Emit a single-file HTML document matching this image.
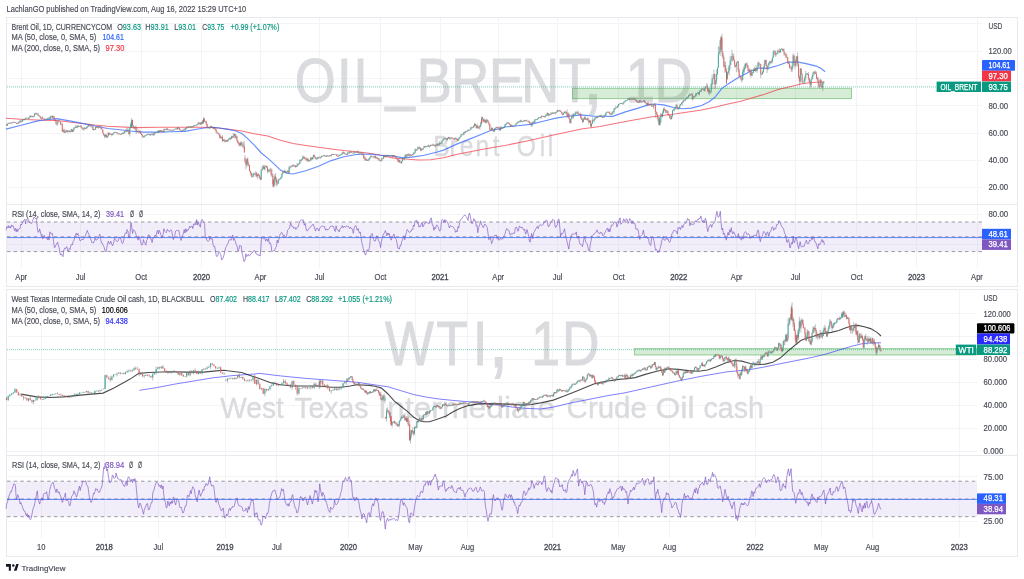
<!DOCTYPE html>
<html><head><meta charset="utf-8"><title>Brent Oil and WTI charts</title>
<style>html,body{margin:0;padding:0;background:#fff;width:1024px;height:579px;overflow:hidden}svg{display:block}</style>
</head><body>
<svg width="1024" height="579" viewBox="0 0 1024 579" font-family='"Liberation Sans", sans-serif'>
<rect width="1024" height="579" fill="#ffffff"/>
<text x="6.6" y="11.8" font-size="8.9" fill="#4a4d57" text-anchor="start" textLength="239.6" lengthAdjust="spacingAndGlyphs" stroke="#4a4d57" stroke-width="0.18">LachlanGO published on TradingView.com, Aug 16, 2022 15:29 UTC+10</text>
<rect x="6.5" y="17.5" width="1011" height="269" fill="#fff" stroke="#e8e9ee" stroke-width="1"/>
<line x1="21.5" y1="18" x2="21.5" y2="268" stroke="#f4f4f6" stroke-width="1"/>
<line x1="80.5" y1="18" x2="80.5" y2="268" stroke="#f4f4f6" stroke-width="1"/>
<line x1="141.5" y1="18" x2="141.5" y2="268" stroke="#f4f4f6" stroke-width="1"/>
<line x1="201.5" y1="18" x2="201.5" y2="268" stroke="#f4f4f6" stroke-width="1"/>
<line x1="260.5" y1="18" x2="260.5" y2="268" stroke="#f4f4f6" stroke-width="1"/>
<line x1="319.5" y1="18" x2="319.5" y2="268" stroke="#f4f4f6" stroke-width="1"/>
<line x1="380.5" y1="18" x2="380.5" y2="268" stroke="#f4f4f6" stroke-width="1"/>
<line x1="440.5" y1="18" x2="440.5" y2="268" stroke="#f4f4f6" stroke-width="1"/>
<line x1="498.5" y1="18" x2="498.5" y2="268" stroke="#f4f4f6" stroke-width="1"/>
<line x1="557.5" y1="18" x2="557.5" y2="268" stroke="#f4f4f6" stroke-width="1"/>
<line x1="618.5" y1="18" x2="618.5" y2="268" stroke="#f4f4f6" stroke-width="1"/>
<line x1="678.5" y1="18" x2="678.5" y2="268" stroke="#f4f4f6" stroke-width="1"/>
<line x1="736.5" y1="18" x2="736.5" y2="268" stroke="#f4f4f6" stroke-width="1"/>
<line x1="795.5" y1="18" x2="795.5" y2="268" stroke="#f4f4f6" stroke-width="1"/>
<line x1="856.5" y1="18" x2="856.5" y2="268" stroke="#f4f4f6" stroke-width="1"/>
<line x1="916.5" y1="18" x2="916.5" y2="268" stroke="#f4f4f6" stroke-width="1"/>
<line x1="977.5" y1="18" x2="977.5" y2="268" stroke="#f4f4f6" stroke-width="1"/>
<line x1="7" y1="23.5" x2="982" y2="23.5" stroke="#f4f4f6" stroke-width="1"/>
<line x1="7" y1="51.5" x2="982" y2="51.5" stroke="#f4f4f6" stroke-width="1"/>
<line x1="7" y1="78.5" x2="982" y2="78.5" stroke="#f4f4f6" stroke-width="1"/>
<line x1="7" y1="105.5" x2="982" y2="105.5" stroke="#f4f4f6" stroke-width="1"/>
<line x1="7" y1="133.5" x2="982" y2="133.5" stroke="#f4f4f6" stroke-width="1"/>
<line x1="7" y1="160.5" x2="982" y2="160.5" stroke="#f4f4f6" stroke-width="1"/>
<line x1="7" y1="187.5" x2="982" y2="187.5" stroke="#f4f4f6" stroke-width="1"/>
<line x1="7" y1="214.5" x2="982" y2="214.5" stroke="#f4f4f6" stroke-width="1"/>
<line x1="7" y1="244.5" x2="982" y2="244.5" stroke="#f4f4f6" stroke-width="1"/>
<line x1="6" y1="204.5" x2="1018" y2="204.5" stroke="#e8e9ee" stroke-width="1"/>
<text transform="scale(0.8321,1)" font-size="63.23" fill="#dadbde" stroke="#dadbde" stroke-width="1.0"><tspan x="354.3" y="102.4">O</tspan><tspan x="404.9" y="102.4">I</tspan><tspan x="425.0" y="102.4">L</tspan><tspan x="463.2" y="97.6">_</tspan><tspan x="500.8" y="102.4">B</tspan><tspan x="542.3" y="102.4">R</tspan><tspan x="587.8" y="102.4">E</tspan><tspan x="626.5" y="102.4">N</tspan><tspan x="671.6" y="102.4">T</tspan><tspan x="700.2" y="103.9" font-size="88">,</tspan><tspan x="721.1" y="102.4"> </tspan><tspan x="752.1" y="102.4">1</tspan><tspan x="786.6" y="102.4">D</tspan></text>
<text transform="scale(0.8329,1)" font-size="29.51" fill="#dadbde" stroke="#dadbde" stroke-width="0.4"><tspan x="520.2" y="155.7">B</tspan><tspan x="539.6" y="155.7">r</tspan><tspan x="551.9" y="155.7">e</tspan><tspan x="571.0" y="155.7">n</tspan><tspan x="591.5" y="155.7">t</tspan><tspan x="609.9" y="155.7"> </tspan><tspan x="620.3" y="155.7">O</tspan><tspan x="647.9" y="155.7">i</tspan><tspan x="657.8" y="155.7">l</tspan></text>
<rect x="572.5" y="88.3" width="279" height="10.3" fill="rgba(76,175,80,0.23)" stroke="#4caf50" stroke-opacity="0.55" stroke-width="1"/>
<line x1="7" y1="86.9" x2="937" y2="86.9" stroke="#089981" stroke-width="1" stroke-dasharray="1 1" opacity="0.5"/>
<polyline points="6.0,118.3 25.0,119.6 44.1,120.2 56.8,120.5 69.5,122.1 82.2,123.4 94.9,125.1 107.6,126.3 136.0,127.6 157.6,127.3 185.3,127.3 199.1,127.3 212.9,127.5 226.7,128.9 240.5,130.7 254.3,133.8 267.7,135.9 280.4,140.3 293.1,143.5 305.8,145.4 318.5,147.3 331.2,148.9 343.9,150.5 356.6,151.7 369.3,153.3 380.0,155.0 392.7,158.1 405.4,159.0 418.1,159.9 430.8,159.7 443.5,157.8 456.2,154.6 468.9,152.0 481.6,149.5 494.3,147.2 505.0,145.5 530.4,140.3 555.8,134.6 581.2,128.9 600.0,126.5 625.4,121.4 650.8,117.0 676.2,113.8 701.6,110.0 716.8,106.8 730.0,103.6 740.0,101.6 752.7,97.8 765.4,94.0 778.1,89.6 790.8,86.4 800.9,83.9 811.1,82.6 820.0,82.0 824.4,82.0" fill="none" stroke="#f23645" stroke-width="1.05" opacity="0.7"/>
<polyline points="6.0,129.1 21.2,125.3 37.7,120.9 44.1,120.0 56.8,118.7 69.5,120.9 82.2,123.4 94.9,126.0 107.6,128.5 120.3,129.8 130.0,131.0 143.8,132.1 157.6,132.1 171.4,131.8 185.3,131.4 196.3,129.3 206.0,127.7 212.9,127.3 219.8,128.0 226.7,129.1 235.0,130.7 241.9,133.5 247.4,138.3 254.3,145.2 261.3,153.0 267.7,158.1 274.0,163.8 280.4,170.1 286.7,173.3 293.1,174.0 305.8,170.8 318.5,166.3 331.2,160.6 343.9,156.8 356.6,154.5 369.3,154.0 380.0,155.2 392.7,155.9 402.9,157.8 411.7,157.1 424.4,155.2 437.1,152.0 443.5,150.1 456.2,144.4 468.9,139.4 481.6,134.3 490.4,130.5 500.6,128.6 505.0,127.0 517.7,125.7 530.4,124.4 543.1,121.3 555.8,118.1 568.5,116.2 581.2,114.9 593.9,116.2 600.0,116.3 612.7,116.3 625.4,111.9 638.1,108.1 648.2,104.9 654.6,104.0 663.5,104.9 673.6,107.5 682.5,108.7 691.4,108.1 701.6,105.5 709.2,101.7 715.5,96.7 721.9,88.4 730.0,82.7 739.2,77.0 746.8,73.2 750.2,71.2 759.0,68.0 767.9,68.3 778.1,65.5 787.0,62.3 797.1,61.9 806.0,63.6 816.2,66.1 821.2,68.6 825.1,71.8" fill="none" stroke="#2962ff" stroke-width="1.15" opacity="0.72"/>
<path d="M6.50 124.16V125.73M7.40 123.34V125.71M8.30 122.41V124.06M9.20 122.91V123.78M10.10 122.71V124.09M11.00 122.57V124.18M11.90 122.45V123.55M12.80 121.86V122.72M13.70 121.67V122.76M14.60 121.67V122.76M15.50 122.12V122.91M16.40 122.76V123.76M17.30 123.04V123.96M18.20 121.39V123.80M19.10 122.20V122.84M20.00 120.18V122.92M20.90 119.98V121.79M21.80 120.50V122.31M22.70 119.33V121.79M23.60 119.17V120.39M24.50 118.93V120.06M25.40 117.74V119.99M26.30 117.63V118.64M27.20 117.55V118.21M28.10 117.95V119.67M29.00 117.31V119.09M29.90 115.82V117.70M30.80 115.58V117.02M31.70 115.76V117.26M32.60 115.78V117.59M33.50 116.13V117.05M34.40 112.86V116.88M35.30 112.94V114.86M36.20 112.35V114.67M37.10 113.27V114.45M38.00 113.06V115.91M38.90 115.15V116.56M39.80 115.45V117.06M40.70 116.28V118.92M41.60 117.22V119.27M42.50 116.35V118.65M43.40 118.42V118.59M44.30 118.17V119.57M45.20 118.86V119.46M46.10 118.43V119.50M47.00 118.72V119.61M47.90 117.42V119.43M48.80 117.46V118.19M49.70 116.74V118.93M50.60 115.36V119.29M51.50 116.06V117.23M52.40 115.34V118.62M53.30 115.53V117.90M54.20 116.22V121.05M55.10 118.79V121.23M56.00 119.63V124.91M56.90 122.80V125.75M57.80 120.43V125.20M58.70 118.76V121.25M59.60 121.20V121.96M60.50 121.59V125.35M61.40 123.56V124.58M62.30 122.35V131.86M63.20 129.23V132.19M64.10 128.42V133.05M65.00 130.83V133.29M65.90 129.35V132.87M66.80 130.31V131.80M67.70 130.10V133.11M68.60 130.49V131.80M69.50 129.94V132.27M70.40 130.67V132.39M71.30 128.91V131.66M72.20 128.74V132.20M73.10 129.85V132.02M74.00 127.26V130.70M74.90 126.88V128.32M75.80 125.01V127.85M76.70 125.80V127.60M77.60 125.06V128.14M78.50 124.89V127.01M79.40 126.04V126.82M80.30 125.53V126.63M81.20 125.08V128.07M82.10 127.15V129.33M83.00 129.06V129.62M83.90 127.47V130.68M84.80 127.21V128.82M85.70 128.05V129.03M86.60 126.68V129.44M87.50 125.61V128.23M88.40 125.00V126.98M89.30 123.77V126.42M90.20 124.50V126.10M91.10 126.00V127.56M92.00 126.56V127.09M92.90 125.69V130.22M93.80 128.72V130.77M94.70 128.82V129.62M95.60 126.85V130.17M96.50 126.39V127.88M97.40 126.42V127.91M98.30 125.67V128.60M99.20 126.42V127.66M100.10 125.33V127.53M101.00 126.22V129.44M101.90 128.00V129.67M102.80 129.65V133.44M103.70 133.02V136.00M104.60 134.48V138.32M105.50 134.55V137.12M106.40 134.53V137.75M107.30 136.01V137.80M108.20 132.37V136.75M109.10 132.21V135.15M110.00 133.51V134.92M110.90 133.69V134.54M111.80 133.55V136.25M112.70 133.24V135.11M113.60 132.54V134.23M114.50 131.76V132.81M115.40 131.60V132.84M116.30 132.35V132.96M117.20 132.15V133.64M118.10 133.22V134.54M119.00 133.57V134.28M119.90 133.48V134.33M120.80 133.69V135.10M121.70 132.90V134.55M122.60 132.61V133.88M123.50 132.18V134.16M124.40 131.18V133.76M125.30 130.60V132.36M126.20 128.33V132.71M127.10 128.20V131.64M128.00 127.37V131.89M128.90 129.49V135.05M129.80 127.34V136.57M130.70 122.37V128.45M131.60 118.13V126.40M132.50 119.67V125.87M133.40 125.09V128.68M134.30 126.59V129.12M135.20 126.13V129.56M136.10 125.45V134.09M137.00 130.39V132.81M137.90 128.72V132.01M138.80 130.64V133.44M139.70 130.42V133.19M140.60 130.69V134.11M141.50 133.20V135.26M142.40 133.72V137.71M143.30 136.41V137.70M144.20 135.42V137.52M145.10 134.57V136.32M146.00 135.12V135.83M146.90 133.48V135.49M147.80 134.00V134.85M148.70 133.33V134.16M149.60 133.81V135.73M150.50 134.22V135.98M151.40 133.75V135.18M152.30 133.41V134.75M153.20 133.05V135.81M154.10 133.00V135.27M155.00 131.99V133.96M155.90 132.22V133.25M156.80 132.19V132.68M157.70 130.53V132.42M158.60 130.54V133.18M159.50 130.29V132.45M160.40 129.75V131.76M161.30 130.02V132.14M162.20 130.14V131.99M163.10 131.37V132.41M164.00 128.85V132.72M164.90 128.49V129.20M165.80 128.66V130.01M166.70 128.15V130.47M167.60 128.03V130.37M168.50 129.60V130.29M169.40 129.23V130.36M170.30 129.42V130.74M171.20 129.49V130.63M172.10 129.35V130.60M173.00 130.00V131.27M173.90 129.34V130.55M174.80 128.80V129.46M175.70 128.33V129.41M176.60 128.33V129.41M177.50 127.29V129.56M178.40 127.04V128.90M179.30 127.68V130.09M180.20 128.56V130.73M181.10 130.05V131.84M182.00 130.17V131.61M182.90 128.58V130.74M183.80 129.64V131.17M184.70 128.20V130.65M185.60 127.60V130.75M186.50 126.57V129.07M187.40 127.27V128.12M188.30 125.98V127.86M189.20 126.16V126.99M190.10 126.68V128.20M191.00 126.06V127.74M191.90 126.32V126.90M192.80 125.83V127.61M193.70 125.22V127.05M194.60 124.79V126.34M195.50 124.99V125.25M196.40 124.09V125.67M197.30 124.37V125.39M198.20 122.02V124.76M199.10 121.68V123.87M200.00 122.24V124.97M200.90 122.33V124.83M201.80 121.89V124.74M202.70 120.12V123.90M203.60 116.90V121.46M204.50 118.46V122.12M205.40 121.17V122.41M206.30 120.65V125.35M207.20 123.90V128.38M208.10 126.94V128.69M209.00 126.22V128.41M209.90 127.22V129.14M210.80 125.77V128.00M211.70 125.84V127.89M212.60 127.69V128.36M213.50 127.24V128.80M214.40 127.70V129.44M215.30 127.17V130.43M216.20 128.28V132.85M217.10 131.71V133.75M218.00 132.53V133.76M218.90 132.94V135.40M219.80 133.58V138.71M220.70 135.36V138.35M221.60 136.76V139.24M222.50 135.21V141.96M223.40 139.30V141.04M224.30 138.75V142.53M225.20 139.77V141.82M226.10 139.92V142.62M227.00 139.94V141.75M227.90 139.48V141.73M228.80 137.92V139.70M229.70 137.29V139.78M230.60 137.42V140.44M231.50 135.56V138.74M232.40 136.02V138.32M233.30 133.14V137.90M234.20 133.34V136.75M235.10 133.90V138.67M236.00 134.29V138.32M236.90 135.74V141.27M237.80 140.10V143.24M238.70 141.64V145.74M239.60 142.46V146.41M240.50 141.58V146.50M241.40 141.05V145.13M242.30 142.29V146.85M243.20 142.19V148.54M244.10 140.78V146.94M245.00 155.11V162.92M245.90 159.88V169.46M246.80 158.32V167.28M247.70 157.25V166.01M248.60 161.91V166.33M249.50 164.83V171.53M250.40 170.36V174.53M251.30 172.37V177.79M252.20 175.41V176.81M253.10 173.18V177.37M254.00 172.51V175.27M254.90 174.03V175.31M255.80 171.31V176.88M256.70 172.47V177.48M257.60 174.04V178.69M258.50 173.23V176.16M259.40 174.59V178.68M260.30 176.74V180.06M261.20 169.42V179.76M262.10 166.78V170.61M263.00 165.03V168.92M263.90 164.79V169.63M264.80 165.59V170.54M265.70 165.17V166.55M266.60 165.39V168.20M267.50 165.90V173.14M268.40 168.81V172.29M269.30 169.58V172.48M270.20 167.69V171.20M271.10 168.22V176.35M272.00 169.40V177.17M272.90 173.62V186.91M273.80 182.68V185.52M274.70 174.19V186.85M275.60 173.14V181.62M276.50 177.69V186.11M277.40 180.67V185.58M278.30 179.35V183.99M279.20 178.74V180.60M280.10 178.17V179.71M281.00 176.47V178.63M281.90 173.71V178.57M282.80 171.54V174.60M283.70 170.71V172.46M284.60 169.35V172.48M285.50 170.62V173.04M286.40 171.44V172.51M287.30 170.48V173.06M288.20 170.55V173.07M289.10 166.10V173.63M290.00 165.50V169.24M290.90 166.56V167.59M291.80 165.40V167.15M292.70 164.61V167.04M293.60 164.26V166.81M294.50 165.20V166.65M295.40 165.35V167.79M296.30 165.74V167.16M297.20 163.10V167.14M298.10 163.20V166.05M299.00 162.97V164.25M299.90 159.68V164.27M300.80 159.72V161.12M301.70 158.95V161.62M302.60 155.44V160.05M303.50 155.79V159.11M304.40 156.58V159.19M305.30 157.09V159.10M306.20 158.27V161.17M307.10 157.43V161.30M308.00 158.25V162.08M308.90 159.45V161.42M309.80 159.65V161.50M310.70 156.74V161.07M311.60 157.39V160.23M312.50 157.28V159.62M313.40 154.57V159.02M314.30 154.36V156.94M315.20 156.37V158.80M316.10 157.93V159.57M317.00 157.37V159.75M317.90 156.75V158.84M318.80 157.22V158.33M319.70 156.44V157.71M320.60 156.48V158.83M321.50 155.55V157.37M322.40 155.96V156.44M323.30 154.71V156.17M324.20 154.74V156.08M325.10 155.25V156.44M326.00 156.10V156.57M326.90 154.75V156.78M327.80 155.37V156.68M328.70 155.66V156.76M329.60 155.31V156.39M330.50 154.97V155.99M331.40 154.18V156.29M332.30 154.00V155.00M333.20 153.52V155.02M334.10 154.37V154.90M335.00 154.29V155.10M335.90 154.34V154.58M336.80 153.88V156.13M337.70 155.68V156.58M338.60 154.53V156.46M339.50 154.53V156.05M340.40 154.72V155.74M341.30 154.07V155.17M342.20 152.24V155.22M343.10 151.26V153.46M344.00 151.82V154.31M344.90 153.15V154.01M345.80 153.43V154.77M346.70 153.98V155.19M347.60 152.30V154.92M348.50 152.39V153.27M349.40 150.98V153.68M350.30 151.52V152.46M351.20 151.12V152.92M352.10 152.74V153.05M353.00 152.41V153.03M353.90 151.49V153.57M354.80 151.90V153.62M355.70 151.00V152.22M356.60 151.84V152.51M357.50 150.45V152.70M358.40 151.06V153.93M359.30 152.81V153.78M360.20 151.97V153.31M361.10 151.74V153.95M362.00 153.29V153.67M362.90 152.18V155.76M363.80 154.55V158.66M364.70 156.18V160.55M365.60 157.31V160.98M366.50 158.64V160.93M367.40 159.17V160.54M368.30 158.88V161.21M369.20 158.16V160.84M370.10 156.43V159.06M371.00 155.11V157.52M371.90 155.66V156.96M372.80 156.46V157.04M373.70 155.83V157.18M374.60 155.54V158.50M375.50 155.33V158.44M376.40 156.76V158.69M377.30 157.05V158.59M378.20 157.86V160.55M379.10 158.02V160.48M380.00 159.95V161.91M380.90 160.33V161.35M381.80 157.35V161.24M382.70 158.04V158.95M383.60 155.38V159.25M384.50 154.74V157.20M385.40 155.99V157.38M386.30 155.25V157.32M387.20 154.34V156.03M388.10 155.44V156.43M389.00 155.08V156.26M389.90 155.18V156.69M390.80 155.41V156.24M391.70 155.25V156.39M392.60 155.38V157.46M393.50 154.85V157.40M394.40 155.30V156.53M395.30 155.52V157.84M396.20 156.99V158.84M397.10 158.19V160.06M398.00 158.88V161.82M398.90 159.22V162.67M399.80 159.47V163.03M400.70 162.30V163.01M401.60 160.87V163.96M402.50 157.41V161.80M403.40 158.07V159.31M404.30 156.58V160.46M405.20 153.98V158.41M406.10 153.74V156.75M407.00 154.01V156.97M407.90 153.59V155.62M408.80 153.46V156.12M409.70 153.91V156.84M410.60 153.90V156.35M411.50 154.77V156.32M412.40 154.09V155.51M413.30 152.36V155.47M414.20 152.44V154.30M415.10 148.27V153.53M416.00 149.38V150.55M416.90 148.79V150.55M417.80 146.61V149.23M418.70 146.57V149.37M419.60 146.34V148.61M420.50 147.49V150.95M421.40 148.29V151.19M422.30 148.46V149.45M423.20 147.76V150.11M424.10 145.85V148.23M425.00 146.10V147.13M425.90 145.87V147.75M426.80 145.88V146.87M427.70 145.48V146.97M428.60 144.48V146.60M429.50 145.73V147.57M430.40 144.74V146.55M431.30 144.62V145.87M432.20 144.10V145.71M433.10 143.61V145.96M434.00 144.36V145.44M434.90 144.62V146.91M435.80 144.36V146.66M436.70 143.84V145.18M437.60 143.11V145.92M438.50 143.07V145.49M439.40 141.14V145.70M440.30 142.43V144.40M441.20 141.26V143.85M442.10 139.88V143.59M443.00 139.01V140.80M443.90 137.55V140.38M444.80 138.44V138.89M445.70 137.97V139.16M446.60 138.28V139.99M447.50 137.68V140.48M448.40 136.69V138.81M449.30 137.08V139.37M450.20 137.60V139.88M451.10 137.36V137.84M452.00 137.04V139.05M452.90 137.94V138.51M453.80 138.33V139.89M454.70 137.87V139.52M455.60 137.19V139.73M456.50 138.12V139.74M457.40 138.93V140.94M458.30 138.28V140.66M459.20 137.09V139.70M460.10 136.52V138.53M461.00 134.09V137.20M461.90 134.54V134.99M462.80 133.29V134.92M463.70 131.93V135.53M464.60 131.42V134.42M465.50 130.91V132.78M466.40 130.88V131.48M467.30 129.71V132.30M468.20 129.01V131.31M469.10 129.97V130.46M470.00 128.74V130.35M470.90 126.68V129.58M471.80 127.10V128.63M472.70 127.07V128.17M473.60 125.36V127.48M474.50 122.91V126.77M475.40 123.65V126.34M476.30 124.82V128.56M477.20 123.85V128.53M478.10 125.33V128.82M479.00 126.92V128.91M479.90 124.99V129.51M480.80 121.92V127.01M481.70 116.62V123.12M482.60 116.83V120.57M483.50 118.94V122.12M484.40 118.41V122.23M485.30 119.43V123.52M486.20 118.49V123.30M487.10 118.75V121.96M488.00 120.32V123.20M488.90 122.30V125.62M489.80 123.67V130.08M490.70 129.37V131.06M491.60 126.76V130.91M492.50 127.57V129.95M493.40 129.46V132.00M494.30 128.06V132.29M495.20 127.84V130.29M496.10 126.94V128.29M497.00 126.60V128.67M497.90 126.65V127.73M498.80 126.98V128.73M499.70 126.61V130.46M500.60 126.22V130.41M501.50 126.61V128.48M502.40 127.25V129.04M503.30 126.94V128.22M504.20 126.20V127.75M505.10 124.18V127.19M506.00 123.45V124.72M506.90 122.49V124.10M507.80 121.96V122.75M508.70 122.36V124.40M509.60 123.36V124.81M510.50 123.98V126.28M511.40 124.47V126.62M512.30 125.22V126.99M513.20 125.84V126.32M514.10 125.64V126.08M515.00 124.60V125.84M515.90 123.44V125.52M516.80 122.12V124.18M517.70 121.54V123.29M518.60 121.13V123.04M519.50 120.80V122.11M520.40 120.15V122.53M521.30 119.58V121.98M522.20 121.62V122.44M523.10 120.84V121.99M524.00 119.93V121.51M524.90 119.92V122.03M525.80 120.20V121.43M526.70 119.50V120.97M527.60 120.96V121.97M528.50 120.70V122.53M529.40 120.54V123.80M530.30 122.24V124.37M531.20 123.06V126.60M532.10 121.94V126.71M533.00 121.13V122.94M533.90 120.97V122.78M534.80 119.07V122.95M535.70 119.03V120.14M536.60 118.94V120.33M537.50 118.18V119.83M538.40 117.35V119.14M539.30 117.11V117.63M540.20 116.95V118.58M541.10 115.93V118.85M542.00 115.30V117.17M542.90 116.12V116.82M543.80 115.53V117.20M544.70 115.91V117.86M545.60 114.52V117.41M546.50 113.82V115.74M547.40 111.98V115.97M548.30 113.06V116.61M549.20 113.83V115.78M550.10 113.44V115.12M551.00 112.06V115.09M551.90 112.78V114.01M552.80 111.91V113.95M553.70 112.48V113.22M554.60 112.13V113.67M555.50 112.13V114.47M556.40 111.34V113.04M557.30 110.25V112.33M558.20 109.93V111.97M559.10 110.01V111.10M560.00 109.66V111.79M560.90 110.64V112.19M561.80 111.55V114.37M562.70 112.79V115.43M563.60 112.56V114.67M564.50 110.92V113.21M565.40 110.77V113.59M566.30 111.55V114.22M567.20 109.42V117.75M568.10 112.18V117.34M569.00 113.42V118.92M569.90 118.01V123.14M570.80 118.74V123.94M571.70 114.49V119.19M572.60 113.57V117.53M573.50 113.08V118.51M574.40 113.81V115.06M575.30 111.50V115.82M576.20 111.34V113.69M577.10 111.37V113.50M578.00 110.44V114.78M578.90 113.24V115.24M579.80 113.80V115.40M580.70 112.36V118.71M581.60 116.38V120.03M582.50 118.60V123.02M583.40 117.99V122.09M584.30 116.54V119.91M585.20 115.64V119.97M586.10 118.36V120.18M587.00 118.10V120.00M587.90 117.27V121.19M588.80 119.30V124.51M589.70 119.72V122.82M590.60 120.05V126.65M591.50 123.56V127.25M592.40 117.13V124.03M593.30 119.62V121.41M594.20 118.03V122.46M595.10 116.90V119.94M596.00 116.42V117.73M596.90 116.43V118.73M597.80 116.40V118.22M598.70 116.28V116.83M599.60 115.18V116.97M600.50 114.81V117.04M601.40 114.53V117.13M602.30 116.28V118.12M603.20 116.78V117.71M604.10 114.75V117.70M605.00 114.41V115.62M605.90 111.81V115.58M606.80 112.02V113.19M607.70 111.09V112.55M608.60 111.52V112.65M609.50 111.54V114.29M610.40 112.84V114.31M611.30 113.38V115.10M612.20 111.23V114.80M613.10 110.98V112.71M614.00 107.96V113.95M614.90 107.88V109.69M615.80 105.80V108.76M616.70 107.24V107.97M617.60 105.41V108.04M618.50 104.23V106.78M619.40 103.72V105.01M620.30 102.97V103.76M621.20 102.49V103.67M622.10 103.14V104.26M623.00 102.52V105.03M623.90 101.40V103.45M624.80 100.62V102.10M625.70 100.26V101.59M626.60 100.27V100.72M627.50 99.24V100.54M628.40 98.04V100.01M629.30 97.88V100.08M630.20 99.18V100.08M631.10 97.85V99.60M632.00 98.25V99.57M632.90 98.11V99.96M633.80 97.69V99.56M634.70 98.25V99.41M635.60 98.88V100.77M636.50 99.90V102.26M637.40 100.66V102.73M638.30 101.73V102.86M639.20 100.18V103.11M640.10 99.80V102.71M641.00 99.87V102.23M641.90 101.32V102.53M642.80 100.87V102.17M643.70 100.09V101.61M644.60 99.99V103.18M645.50 101.79V103.21M646.40 102.83V105.58M647.30 102.63V105.49M648.20 102.35V105.36M649.10 104.19V105.78M650.00 103.24V105.27M650.90 103.30V104.87M651.80 103.66V106.50M652.70 106.05V106.88M653.60 103.99V108.91M654.50 103.64V105.45M655.40 103.36V117.75M656.30 111.47V114.46M657.20 112.72V118.67M658.10 115.35V122.13M659.00 120.29V125.49M659.90 121.28V125.88M660.80 112.72V123.27M661.70 113.69V116.70M662.60 110.57V117.62M663.50 107.73V113.33M664.40 107.07V110.95M665.30 109.41V113.28M666.20 109.88V112.76M667.10 109.62V112.59M668.00 110.78V115.36M668.90 115.01V115.57M669.80 114.79V118.43M670.70 115.49V120.18M671.60 115.33V119.41M672.50 110.11V117.37M673.40 108.26V110.92M674.30 108.67V111.60M675.20 106.77V109.65M676.10 104.00V107.57M677.00 103.40V109.50M677.90 107.12V110.07M678.80 107.09V109.46M679.70 104.33V108.62M680.60 103.79V105.53M681.50 102.36V104.65M682.40 101.48V105.54M683.30 98.25V102.95M684.20 100.42V101.43M685.10 98.40V101.36M686.00 96.99V99.47M686.90 96.28V99.48M687.80 96.36V98.20M688.70 94.46V97.67M689.60 92.89V95.36M690.50 94.19V95.80M691.40 93.55V95.13M692.30 92.52V100.67M693.20 95.45V99.51M694.10 96.00V98.30M695.00 94.88V96.91M695.90 93.13V96.52M696.80 92.78V95.65M697.70 91.81V93.96M698.60 91.88V94.94M699.50 89.95V95.38M700.40 90.30V92.08M701.30 88.76V91.89M702.20 88.05V89.82M703.10 87.54V89.78M704.00 88.86V91.16M704.90 86.28V91.68M705.80 85.88V88.97M706.70 83.27V87.26M707.60 84.16V91.75M708.50 87.93V94.15M709.40 88.44V95.32M710.30 90.97V93.39M711.20 82.90V93.24M712.10 74.54V88.57M713.00 77.69V85.03M713.90 69.49V79.37M714.80 73.64V89.05M715.70 80.10V87.96M716.60 69.26V84.06M717.50 67.62V74.80M718.40 46.32V67.83M719.30 46.94V54.21M720.20 40.05V55.81M721.10 36.48V43.79M722.00 33.69V56.44M722.90 51.05V59.29M723.80 55.10V67.56M724.70 61.43V72.77M725.60 61.77V72.42M726.50 68.33V83.98M727.40 71.86V79.88M728.30 67.26V74.17M729.20 64.93V75.55M730.10 55.71V69.50M731.00 57.59V65.13M731.90 49.81V60.82M732.80 52.98V61.59M733.70 53.83V60.54M734.60 59.69V67.68M735.50 65.14V67.44M736.40 62.39V72.15M737.30 61.36V63.03M738.20 60.83V72.03M739.10 68.20V76.85M740.00 74.40V77.72M740.90 76.09V80.79M741.80 77.89V82.57M742.70 68.97V80.63M743.60 66.59V74.77M744.50 64.50V72.60M745.40 63.00V69.27M746.30 63.38V65.62M747.20 62.22V67.63M748.10 64.87V71.75M749.00 68.81V72.12M749.90 68.57V75.40M750.80 69.91V77.60M751.70 69.10V75.68M752.60 71.88V76.06M753.50 68.25V73.06M754.40 66.55V71.14M755.30 67.84V72.23M756.20 65.08V71.16M757.10 67.37V72.77M758.00 61.59V67.80M758.90 61.47V67.29M759.80 63.58V66.34M760.70 63.76V78.10M761.60 73.35V74.34M762.50 70.86V74.65M763.40 66.61V73.16M764.30 59.82V69.81M765.20 59.68V64.26M766.10 59.84V66.33M767.00 63.69V73.08M767.90 65.75V70.28M768.80 62.30V66.19M769.70 61.07V64.44M770.60 61.24V64.32M771.50 59.96V63.52M772.40 56.83V63.19M773.30 50.13V57.71M774.20 50.37V52.50M775.10 50.13V56.74M776.00 51.36V56.54M776.90 53.05V53.98M777.80 49.31V54.26M778.70 50.16V51.90M779.60 48.20V53.04M780.50 49.14V52.95M781.40 48.15V49.62M782.30 48.14V51.42M783.20 48.77V51.39M784.10 48.44V56.03M785.00 52.97V54.74M785.90 52.49V58.51M786.80 54.23V58.13M787.70 57.07V64.24M788.60 60.90V64.16M789.50 61.38V68.61M790.40 65.39V68.32M791.30 67.47V71.93M792.20 62.70V71.80M793.10 53.27V67.58M794.00 54.78V62.97M794.90 56.53V69.10M795.80 58.94V66.75M796.70 55.95V62.52M797.60 52.42V66.61M798.50 62.95V78.61M799.40 75.63V85.64M800.30 68.35V83.38M801.20 68.41V75.16M802.10 72.87V82.85M803.00 81.81V83.41M803.90 79.29V82.33M804.80 76.28V84.08M805.70 70.97V79.65M806.60 72.99V74.52M807.50 73.43V75.05M808.40 72.01V80.23M809.30 77.87V82.52M810.20 80.15V88.28M811.10 79.06V87.05M812.00 75.28V79.47M812.90 72.52V79.14M813.80 71.09V74.06M814.70 70.74V75.20M815.60 70.67V74.02M816.50 71.62V79.00M817.40 77.15V80.57M818.30 76.90V87.57M819.20 84.52V87.57M820.10 78.57V88.69M821.00 78.93V83.79M821.90 83.58V87.93M822.80 81.65V91.16M823.70 81.69V83.71" stroke="#737375" stroke-width="0.45" fill="none"/>
<path d="M6.90 123.95h1.0v1.74h-1.0zM7.80 123.21h1.0v0.74h-1.0zM9.60 122.75h1.0v0.60h-1.0zM11.40 122.52h1.0v0.60h-1.0zM12.30 122.36h1.0v0.60h-1.0zM13.20 122.26h1.0v0.60h-1.0zM17.70 122.57h1.0v1.17h-1.0zM19.50 120.76h1.0v1.91h-1.0zM21.30 121.35h1.0v0.60h-1.0zM22.20 119.35h1.0v2.00h-1.0zM24.00 119.60h1.0v0.60h-1.0zM24.90 118.13h1.0v1.47h-1.0zM25.80 117.67h1.0v0.60h-1.0zM28.50 117.60h1.0v1.27h-1.0zM29.40 115.84h1.0v1.76h-1.0zM31.20 115.88h1.0v0.83h-1.0zM33.00 116.15h1.0v0.63h-1.0zM33.90 113.70h1.0v2.45h-1.0zM35.70 113.63h1.0v0.60h-1.0zM36.60 113.47h1.0v0.60h-1.0zM41.10 117.53h1.0v0.72h-1.0zM45.60 118.99h1.0v0.60h-1.0zM46.50 118.87h1.0v0.60h-1.0zM47.40 118.01h1.0v0.85h-1.0zM48.30 117.79h1.0v0.60h-1.0zM50.10 116.49h1.0v1.91h-1.0zM51.00 116.08h1.0v0.60h-1.0zM52.80 116.53h1.0v0.92h-1.0zM56.40 123.15h1.0v0.60h-1.0zM57.30 121.19h1.0v1.97h-1.0zM62.70 129.91h1.0v1.61h-1.0zM64.50 131.96h1.0v0.60h-1.0zM65.40 130.47h1.0v1.49h-1.0zM67.20 130.79h1.0v0.90h-1.0zM69.90 131.54h1.0v0.60h-1.0zM70.80 129.13h1.0v2.41h-1.0zM72.60 130.11h1.0v1.85h-1.0zM73.50 127.64h1.0v2.48h-1.0zM74.40 127.41h1.0v0.60h-1.0zM75.30 126.52h1.0v0.89h-1.0zM77.10 126.48h1.0v0.96h-1.0zM78.00 126.19h1.0v0.60h-1.0zM78.90 126.17h1.0v0.60h-1.0zM79.80 125.74h1.0v0.60h-1.0zM83.40 127.76h1.0v1.76h-1.0zM85.20 128.11h1.0v0.60h-1.0zM86.10 126.76h1.0v1.35h-1.0zM87.00 126.63h1.0v0.60h-1.0zM87.90 125.54h1.0v1.09h-1.0zM88.80 124.62h1.0v0.92h-1.0zM91.50 126.67h1.0v0.60h-1.0zM93.30 128.92h1.0v0.96h-1.0zM95.10 126.90h1.0v2.35h-1.0zM97.80 126.67h1.0v1.14h-1.0zM99.60 126.75h1.0v0.60h-1.0zM105.00 134.62h1.0v1.93h-1.0zM106.80 136.16h1.0v1.27h-1.0zM107.70 132.66h1.0v3.50h-1.0zM109.50 133.77h1.0v0.94h-1.0zM112.20 134.11h1.0v0.85h-1.0zM113.10 132.81h1.0v1.30h-1.0zM114.00 132.49h1.0v0.60h-1.0zM115.80 132.54h1.0v0.60h-1.0zM118.50 133.75h1.0v0.60h-1.0zM121.20 133.40h1.0v1.14h-1.0zM123.00 132.77h1.0v0.97h-1.0zM123.90 131.25h1.0v1.52h-1.0zM124.80 130.69h1.0v0.60h-1.0zM126.60 130.11h1.0v1.03h-1.0zM129.30 128.29h1.0v5.77h-1.0zM130.20 123.92h1.0v4.37h-1.0zM131.10 120.09h1.0v3.83h-1.0zM134.70 127.08h1.0v1.13h-1.0zM137.40 130.95h1.0v0.60h-1.0zM139.20 131.44h1.0v0.60h-1.0zM143.70 135.85h1.0v1.28h-1.0zM144.60 135.77h1.0v0.60h-1.0zM145.50 135.25h1.0v0.60h-1.0zM146.40 134.15h1.0v1.10h-1.0zM148.20 134.07h1.0v0.60h-1.0zM150.00 134.36h1.0v0.60h-1.0zM150.90 133.85h1.0v0.60h-1.0zM151.80 133.75h1.0v0.60h-1.0zM153.60 133.42h1.0v1.74h-1.0zM154.50 132.46h1.0v0.97h-1.0zM156.30 132.21h1.0v0.60h-1.0zM157.20 130.77h1.0v1.44h-1.0zM159.00 130.34h1.0v1.75h-1.0zM160.80 130.84h1.0v0.90h-1.0zM163.50 128.98h1.0v3.37h-1.0zM166.20 128.86h1.0v0.72h-1.0zM168.00 129.64h1.0v0.60h-1.0zM170.70 129.95h1.0v0.60h-1.0zM172.50 130.24h1.0v0.60h-1.0zM173.40 129.43h1.0v0.81h-1.0zM174.30 128.96h1.0v0.60h-1.0zM175.20 128.39h1.0v0.60h-1.0zM177.00 127.36h1.0v1.96h-1.0zM181.50 130.63h1.0v0.60h-1.0zM182.40 129.74h1.0v0.89h-1.0zM184.20 129.17h1.0v1.10h-1.0zM185.10 127.88h1.0v1.30h-1.0zM186.00 127.62h1.0v0.60h-1.0zM187.80 126.38h1.0v1.40h-1.0zM190.50 126.37h1.0v1.13h-1.0zM191.40 126.37h1.0v0.60h-1.0zM193.20 126.03h1.0v0.94h-1.0zM194.10 125.18h1.0v0.84h-1.0zM195.00 125.00h1.0v0.60h-1.0zM196.80 124.55h1.0v0.60h-1.0zM197.70 122.95h1.0v1.60h-1.0zM200.40 122.36h1.0v2.11h-1.0zM202.20 120.41h1.0v3.33h-1.0zM203.10 118.47h1.0v1.93h-1.0zM204.90 121.57h1.0v0.60h-1.0zM207.60 127.03h1.0v0.81h-1.0zM209.40 127.94h1.0v0.60h-1.0zM210.30 126.04h1.0v1.90h-1.0zM213.00 128.12h1.0v0.60h-1.0zM220.20 136.79h1.0v1.29h-1.0zM222.90 139.67h1.0v1.25h-1.0zM225.60 140.08h1.0v1.48h-1.0zM227.40 139.53h1.0v2.09h-1.0zM228.30 138.68h1.0v0.85h-1.0zM229.20 138.07h1.0v0.62h-1.0zM231.00 136.49h1.0v2.21h-1.0zM232.80 135.76h1.0v1.71h-1.0zM233.70 134.04h1.0v1.73h-1.0zM235.50 136.60h1.0v1.20h-1.0zM240.00 142.97h1.0v2.35h-1.0zM243.60 144.61h1.0v0.60h-1.0zM246.30 158.89h1.0v5.76h-1.0zM252.60 173.45h1.0v3.18h-1.0zM255.30 172.63h1.0v1.72h-1.0zM257.10 174.55h1.0v1.79h-1.0zM260.70 170.41h1.0v9.34h-1.0zM261.60 168.81h1.0v1.60h-1.0zM262.50 166.34h1.0v2.47h-1.0zM264.30 166.50h1.0v2.81h-1.0zM265.20 166.21h1.0v0.60h-1.0zM267.90 170.63h1.0v0.78h-1.0zM268.80 169.94h1.0v0.69h-1.0zM269.70 169.62h1.0v0.60h-1.0zM274.20 176.47h1.0v8.40h-1.0zM277.80 179.52h1.0v3.72h-1.0zM279.60 178.24h1.0v1.34h-1.0zM280.50 177.10h1.0v1.14h-1.0zM281.40 173.72h1.0v3.38h-1.0zM282.30 171.87h1.0v1.84h-1.0zM284.10 170.88h1.0v1.32h-1.0zM285.90 172.12h1.0v0.60h-1.0zM286.80 170.71h1.0v1.41h-1.0zM288.60 167.62h1.0v5.18h-1.0zM289.50 166.63h1.0v0.99h-1.0zM291.30 165.59h1.0v1.19h-1.0zM292.20 165.27h1.0v0.60h-1.0zM295.80 165.97h1.0v0.96h-1.0zM296.70 164.45h1.0v1.51h-1.0zM297.60 164.22h1.0v0.60h-1.0zM298.50 163.69h1.0v0.60h-1.0zM299.40 159.77h1.0v3.92h-1.0zM301.20 158.96h1.0v1.31h-1.0zM302.10 157.62h1.0v1.34h-1.0zM303.00 156.97h1.0v0.65h-1.0zM306.60 158.79h1.0v1.27h-1.0zM308.40 160.77h1.0v0.60h-1.0zM309.30 160.31h1.0v0.60h-1.0zM310.20 157.76h1.0v2.55h-1.0zM312.00 157.53h1.0v1.68h-1.0zM312.90 155.18h1.0v2.35h-1.0zM316.50 157.55h1.0v1.77h-1.0zM318.30 157.35h1.0v0.99h-1.0zM319.20 157.22h1.0v0.60h-1.0zM321.00 156.18h1.0v1.08h-1.0zM321.90 156.10h1.0v0.60h-1.0zM322.80 155.65h1.0v0.60h-1.0zM323.70 155.55h1.0v0.60h-1.0zM326.40 155.55h1.0v0.96h-1.0zM328.20 155.70h1.0v0.61h-1.0zM329.10 155.55h1.0v0.60h-1.0zM330.90 154.49h1.0v1.14h-1.0zM331.80 154.12h1.0v0.60h-1.0zM333.60 154.43h1.0v0.60h-1.0zM335.40 154.47h1.0v0.60h-1.0zM338.10 155.54h1.0v0.62h-1.0zM339.00 155.42h1.0v0.60h-1.0zM339.90 154.87h1.0v0.60h-1.0zM340.80 154.25h1.0v0.62h-1.0zM341.70 152.87h1.0v1.37h-1.0zM342.60 152.27h1.0v0.61h-1.0zM344.40 153.66h1.0v0.60h-1.0zM347.10 152.71h1.0v1.82h-1.0zM348.90 151.96h1.0v1.20h-1.0zM349.80 151.87h1.0v0.60h-1.0zM353.40 152.81h1.0v0.60h-1.0zM354.30 152.17h1.0v0.64h-1.0zM355.20 152.05h1.0v0.60h-1.0zM357.00 151.72h1.0v0.60h-1.0zM358.80 152.85h1.0v0.60h-1.0zM359.70 152.44h1.0v0.60h-1.0zM361.50 153.53h1.0v0.60h-1.0zM366.90 160.31h1.0v0.60h-1.0zM367.80 159.73h1.0v0.60h-1.0zM368.70 158.32h1.0v1.41h-1.0zM369.60 157.03h1.0v1.30h-1.0zM370.50 156.12h1.0v0.91h-1.0zM372.30 156.82h1.0v0.60h-1.0zM374.10 156.55h1.0v0.60h-1.0zM375.90 157.49h1.0v0.60h-1.0zM381.30 158.49h1.0v2.19h-1.0zM383.10 155.82h1.0v2.80h-1.0zM385.80 155.76h1.0v1.15h-1.0zM387.60 155.77h1.0v0.60h-1.0zM389.40 155.67h1.0v0.60h-1.0zM391.20 155.57h1.0v0.60h-1.0zM393.00 155.38h1.0v1.84h-1.0zM398.40 160.00h1.0v1.67h-1.0zM401.10 160.90h1.0v2.03h-1.0zM402.00 158.69h1.0v2.20h-1.0zM403.80 157.10h1.0v1.89h-1.0zM404.70 155.02h1.0v2.09h-1.0zM406.50 155.32h1.0v0.84h-1.0zM407.40 154.30h1.0v1.02h-1.0zM409.20 154.47h1.0v1.10h-1.0zM411.90 154.43h1.0v0.69h-1.0zM412.80 153.12h1.0v1.31h-1.0zM413.70 152.76h1.0v0.60h-1.0zM414.60 149.38h1.0v3.38h-1.0zM416.40 149.12h1.0v1.37h-1.0zM417.30 147.61h1.0v1.50h-1.0zM419.10 147.70h1.0v0.88h-1.0zM420.90 149.26h1.0v1.25h-1.0zM421.80 149.04h1.0v0.60h-1.0zM422.70 148.01h1.0v1.04h-1.0zM423.60 146.18h1.0v1.83h-1.0zM425.40 146.17h1.0v0.80h-1.0zM426.30 146.16h1.0v0.60h-1.0zM427.20 145.54h1.0v0.62h-1.0zM429.00 146.24h1.0v0.60h-1.0zM429.90 144.89h1.0v1.35h-1.0zM432.60 144.71h1.0v0.94h-1.0zM435.30 145.02h1.0v1.22h-1.0zM436.20 144.24h1.0v0.78h-1.0zM438.00 144.42h1.0v0.79h-1.0zM438.90 143.31h1.0v1.12h-1.0zM440.70 142.69h1.0v1.03h-1.0zM441.60 140.42h1.0v2.27h-1.0zM442.50 139.68h1.0v0.74h-1.0zM443.40 138.46h1.0v1.22h-1.0zM445.20 138.48h1.0v0.60h-1.0zM447.00 138.24h1.0v1.49h-1.0zM447.90 137.12h1.0v1.12h-1.0zM449.70 137.71h1.0v1.00h-1.0zM450.60 137.54h1.0v0.60h-1.0zM454.20 138.55h1.0v0.93h-1.0zM455.10 138.34h1.0v0.60h-1.0zM457.80 138.51h1.0v2.15h-1.0zM458.70 137.61h1.0v0.89h-1.0zM459.60 136.66h1.0v0.96h-1.0zM460.50 134.62h1.0v2.03h-1.0zM462.30 133.65h1.0v1.06h-1.0zM463.20 132.44h1.0v1.20h-1.0zM465.00 131.46h1.0v1.22h-1.0zM465.90 131.06h1.0v0.60h-1.0zM466.80 130.63h1.0v0.60h-1.0zM467.70 130.16h1.0v0.60h-1.0zM469.50 129.42h1.0v0.89h-1.0zM470.40 127.38h1.0v2.04h-1.0zM472.20 127.43h1.0v0.60h-1.0zM473.10 125.80h1.0v1.62h-1.0zM474.00 123.91h1.0v1.89h-1.0zM476.70 125.88h1.0v2.03h-1.0zM479.40 125.88h1.0v1.70h-1.0zM480.30 122.49h1.0v3.39h-1.0zM481.20 117.35h1.0v5.15h-1.0zM483.90 120.31h1.0v1.23h-1.0zM485.70 120.07h1.0v2.57h-1.0zM491.10 127.93h1.0v1.76h-1.0zM493.80 129.33h1.0v2.05h-1.0zM494.70 128.11h1.0v1.22h-1.0zM495.60 127.07h1.0v1.04h-1.0zM500.10 127.38h1.0v3.02h-1.0zM501.90 127.85h1.0v0.60h-1.0zM502.80 127.49h1.0v0.60h-1.0zM503.70 126.65h1.0v0.83h-1.0zM504.60 124.33h1.0v2.33h-1.0zM505.50 124.09h1.0v0.60h-1.0zM506.40 122.50h1.0v1.59h-1.0zM510.90 125.41h1.0v0.83h-1.0zM512.70 125.91h1.0v0.60h-1.0zM513.60 125.67h1.0v0.60h-1.0zM514.50 125.12h1.0v0.60h-1.0zM515.40 123.92h1.0v1.21h-1.0zM516.30 122.85h1.0v1.07h-1.0zM517.20 122.15h1.0v0.69h-1.0zM518.10 121.86h1.0v0.60h-1.0zM519.00 121.22h1.0v0.64h-1.0zM519.90 120.53h1.0v0.68h-1.0zM521.70 121.75h1.0v0.60h-1.0zM522.60 121.19h1.0v0.60h-1.0zM523.50 120.27h1.0v0.92h-1.0zM525.30 120.32h1.0v0.60h-1.0zM531.60 122.19h1.0v3.19h-1.0zM532.50 121.98h1.0v0.60h-1.0zM534.30 119.77h1.0v2.98h-1.0zM535.20 119.52h1.0v0.60h-1.0zM536.10 119.40h1.0v0.60h-1.0zM537.00 118.92h1.0v0.60h-1.0zM537.90 117.56h1.0v1.37h-1.0zM538.80 117.48h1.0v0.60h-1.0zM540.60 116.56h1.0v1.05h-1.0zM541.50 116.36h1.0v0.60h-1.0zM544.20 116.47h1.0v0.63h-1.0zM545.10 115.40h1.0v1.08h-1.0zM546.00 114.85h1.0v0.60h-1.0zM546.90 113.17h1.0v1.68h-1.0zM548.70 113.96h1.0v1.34h-1.0zM550.50 113.69h1.0v0.88h-1.0zM551.40 112.86h1.0v0.83h-1.0zM553.20 112.85h1.0v0.60h-1.0zM555.00 112.64h1.0v0.60h-1.0zM555.90 112.07h1.0v0.60h-1.0zM556.80 110.31h1.0v1.76h-1.0zM558.60 110.48h1.0v0.60h-1.0zM563.10 112.78h1.0v1.86h-1.0zM564.00 112.30h1.0v0.60h-1.0zM564.90 111.93h1.0v0.60h-1.0zM567.60 113.85h1.0v2.16h-1.0zM570.30 119.18h1.0v3.82h-1.0zM571.20 116.53h1.0v2.65h-1.0zM573.00 114.70h1.0v2.61h-1.0zM573.90 114.56h1.0v0.60h-1.0zM574.80 112.70h1.0v1.86h-1.0zM575.70 112.56h1.0v0.60h-1.0zM576.60 112.18h1.0v0.60h-1.0zM578.40 113.87h1.0v0.60h-1.0zM582.90 119.20h1.0v2.78h-1.0zM583.80 117.19h1.0v2.01h-1.0zM586.50 118.26h1.0v1.29h-1.0zM589.20 120.86h1.0v1.40h-1.0zM591.00 123.79h1.0v2.81h-1.0zM591.90 120.19h1.0v3.61h-1.0zM593.70 118.95h1.0v1.53h-1.0zM594.60 117.47h1.0v1.48h-1.0zM595.50 117.37h1.0v0.60h-1.0zM597.30 116.52h1.0v1.21h-1.0zM598.20 116.34h1.0v0.60h-1.0zM599.10 115.84h1.0v0.60h-1.0zM600.00 115.78h1.0v0.60h-1.0zM602.70 117.22h1.0v0.60h-1.0zM603.60 115.21h1.0v2.01h-1.0zM605.40 112.89h1.0v2.61h-1.0zM606.30 112.46h1.0v0.60h-1.0zM607.20 112.15h1.0v0.60h-1.0zM609.90 113.81h1.0v0.60h-1.0zM611.70 112.19h1.0v2.37h-1.0zM612.60 111.98h1.0v0.60h-1.0zM613.50 109.47h1.0v2.50h-1.0zM614.40 108.26h1.0v1.21h-1.0zM615.30 107.48h1.0v0.78h-1.0zM617.10 105.94h1.0v1.56h-1.0zM618.00 104.36h1.0v1.59h-1.0zM618.90 103.76h1.0v0.60h-1.0zM619.80 103.30h1.0v0.60h-1.0zM621.60 103.38h1.0v0.60h-1.0zM622.50 103.35h1.0v0.60h-1.0zM623.40 101.74h1.0v1.62h-1.0zM624.30 101.18h1.0v0.60h-1.0zM625.20 100.32h1.0v0.86h-1.0zM626.10 100.29h1.0v0.60h-1.0zM627.00 99.49h1.0v0.80h-1.0zM627.90 98.07h1.0v1.42h-1.0zM629.70 99.50h1.0v0.60h-1.0zM630.60 98.98h1.0v0.60h-1.0zM632.40 98.43h1.0v0.60h-1.0zM634.20 99.30h1.0v0.60h-1.0zM638.70 100.19h1.0v2.48h-1.0zM640.50 101.75h1.0v0.60h-1.0zM642.30 101.21h1.0v0.89h-1.0zM643.20 100.27h1.0v0.93h-1.0zM646.80 102.76h1.0v1.93h-1.0zM648.60 104.54h1.0v0.65h-1.0zM650.40 103.77h1.0v0.93h-1.0zM653.10 104.73h1.0v1.78h-1.0zM654.00 104.55h1.0v0.60h-1.0zM659.40 121.66h1.0v3.23h-1.0zM660.30 114.51h1.0v7.16h-1.0zM662.10 112.67h1.0v3.96h-1.0zM663.00 109.05h1.0v3.63h-1.0zM666.60 111.41h1.0v1.13h-1.0zM671.10 115.76h1.0v3.33h-1.0zM672.00 110.54h1.0v5.22h-1.0zM672.90 109.57h1.0v0.97h-1.0zM673.80 109.48h1.0v0.60h-1.0zM674.70 107.21h1.0v2.27h-1.0zM675.60 105.29h1.0v1.92h-1.0zM678.30 107.68h1.0v1.40h-1.0zM679.20 105.38h1.0v2.30h-1.0zM680.10 103.99h1.0v1.40h-1.0zM681.00 102.74h1.0v1.24h-1.0zM681.90 101.81h1.0v0.93h-1.0zM682.80 100.48h1.0v1.33h-1.0zM684.60 99.39h1.0v1.47h-1.0zM685.50 98.31h1.0v1.08h-1.0zM686.40 97.61h1.0v0.69h-1.0zM687.30 97.20h1.0v0.60h-1.0zM688.20 95.02h1.0v2.17h-1.0zM689.10 94.82h1.0v0.60h-1.0zM690.90 94.31h1.0v0.62h-1.0zM692.70 96.71h1.0v2.35h-1.0zM693.60 96.55h1.0v0.60h-1.0zM694.50 96.38h1.0v0.60h-1.0zM695.40 93.36h1.0v3.03h-1.0zM696.30 93.01h1.0v0.60h-1.0zM697.20 92.81h1.0v0.60h-1.0zM699.00 91.86h1.0v2.36h-1.0zM699.90 91.48h1.0v0.60h-1.0zM700.80 89.27h1.0v2.20h-1.0zM702.60 89.19h1.0v0.60h-1.0zM704.40 87.77h1.0v3.03h-1.0zM705.30 86.94h1.0v0.83h-1.0zM706.20 86.15h1.0v0.79h-1.0zM708.00 89.70h1.0v1.78h-1.0zM709.80 91.62h1.0v0.77h-1.0zM710.70 84.07h1.0v7.55h-1.0zM711.60 78.98h1.0v5.09h-1.0zM712.50 78.48h1.0v0.60h-1.0zM713.40 73.88h1.0v4.60h-1.0zM715.20 80.60h1.0v3.61h-1.0zM716.10 73.94h1.0v6.66h-1.0zM717.00 67.65h1.0v6.29h-1.0zM717.90 53.55h1.0v14.10h-1.0zM718.80 51.88h1.0v1.67h-1.0zM719.70 40.50h1.0v11.38h-1.0zM720.60 37.95h1.0v2.55h-1.0zM724.20 65.39h1.0v1.16h-1.0zM726.90 72.83h1.0v5.85h-1.0zM727.80 71.37h1.0v1.46h-1.0zM728.70 65.49h1.0v5.88h-1.0zM729.60 61.20h1.0v4.29h-1.0zM730.50 60.34h1.0v0.87h-1.0zM731.40 56.10h1.0v4.24h-1.0zM735.90 62.97h1.0v3.49h-1.0zM736.80 61.57h1.0v1.40h-1.0zM742.20 71.77h1.0v8.06h-1.0zM743.10 69.49h1.0v2.28h-1.0zM744.00 67.49h1.0v2.00h-1.0zM744.90 63.56h1.0v3.93h-1.0zM748.50 69.64h1.0v1.15h-1.0zM751.20 72.84h1.0v2.72h-1.0zM752.10 72.58h1.0v0.60h-1.0zM753.00 69.73h1.0v2.85h-1.0zM754.80 68.13h1.0v2.78h-1.0zM756.60 67.47h1.0v3.24h-1.0zM757.50 62.89h1.0v4.57h-1.0zM761.10 74.07h1.0v0.60h-1.0zM762.00 72.05h1.0v2.02h-1.0zM762.90 67.65h1.0v4.39h-1.0zM763.80 63.86h1.0v3.79h-1.0zM764.70 59.90h1.0v3.97h-1.0zM767.40 65.81h1.0v3.45h-1.0zM768.30 62.93h1.0v2.87h-1.0zM769.20 61.37h1.0v1.57h-1.0zM771.00 61.49h1.0v0.65h-1.0zM771.90 57.62h1.0v3.87h-1.0zM772.80 52.09h1.0v5.53h-1.0zM773.70 51.59h1.0v0.60h-1.0zM775.50 53.69h1.0v1.30h-1.0zM776.40 53.42h1.0v0.60h-1.0zM777.30 50.63h1.0v2.79h-1.0zM780.00 49.43h1.0v2.82h-1.0zM780.90 48.99h1.0v0.60h-1.0zM781.80 48.94h1.0v0.60h-1.0zM791.70 65.52h1.0v4.05h-1.0zM792.60 55.62h1.0v9.90h-1.0zM795.30 61.60h1.0v4.18h-1.0zM796.20 56.35h1.0v5.25h-1.0zM799.80 68.53h1.0v12.83h-1.0zM802.50 81.90h1.0v0.60h-1.0zM803.40 81.65h1.0v0.60h-1.0zM804.30 77.21h1.0v4.44h-1.0zM805.20 74.30h1.0v2.92h-1.0zM806.10 73.49h1.0v0.81h-1.0zM810.60 79.42h1.0v5.95h-1.0zM811.50 76.66h1.0v2.76h-1.0zM812.40 73.28h1.0v3.38h-1.0zM813.30 71.91h1.0v1.37h-1.0zM819.60 80.06h1.0v6.41h-1.0zM822.30 82.64h1.0v4.92h-1.0zM823.20 82.05h1.0v0.60h-1.0z" fill="#26a69a" fill-opacity="0.8"/>
<path d="M6.00 124.97h1.0v0.72h-1.0zM8.70 123.21h1.0v0.60h-1.0zM10.50 122.75h1.0v0.60h-1.0zM14.10 122.26h1.0v0.60h-1.0zM15.00 122.51h1.0v0.60h-1.0zM15.90 122.79h1.0v0.86h-1.0zM16.80 123.65h1.0v0.60h-1.0zM18.60 122.57h1.0v0.60h-1.0zM20.40 120.76h1.0v0.77h-1.0zM23.10 119.35h1.0v0.60h-1.0zM26.70 117.67h1.0v0.60h-1.0zM27.60 118.20h1.0v0.67h-1.0zM30.30 115.84h1.0v0.87h-1.0zM32.10 115.88h1.0v0.90h-1.0zM34.80 113.70h1.0v0.60h-1.0zM37.50 113.47h1.0v1.92h-1.0zM38.40 115.39h1.0v0.60h-1.0zM39.30 115.96h1.0v1.01h-1.0zM40.20 116.97h1.0v1.28h-1.0zM42.00 117.53h1.0v1.00h-1.0zM42.90 118.53h1.0v0.60h-1.0zM43.80 118.58h1.0v0.60h-1.0zM44.70 118.98h1.0v0.60h-1.0zM49.20 117.79h1.0v0.61h-1.0zM51.90 116.08h1.0v1.38h-1.0zM53.70 116.53h1.0v3.51h-1.0zM54.60 120.04h1.0v0.60h-1.0zM55.50 120.33h1.0v3.12h-1.0zM58.20 121.19h1.0v0.60h-1.0zM59.10 121.21h1.0v0.60h-1.0zM60.00 121.80h1.0v2.33h-1.0zM60.90 124.13h1.0v0.60h-1.0zM61.80 124.31h1.0v7.21h-1.0zM63.60 129.91h1.0v2.51h-1.0zM66.30 130.47h1.0v1.22h-1.0zM68.10 130.79h1.0v0.60h-1.0zM69.00 131.32h1.0v0.60h-1.0zM71.70 129.13h1.0v2.83h-1.0zM76.20 126.52h1.0v0.92h-1.0zM80.70 125.74h1.0v1.79h-1.0zM81.60 127.53h1.0v1.59h-1.0zM82.50 129.11h1.0v0.60h-1.0zM84.30 127.76h1.0v0.92h-1.0zM89.70 124.62h1.0v1.45h-1.0zM90.60 126.07h1.0v0.74h-1.0zM92.40 126.67h1.0v3.21h-1.0zM94.20 128.92h1.0v0.60h-1.0zM96.00 126.90h1.0v0.60h-1.0zM96.90 127.37h1.0v0.60h-1.0zM98.70 126.67h1.0v0.60h-1.0zM100.50 126.75h1.0v1.79h-1.0zM101.40 128.54h1.0v1.13h-1.0zM102.30 129.66h1.0v3.46h-1.0zM103.20 133.12h1.0v1.82h-1.0zM104.10 134.94h1.0v1.61h-1.0zM105.90 134.62h1.0v2.80h-1.0zM108.60 132.66h1.0v2.05h-1.0zM110.40 133.77h1.0v0.60h-1.0zM111.30 134.00h1.0v0.96h-1.0zM114.90 132.49h1.0v0.60h-1.0zM116.70 132.54h1.0v0.80h-1.0zM117.60 133.34h1.0v0.86h-1.0zM119.40 133.75h1.0v0.60h-1.0zM120.30 133.99h1.0v0.60h-1.0zM122.10 133.40h1.0v0.60h-1.0zM125.70 130.69h1.0v0.60h-1.0zM127.50 130.11h1.0v1.58h-1.0zM128.40 131.69h1.0v2.37h-1.0zM132.00 120.09h1.0v5.34h-1.0zM132.90 125.43h1.0v1.61h-1.0zM133.80 127.04h1.0v1.17h-1.0zM135.60 127.08h1.0v3.81h-1.0zM136.50 130.89h1.0v0.60h-1.0zM138.30 130.95h1.0v0.60h-1.0zM140.10 131.44h1.0v2.53h-1.0zM141.00 133.97h1.0v0.93h-1.0zM141.90 134.91h1.0v1.59h-1.0zM142.80 136.50h1.0v0.62h-1.0zM147.30 134.15h1.0v0.60h-1.0zM149.10 134.07h1.0v0.66h-1.0zM152.70 133.75h1.0v1.41h-1.0zM155.40 132.46h1.0v0.60h-1.0zM158.10 130.77h1.0v1.33h-1.0zM159.90 130.34h1.0v1.40h-1.0zM161.70 130.84h1.0v1.09h-1.0zM162.60 131.93h1.0v0.60h-1.0zM164.40 128.98h1.0v0.60h-1.0zM165.30 129.17h1.0v0.60h-1.0zM167.10 128.86h1.0v0.89h-1.0zM168.90 129.64h1.0v0.60h-1.0zM169.80 129.92h1.0v0.60h-1.0zM171.60 129.95h1.0v0.60h-1.0zM176.10 128.39h1.0v0.93h-1.0zM177.90 127.36h1.0v0.74h-1.0zM178.80 128.10h1.0v1.61h-1.0zM179.70 129.71h1.0v0.60h-1.0zM180.60 130.14h1.0v0.64h-1.0zM183.30 129.74h1.0v0.60h-1.0zM186.90 127.62h1.0v0.60h-1.0zM188.70 126.38h1.0v0.60h-1.0zM189.60 126.78h1.0v0.72h-1.0zM192.30 126.37h1.0v0.60h-1.0zM195.90 125.00h1.0v0.60h-1.0zM198.60 122.95h1.0v0.60h-1.0zM199.50 122.97h1.0v1.51h-1.0zM201.30 122.36h1.0v1.37h-1.0zM204.00 118.47h1.0v3.10h-1.0zM205.80 121.57h1.0v2.37h-1.0zM206.70 123.93h1.0v3.91h-1.0zM208.50 127.03h1.0v1.08h-1.0zM211.20 126.04h1.0v1.79h-1.0zM212.10 127.83h1.0v0.60h-1.0zM213.90 128.12h1.0v0.62h-1.0zM214.80 128.75h1.0v1.31h-1.0zM215.70 130.05h1.0v2.09h-1.0zM216.60 132.15h1.0v0.72h-1.0zM217.50 132.87h1.0v0.84h-1.0zM218.40 133.71h1.0v1.09h-1.0zM219.30 134.80h1.0v3.28h-1.0zM221.10 136.79h1.0v0.60h-1.0zM222.00 136.81h1.0v4.10h-1.0zM223.80 139.67h1.0v1.12h-1.0zM224.70 140.78h1.0v0.78h-1.0zM226.50 140.08h1.0v1.54h-1.0zM230.10 138.07h1.0v0.64h-1.0zM231.90 136.49h1.0v0.98h-1.0zM234.60 134.04h1.0v3.76h-1.0zM236.40 136.60h1.0v4.04h-1.0zM237.30 140.63h1.0v2.54h-1.0zM238.20 143.17h1.0v0.60h-1.0zM239.10 143.23h1.0v2.09h-1.0zM240.90 142.97h1.0v2.15h-1.0zM241.80 145.12h1.0v1.09h-1.0zM242.70 146.20h1.0v0.60h-1.0zM244.50 157.85h1.0v3.61h-1.0zM245.40 161.46h1.0v3.19h-1.0zM247.20 158.89h1.0v4.80h-1.0zM248.10 163.68h1.0v1.41h-1.0zM249.00 165.09h1.0v5.97h-1.0zM249.90 171.06h1.0v1.78h-1.0zM250.80 172.84h1.0v3.13h-1.0zM251.70 175.97h1.0v0.66h-1.0zM253.50 173.45h1.0v0.79h-1.0zM254.40 174.24h1.0v0.60h-1.0zM256.20 172.63h1.0v3.70h-1.0zM258.00 174.55h1.0v0.68h-1.0zM258.90 175.22h1.0v2.20h-1.0zM259.80 177.43h1.0v2.32h-1.0zM263.40 166.34h1.0v2.97h-1.0zM266.10 166.21h1.0v1.21h-1.0zM267.00 167.42h1.0v3.99h-1.0zM270.60 169.62h1.0v4.38h-1.0zM271.50 174.00h1.0v1.67h-1.0zM272.40 175.67h1.0v8.49h-1.0zM273.30 184.16h1.0v0.71h-1.0zM275.10 176.47h1.0v2.69h-1.0zM276.00 179.16h1.0v3.79h-1.0zM276.90 182.95h1.0v0.60h-1.0zM278.70 179.52h1.0v0.60h-1.0zM283.20 171.87h1.0v0.60h-1.0zM285.00 170.88h1.0v1.52h-1.0zM287.70 170.71h1.0v2.09h-1.0zM290.40 166.63h1.0v0.60h-1.0zM293.10 165.27h1.0v0.60h-1.0zM294.00 165.55h1.0v0.60h-1.0zM294.90 165.60h1.0v1.33h-1.0zM300.30 159.77h1.0v0.60h-1.0zM303.90 156.97h1.0v1.63h-1.0zM304.80 158.60h1.0v0.60h-1.0zM305.70 158.67h1.0v1.39h-1.0zM307.50 158.79h1.0v2.57h-1.0zM311.10 157.76h1.0v1.45h-1.0zM313.80 155.18h1.0v1.57h-1.0zM314.70 156.74h1.0v1.60h-1.0zM315.60 158.35h1.0v0.97h-1.0zM317.40 157.55h1.0v0.78h-1.0zM320.10 157.22h1.0v0.60h-1.0zM324.60 155.55h1.0v0.86h-1.0zM325.50 156.41h1.0v0.60h-1.0zM327.30 155.55h1.0v0.76h-1.0zM330.00 155.55h1.0v0.60h-1.0zM332.70 154.12h1.0v0.60h-1.0zM334.50 154.43h1.0v0.60h-1.0zM336.30 154.47h1.0v1.55h-1.0zM337.20 156.03h1.0v0.60h-1.0zM343.50 152.27h1.0v1.64h-1.0zM345.30 153.66h1.0v0.60h-1.0zM346.20 154.05h1.0v0.60h-1.0zM348.00 152.71h1.0v0.60h-1.0zM350.70 151.87h1.0v0.87h-1.0zM351.60 152.74h1.0v0.60h-1.0zM352.50 152.85h1.0v0.60h-1.0zM356.10 152.05h1.0v0.60h-1.0zM357.90 151.72h1.0v1.27h-1.0zM360.60 152.44h1.0v1.20h-1.0zM362.40 153.53h1.0v1.74h-1.0zM363.30 155.27h1.0v3.33h-1.0zM364.20 158.60h1.0v0.60h-1.0zM365.10 158.60h1.0v1.21h-1.0zM366.00 159.82h1.0v0.60h-1.0zM371.40 156.12h1.0v0.74h-1.0zM373.20 156.82h1.0v0.60h-1.0zM375.00 156.55h1.0v1.33h-1.0zM376.80 157.49h1.0v1.05h-1.0zM377.70 158.54h1.0v0.60h-1.0zM378.60 158.61h1.0v1.58h-1.0zM379.50 160.19h1.0v0.60h-1.0zM380.40 160.43h1.0v0.60h-1.0zM382.20 158.49h1.0v0.60h-1.0zM384.00 155.82h1.0v0.73h-1.0zM384.90 156.55h1.0v0.60h-1.0zM386.70 155.76h1.0v0.60h-1.0zM388.50 155.77h1.0v0.60h-1.0zM390.30 155.67h1.0v0.60h-1.0zM392.10 155.57h1.0v1.65h-1.0zM393.90 155.38h1.0v0.60h-1.0zM394.80 155.93h1.0v1.60h-1.0zM395.70 157.52h1.0v1.20h-1.0zM396.60 158.73h1.0v0.77h-1.0zM397.50 159.50h1.0v2.17h-1.0zM399.30 160.00h1.0v2.60h-1.0zM400.20 162.60h1.0v0.60h-1.0zM402.90 158.69h1.0v0.60h-1.0zM405.60 155.02h1.0v1.14h-1.0zM408.30 154.30h1.0v1.26h-1.0zM410.10 154.47h1.0v0.60h-1.0zM411.00 155.06h1.0v0.60h-1.0zM415.50 149.38h1.0v1.11h-1.0zM418.20 147.61h1.0v0.97h-1.0zM420.00 147.70h1.0v2.81h-1.0zM424.50 146.18h1.0v0.79h-1.0zM428.10 145.54h1.0v0.94h-1.0zM430.80 144.89h1.0v0.60h-1.0zM431.70 145.19h1.0v0.60h-1.0zM433.50 144.71h1.0v0.60h-1.0zM434.40 144.98h1.0v1.26h-1.0zM437.10 144.24h1.0v0.97h-1.0zM439.80 143.31h1.0v0.60h-1.0zM444.30 138.46h1.0v0.60h-1.0zM446.10 138.48h1.0v1.26h-1.0zM448.80 137.12h1.0v1.60h-1.0zM451.50 137.54h1.0v0.60h-1.0zM452.40 138.12h1.0v0.60h-1.0zM453.30 138.36h1.0v1.11h-1.0zM456.00 138.34h1.0v0.82h-1.0zM456.90 139.16h1.0v1.50h-1.0zM461.40 134.62h1.0v0.60h-1.0zM464.10 132.44h1.0v0.60h-1.0zM468.60 130.16h1.0v0.60h-1.0zM471.30 127.38h1.0v0.62h-1.0zM474.90 123.91h1.0v1.48h-1.0zM475.80 125.39h1.0v2.52h-1.0zM477.60 125.88h1.0v1.67h-1.0zM478.50 127.55h1.0v0.60h-1.0zM482.10 117.35h1.0v1.92h-1.0zM483.00 119.26h1.0v2.28h-1.0zM484.80 120.31h1.0v2.34h-1.0zM486.60 120.07h1.0v0.60h-1.0zM487.50 120.36h1.0v2.02h-1.0zM488.40 122.38h1.0v1.73h-1.0zM489.30 124.12h1.0v5.49h-1.0zM490.20 129.61h1.0v0.60h-1.0zM492.00 127.93h1.0v1.74h-1.0zM492.90 129.66h1.0v1.71h-1.0zM496.50 127.07h1.0v0.60h-1.0zM497.40 127.27h1.0v0.60h-1.0zM498.30 127.36h1.0v1.07h-1.0zM499.20 128.43h1.0v1.97h-1.0zM501.00 127.38h1.0v1.02h-1.0zM507.30 122.50h1.0v0.60h-1.0zM508.20 122.72h1.0v1.01h-1.0zM509.10 123.73h1.0v1.06h-1.0zM510.00 124.79h1.0v1.45h-1.0zM511.80 125.41h1.0v0.80h-1.0zM520.80 120.53h1.0v1.34h-1.0zM524.40 120.27h1.0v0.60h-1.0zM526.20 120.32h1.0v0.65h-1.0zM527.10 120.97h1.0v0.60h-1.0zM528.00 121.43h1.0v0.60h-1.0zM528.90 121.68h1.0v1.11h-1.0zM529.80 122.79h1.0v1.53h-1.0zM530.70 124.31h1.0v1.06h-1.0zM533.40 121.98h1.0v0.78h-1.0zM539.70 117.48h1.0v0.60h-1.0zM542.40 116.36h1.0v0.60h-1.0zM543.30 116.49h1.0v0.62h-1.0zM547.80 113.17h1.0v2.12h-1.0zM549.60 113.96h1.0v0.61h-1.0zM552.30 112.86h1.0v0.60h-1.0zM554.10 112.85h1.0v0.60h-1.0zM557.70 110.31h1.0v0.60h-1.0zM559.50 110.48h1.0v1.05h-1.0zM560.40 111.52h1.0v0.60h-1.0zM561.30 111.93h1.0v1.97h-1.0zM562.20 113.89h1.0v0.76h-1.0zM565.80 111.93h1.0v1.38h-1.0zM566.70 113.31h1.0v2.70h-1.0zM568.50 113.85h1.0v4.81h-1.0zM569.40 118.66h1.0v4.33h-1.0zM572.10 116.53h1.0v0.78h-1.0zM577.50 112.18h1.0v1.82h-1.0zM579.30 113.87h1.0v0.60h-1.0zM580.20 113.89h1.0v3.74h-1.0zM581.10 117.63h1.0v1.82h-1.0zM582.00 119.45h1.0v2.54h-1.0zM584.70 117.19h1.0v2.25h-1.0zM585.60 119.44h1.0v0.60h-1.0zM587.40 118.26h1.0v2.34h-1.0zM588.30 120.59h1.0v1.67h-1.0zM590.10 120.86h1.0v5.75h-1.0zM592.80 120.19h1.0v0.60h-1.0zM596.40 117.37h1.0v0.60h-1.0zM600.90 115.78h1.0v0.88h-1.0zM601.80 116.66h1.0v0.89h-1.0zM604.50 115.21h1.0v0.60h-1.0zM608.10 112.15h1.0v0.60h-1.0zM609.00 112.34h1.0v1.62h-1.0zM610.80 113.81h1.0v0.74h-1.0zM616.20 107.48h1.0v0.60h-1.0zM620.70 103.30h1.0v0.60h-1.0zM628.80 98.07h1.0v1.50h-1.0zM631.50 98.98h1.0v0.60h-1.0zM633.30 98.43h1.0v0.95h-1.0zM635.10 99.30h1.0v1.12h-1.0zM636.00 100.41h1.0v0.78h-1.0zM636.90 101.20h1.0v1.17h-1.0zM637.80 102.37h1.0v0.60h-1.0zM639.60 100.19h1.0v1.73h-1.0zM641.40 101.75h1.0v0.60h-1.0zM644.10 100.27h1.0v1.90h-1.0zM645.00 102.17h1.0v0.75h-1.0zM645.90 102.91h1.0v1.77h-1.0zM647.70 102.76h1.0v2.43h-1.0zM649.50 104.54h1.0v0.60h-1.0zM651.30 103.77h1.0v2.66h-1.0zM652.20 106.43h1.0v0.60h-1.0zM654.90 104.55h1.0v7.29h-1.0zM655.80 111.84h1.0v2.14h-1.0zM656.70 113.97h1.0v3.39h-1.0zM657.60 117.36h1.0v3.10h-1.0zM658.50 120.46h1.0v4.43h-1.0zM661.20 114.51h1.0v2.13h-1.0zM663.90 109.05h1.0v0.60h-1.0zM664.80 109.62h1.0v1.77h-1.0zM665.70 111.39h1.0v1.16h-1.0zM667.50 111.41h1.0v3.68h-1.0zM668.40 115.09h1.0v0.60h-1.0zM669.30 115.24h1.0v3.11h-1.0zM670.20 118.35h1.0v0.73h-1.0zM676.50 105.29h1.0v2.72h-1.0zM677.40 108.02h1.0v1.07h-1.0zM683.70 100.48h1.0v0.60h-1.0zM690.00 94.82h1.0v0.60h-1.0zM691.80 94.31h1.0v4.75h-1.0zM698.10 92.81h1.0v1.41h-1.0zM701.70 89.27h1.0v0.60h-1.0zM703.50 89.19h1.0v1.61h-1.0zM707.10 86.15h1.0v5.33h-1.0zM708.90 89.70h1.0v2.68h-1.0zM714.30 73.88h1.0v10.32h-1.0zM721.50 37.95h1.0v14.80h-1.0zM722.40 52.75h1.0v4.35h-1.0zM723.30 57.09h1.0v9.45h-1.0zM725.10 65.39h1.0v5.41h-1.0zM726.00 70.80h1.0v7.88h-1.0zM732.30 56.10h1.0v0.60h-1.0zM733.20 56.60h1.0v3.94h-1.0zM734.10 60.54h1.0v4.69h-1.0zM735.00 65.23h1.0v1.22h-1.0zM737.70 61.57h1.0v8.35h-1.0zM738.60 69.92h1.0v6.15h-1.0zM739.50 76.07h1.0v0.60h-1.0zM740.40 76.33h1.0v2.61h-1.0zM741.30 78.93h1.0v0.90h-1.0zM745.80 63.56h1.0v1.28h-1.0zM746.70 64.84h1.0v2.71h-1.0zM747.60 67.55h1.0v3.24h-1.0zM749.40 69.64h1.0v1.84h-1.0zM750.30 71.48h1.0v4.07h-1.0zM753.90 69.73h1.0v1.18h-1.0zM755.70 68.13h1.0v2.58h-1.0zM758.40 62.89h1.0v0.87h-1.0zM759.30 63.76h1.0v0.60h-1.0zM760.20 64.29h1.0v9.95h-1.0zM765.60 59.90h1.0v6.14h-1.0zM766.50 66.04h1.0v3.22h-1.0zM770.10 61.37h1.0v0.77h-1.0zM774.60 51.59h1.0v3.40h-1.0zM778.20 50.63h1.0v0.60h-1.0zM779.10 51.06h1.0v1.20h-1.0zM782.70 48.94h1.0v2.31h-1.0zM783.60 51.25h1.0v2.78h-1.0zM784.50 54.03h1.0v0.60h-1.0zM785.40 54.57h1.0v2.35h-1.0zM786.30 56.92h1.0v0.69h-1.0zM787.20 57.61h1.0v5.37h-1.0zM788.10 62.99h1.0v1.01h-1.0zM789.00 64.00h1.0v3.27h-1.0zM789.90 67.27h1.0v0.60h-1.0zM790.80 67.60h1.0v1.98h-1.0zM793.50 55.62h1.0v6.84h-1.0zM794.40 62.47h1.0v3.32h-1.0zM797.10 56.35h1.0v7.79h-1.0zM798.00 64.14h1.0v12.42h-1.0zM798.90 76.55h1.0v4.81h-1.0zM800.70 68.53h1.0v6.09h-1.0zM801.60 74.62h1.0v7.32h-1.0zM807.00 73.49h1.0v0.67h-1.0zM807.90 74.16h1.0v4.11h-1.0zM808.80 78.27h1.0v3.88h-1.0zM809.70 82.15h1.0v3.21h-1.0zM814.20 71.91h1.0v0.61h-1.0zM815.10 72.52h1.0v1.17h-1.0zM816.00 73.69h1.0v4.92h-1.0zM816.90 78.60h1.0v1.86h-1.0zM817.80 80.47h1.0v4.05h-1.0zM818.70 84.52h1.0v1.96h-1.0zM820.50 80.06h1.0v3.70h-1.0zM821.40 83.76h1.0v3.79h-1.0z" fill="#ef5350" fill-opacity="0.8"/>
<path d="M721.2 36.3V50.0M273.4 179.0V187.3M244.4 146.0V152.8M659.4 117.0V124.6M203.5 119.0V123.5M131.7 121.7V128.0M481.6 119.0V124.0M726.5 72.0V83.3" stroke="#737375" stroke-width="0.6" fill="none"/>
<rect x="720.7" y="37.3" width="1" height="11.7" fill="#ef5350" opacity="0.8"/>
<rect x="272.9" y="180.0" width="1" height="6.3" fill="#ef5350" opacity="0.8"/>
<rect x="243.9" y="147.0" width="1" height="4.8" fill="#ef5350" opacity="0.8"/>
<rect x="658.9" y="118.0" width="1" height="5.6" fill="#26a69a" opacity="0.8"/>
<rect x="203.0" y="120.0" width="1" height="2.5" fill="#ef5350" opacity="0.8"/>
<rect x="131.2" y="122.7" width="1" height="4.3" fill="#26a69a" opacity="0.8"/>
<rect x="481.1" y="120.0" width="1" height="3.0" fill="#ef5350" opacity="0.8"/>
<rect x="726.0" y="73.0" width="1" height="9.3" fill="#ef5350" opacity="0.8"/>
<rect x="7" y="222" width="975" height="29.6" fill="#7e57c2" fill-opacity="0.1"/>
<line x1="7" y1="222" x2="982" y2="222" stroke="#9598a1" stroke-width="1" stroke-dasharray="3.4 3.3"/>
<line x1="7" y1="236.8" x2="982" y2="236.8" stroke="#9598a1" stroke-width="1" stroke-dasharray="3.4 3.3"/>
<line x1="7" y1="251.6" x2="982" y2="251.6" stroke="#9598a1" stroke-width="1" stroke-dasharray="3.4 3.3"/>
<line x1="7" y1="237.6" x2="982" y2="237.6" stroke="#2962ff" stroke-width="1" opacity="0.75"/>
<polyline points="6.0,230.3 6.8,226.7 7.5,227.8 8.3,225.6 9.1,228.1 9.9,226.3 10.7,228.0 11.5,224.9 12.2,226.3 13.0,225.6 13.8,228.0 14.6,230.6 15.4,228.3 16.2,231.9 17.0,228.9 17.7,231.5 18.5,229.5 19.3,228.5 20.0,228.5 20.8,224.1 21.6,225.0 22.4,222.5 23.2,221.3 24.0,220.0 24.8,219.4 25.6,224.0 26.3,219.4 27.1,220.2 27.9,219.6 28.6,219.8 29.4,222.5 30.2,222.9 31.0,223.3 31.8,223.3 32.6,220.6 33.3,219.0 34.1,217.0 34.9,217.7 35.7,218.7 36.5,217.8 37.2,226.7 38.0,231.9 38.8,232.3 39.6,228.9 40.4,231.9 41.2,235.4 41.9,234.2 42.7,238.9 43.5,238.1 44.3,235.3 45.1,237.3 45.9,238.1 46.6,237.6 47.4,239.7 48.2,237.5 49.0,240.1 49.8,231.9 50.6,232.3 51.3,234.3 52.1,233.4 52.9,235.9 53.6,242.3 54.4,247.5 55.2,247.3 56.0,244.6 56.8,244.0 57.6,242.0 58.4,245.8 59.1,247.6 59.9,253.0 60.7,255.0 61.5,253.7 62.3,256.1 63.1,256.7 63.8,250.0 64.6,248.3 65.4,248.9 66.1,247.2 66.9,246.7 67.7,250.7 68.5,251.4 69.3,248.5 70.0,249.4 70.8,245.9 71.6,244.2 72.4,245.0 73.2,241.3 74.0,240.3 74.7,237.3 75.5,235.0 76.3,233.1 77.1,235.2 77.9,233.4 78.9,236.6 80.0,240.9 81.0,240.5 82.0,239.1 83.1,239.8 84.1,238.1 84.9,237.0 85.7,234.7 86.5,232.6 87.3,230.3 88.1,232.9 88.8,233.9 89.6,237.3 90.4,237.4 91.1,240.3 91.9,242.8 92.7,242.6 93.5,243.0 94.3,240.9 95.1,238.1 95.9,240.2 96.6,240.0 97.4,238.9 98.2,238.5 99.0,236.1 99.8,234.2 100.6,238.4 101.3,242.9 102.1,242.8 103.1,245.1 104.2,247.4 105.2,251.4 106.2,251.4 107.3,245.1 108.3,241.3 109.1,243.5 109.9,243.9 110.7,241.1 111.5,243.6 112.5,245.9 113.6,243.0 114.6,238.1 115.6,239.5 116.7,241.5 117.7,241.3 118.5,240.2 119.3,237.1 120.1,237.3 120.9,239.2 121.6,242.1 122.4,243.6 123.2,242.4 124.0,238.5 124.8,234.2 125.6,232.7 126.3,233.4 127.1,229.5 127.9,231.1 128.6,236.6 129.4,238.1 130.2,232.2 131.0,222.5 131.8,227.5 132.6,233.4 133.4,229.6 134.1,230.3 134.9,231.1 135.7,233.6 136.5,236.1 137.3,237.3 138.1,240.2 138.8,236.1 139.6,238.1 140.4,240.5 141.1,243.9 141.9,245.2 142.7,244.1 143.5,239.6 144.3,242.8 145.1,243.4 145.8,245.2 146.6,240.5 147.4,239.5 148.2,235.0 149.0,234.7 149.7,236.9 150.5,238.9 151.3,239.0 152.1,242.6 152.9,238.1 153.7,238.1 154.4,236.2 155.2,235.0 156.0,236.1 156.8,231.7 157.6,230.3 158.4,234.0 159.1,230.2 159.9,231.9 160.8,234.2 161.6,238.1 162.4,236.2 163.1,234.3 163.9,228.8 164.7,231.2 165.5,231.9 166.3,232.7 167.3,229.3 168.4,231.0 169.4,231.9 170.2,230.3 170.9,229.9 171.7,230.3 172.5,236.0 173.3,239.7 174.1,236.3 174.8,235.3 175.6,231.1 176.4,231.0 177.2,230.1 178.0,230.7 178.8,230.3 179.6,234.4 180.3,238.6 181.1,240.5 181.9,237.3 182.6,235.4 183.4,233.4 184.2,229.5 185.0,233.1 185.8,228.8 186.6,231.8 187.3,229.5 188.1,230.3 188.9,228.5 189.7,226.2 190.5,227.7 191.3,226.4 192.1,226.0 192.8,228.6 193.6,224.1 194.4,224.8 195.1,223.2 195.9,224.8 196.7,219.6 197.5,225.1 198.3,221.7 199.3,224.8 200.3,227.2 201.2,220.6 202.2,219.4 203.0,220.9 203.8,221.7 204.6,224.2 205.3,238.0 206.1,237.3 206.9,240.5 207.6,240.9 208.4,241.3 209.2,240.4 210.0,236.5 210.8,239.3 211.6,238.9 212.4,238.9 213.1,245.1 213.9,246.7 214.7,246.2 215.5,251.4 216.3,256.1 217.1,256.6 217.8,255.8 218.6,251.4 219.6,252.3 220.7,254.5 221.7,260.0 222.7,258.6 223.8,255.7 224.8,251.4 225.6,247.8 226.4,246.3 227.2,244.4 228.0,243.6 228.8,240.3 229.5,239.8 230.3,239.7 231.1,240.3 231.9,237.7 232.7,235.0 233.5,240.3 234.2,238.5 235.0,240.5 236.0,243.9 237.1,246.1 238.1,251.4 238.9,249.4 239.7,245.5 240.5,245.9 241.3,246.0 242.0,253.4 242.8,255.3 243.6,260.9 244.4,261.6 245.2,259.1 245.9,253.8 246.7,256.6 247.5,255.4 248.3,254.3 249.1,256.1 250.1,255.2 251.2,253.4 252.2,253.0 253.2,251.3 254.2,250.5 255.1,251.1 256.1,253.8 257.1,254.4 258.1,255.2 259.0,254.7 260.0,256.1 260.8,249.1 261.6,237.3 262.6,237.9 263.7,238.8 264.7,238.1 265.7,241.2 266.8,238.8 267.8,241.3 268.6,238.5 269.4,243.6 270.2,242.8 271.0,244.5 271.7,250.8 272.5,251.4 273.5,250.7 274.6,250.5 275.6,247.5 276.4,246.8 277.2,240.1 278.0,242.9 278.8,239.7 279.6,236.2 280.3,233.7 281.1,232.7 282.1,232.7 283.2,235.5 284.2,235.0 285.0,236.8 285.8,237.3 286.6,235.8 287.6,230.1 288.7,229.1 289.7,227.2 290.7,222.9 291.8,226.5 292.8,226.4 293.8,228.5 294.9,227.2 295.9,229.5 296.7,228.4 297.5,226.8 298.3,226.6 299.1,223.3 300.1,220.9 301.2,219.8 302.2,220.2 303.2,219.9 304.3,225.2 305.3,223.3 306.1,229.1 306.9,231.1 307.9,229.6 309.0,228.9 310.0,227.2 311.0,226.4 312.1,225.5 313.1,224.1 313.9,226.1 314.7,228.2 315.5,231.1 316.4,228.2 317.2,228.5 318.1,228.8 318.9,231.0 319.7,228.5 320.5,227.1 321.3,226.4 322.3,226.0 323.4,226.5 324.4,226.4 325.1,229.0 325.9,230.3 326.7,228.8 327.5,229.9 328.3,229.6 329.1,228.8 330.1,226.7 331.2,225.9 332.2,226.4 333.0,226.0 333.7,227.2 334.5,230.3 335.3,231.5 336.1,225.8 336.9,229.5 337.7,229.8 338.4,230.1 339.2,231.9 340.2,228.7 341.3,227.9 342.3,225.6 343.1,227.9 343.9,226.5 344.7,226.6 345.5,227.2 346.5,225.9 347.6,226.4 348.6,226.4 349.6,228.8 350.7,227.3 351.7,228.8 352.5,229.2 353.3,233.4 354.3,227.4 355.3,225.6 356.2,226.1 357.2,230.3 358.2,228.5 359.3,233.2 360.3,231.9 361.1,238.0 361.9,242.8 362.6,245.5 363.4,249.1 364.7,253.8 365.6,255.1 366.6,251.4 367.4,249.7 368.1,251.6 368.9,249.8 369.7,246.0 370.5,236.8 371.3,234.2 372.1,233.4 372.8,236.3 373.6,239.7 374.4,241.0 375.1,241.4 375.9,238.9 376.7,235.7 377.5,236.6 378.3,240.7 379.1,241.3 379.9,243.7 380.6,247.5 381.4,242.1 382.2,238.1 383.0,235.4 383.7,233.9 384.5,232.7 385.3,230.6 386.1,233.1 386.9,235.8 387.7,232.9 388.4,235.0 389.2,233.4 390.2,238.0 391.3,240.2 392.3,236.6 393.1,236.3 393.9,234.1 394.7,237.3 395.5,238.4 396.2,239.4 397.0,242.8 397.8,248.3 398.6,248.0 399.4,249.1 400.2,245.3 400.9,245.5 401.7,241.3 402.5,240.2 403.3,237.3 404.1,235.7 404.8,239.7 405.6,235.4 406.4,232.5 407.2,229.5 408.0,230.6 408.7,231.9 409.5,232.7 410.3,231.3 411.1,231.4 411.9,229.3 412.7,229.5 413.5,225.1 414.2,226.3 415.0,220.9 415.8,221.2 416.6,220.2 417.4,223.3 418.1,222.2 418.9,227.2 419.7,225.9 420.5,226.5 421.3,224.1 422.1,222.4 422.8,227.0 423.6,225.6 424.4,223.6 425.1,223.7 425.9,221.7 426.7,222.0 427.5,223.1 428.3,223.3 429.3,223.5 430.4,218.9 431.4,217.8 432.2,224.6 433.0,224.8 433.8,230.3 434.6,227.4 435.3,228.9 436.1,226.4 436.9,224.9 437.6,226.3 438.4,227.2 439.2,230.7 440.0,231.1 440.8,229.3 441.5,220.3 442.3,219.4 443.1,220.3 443.9,222.6 444.7,219.4 445.5,222.2 446.2,220.5 447.0,221.7 447.8,222.8 448.6,225.4 449.4,228.0 450.4,225.5 451.5,226.5 452.5,226.4 453.3,227.1 454.0,228.2 454.8,229.5 455.6,232.3 456.4,230.7 457.2,231.9 458.0,226.6 458.7,228.0 459.5,223.3 460.3,219.9 461.1,219.4 461.9,218.3 462.7,217.0 463.7,216.2 464.8,214.8 465.8,216.3 466.6,217.0 467.3,218.6 468.1,220.5 468.9,213.9 469.7,213.1 470.6,218.0 471.6,223.3 472.4,223.6 473.1,221.4 473.9,218.6 474.7,221.0 475.5,220.9 476.3,226.3 477.0,225.4 477.8,232.7 478.7,227.3 479.7,225.1 480.6,220.9 481.6,224.5 482.5,226.4 483.3,227.8 484.0,225.7 484.8,224.1 485.6,224.7 486.4,226.2 487.2,227.2 488.0,233.1 488.8,239.7 489.6,238.9 490.3,237.3 491.6,243.6 492.5,241.6 493.4,237.3 494.2,236.2 495.0,234.9 495.8,235.8 496.6,235.1 497.3,239.2 498.1,238.1 498.9,240.3 499.7,239.8 500.5,238.1 501.5,239.3 502.6,239.0 503.6,237.3 504.4,235.0 505.1,233.8 505.9,230.3 506.7,228.5 507.5,230.0 508.3,230.3 509.1,230.6 509.8,234.7 510.6,235.0 511.4,233.4 512.2,233.7 513.0,234.0 513.8,232.7 514.6,233.2 515.3,227.7 516.1,227.2 516.9,227.6 517.7,231.1 518.5,230.9 519.2,226.1 520.0,226.4 521.0,228.0 522.1,227.0 523.1,228.8 523.9,230.4 524.7,229.3 525.5,234.2 526.2,233.1 527.0,229.5 527.8,232.6 528.6,235.8 529.4,241.3 530.2,242.2 530.9,237.2 531.7,233.4 532.7,238.6 533.8,232.6 534.8,231.1 535.6,228.9 536.4,228.1 537.2,226.4 538.2,228.6 539.3,225.3 540.3,224.8 541.3,225.3 542.4,225.2 543.4,224.1 544.2,221.6 545.0,222.4 545.8,220.3 546.6,220.2 547.4,221.2 548.1,226.4 548.9,226.6 549.7,224.9 550.5,222.5 551.5,221.9 552.6,219.4 553.6,220.2 554.4,220.3 555.2,227.2 556.0,227.2 556.7,225.4 557.5,224.8 558.3,219.2 559.1,219.4 559.9,228.2 560.6,237.3 561.4,233.2 562.2,234.2 563.0,232.7 563.8,231.0 564.5,228.8 565.3,233.7 566.1,237.3 567.0,241.6 567.9,245.5 568.8,249.1 569.6,242.5 570.5,239.0 571.3,235.0 572.2,233.9 573.0,234.1 573.9,234.2 574.7,233.9 575.5,233.7 576.3,231.9 577.0,237.8 577.8,238.1 578.6,236.1 579.4,242.8 580.2,244.3 580.9,244.1 581.7,245.2 582.5,246.7 583.3,242.1 584.1,238.1 584.9,236.9 585.6,241.9 586.4,242.8 587.4,244.8 588.5,250.2 589.5,251.4 590.3,244.4 591.1,240.8 591.9,235.8 592.9,234.8 594.0,234.0 595.0,233.4 596.0,232.2 597.1,229.8 598.1,232.7 598.9,233.2 599.7,233.9 600.5,231.9 601.3,233.1 602.0,232.8 602.8,235.8 603.6,234.8 604.4,234.2 605.2,231.9 606.0,230.3 606.7,229.3 607.5,228.0 608.3,231.7 609.0,228.7 609.8,231.9 610.6,229.2 611.4,225.1 612.2,225.4 613.0,224.8 613.8,222.8 614.5,221.6 615.3,222.5 616.1,222.1 616.9,227.1 617.7,224.8 618.5,222.1 619.2,219.9 620.0,217.8 620.8,224.3 621.6,223.3 622.6,222.4 623.7,218.8 624.7,220.9 625.6,221.2 626.4,218.6 627.3,219.8 628.1,223.4 628.9,221.4 629.7,218.5 630.5,219.8 631.2,220.8 632.0,223.8 632.8,220.8 633.6,223.4 634.4,223.0 635.1,224.4 635.9,229.2 636.8,229.1 637.8,229.2 638.8,233.7 639.8,239.4 640.6,236.4 641.4,235.5 642.4,234.4 643.4,230.0 644.3,235.1 645.3,237.0 646.1,237.6 646.9,236.5 647.7,238.6 648.5,238.8 649.2,243.2 650.0,244.8 650.8,245.4 651.6,237.8 652.4,237.0 653.1,237.8 653.9,240.6 654.7,244.9 655.5,250.3 656.3,249.2 657.0,250.2 657.8,252.7 658.6,250.8 659.4,252.0 660.2,248.0 661.0,244.9 661.7,240.9 662.5,238.6 663.3,236.4 664.0,240.0 664.8,240.2 665.6,239.9 666.4,237.6 667.2,239.4 668.0,238.6 668.7,241.4 669.5,242.5 670.3,241.4 671.1,237.8 671.9,233.9 672.7,232.9 673.4,230.8 674.2,230.0 675.0,231.1 675.8,231.0 676.6,231.6 677.4,234.2 678.1,227.5 678.9,228.4 679.7,227.3 680.5,229.6 681.3,226.9 682.1,225.6 682.8,227.7 683.6,224.5 684.4,223.9 685.1,223.7 685.9,223.0 686.7,221.3 687.5,218.5 688.3,219.8 689.1,219.2 689.8,225.7 690.6,223.0 691.4,224.4 692.2,224.6 693.0,223.8 693.8,224.4 694.5,222.6 695.3,220.6 696.3,222.1 697.4,219.6 698.4,219.8 699.2,218.1 700.0,218.9 700.8,215.9 701.5,218.5 702.3,222.2 703.1,220.3 703.9,223.0 704.7,220.3 705.5,218.3 706.3,221.8 707.0,228.2 707.8,231.6 708.6,228.3 709.4,225.6 710.2,225.3 711.0,224.5 711.7,227.4 712.5,224.5 713.3,223.7 714.0,223.2 714.8,222.2 715.8,216.8 716.9,211.3 717.6,214.9 718.4,217.5 719.3,216.0 720.3,211.3 721.1,223.0 721.9,230.0 722.7,228.2 723.4,234.4 724.2,233.1 725.2,236.6 726.3,240.2 727.2,235.7 728.1,232.3 728.9,235.2 729.7,229.7 730.5,232.2 731.3,227.7 732.0,232.4 732.8,233.9 733.6,231.7 734.4,233.1 735.2,235.2 735.9,237.0 736.7,237.0 737.5,237.1 738.3,233.6 739.1,237.8 739.9,238.0 740.6,239.1 741.4,240.2 742.2,236.2 743.1,239.1 743.9,233.9 744.7,232.3 745.5,231.6 746.2,232.5 747.0,234.7 747.8,233.8 748.6,233.9 749.4,234.9 750.2,238.6 751.0,236.5 751.7,237.2 752.5,236.3 753.3,236.6 754.0,234.9 754.8,235.5 755.6,235.7 756.4,236.3 757.4,230.8 758.4,230.0 759.3,236.7 760.3,241.7 761.1,238.1 761.9,237.4 762.7,234.7 763.5,231.6 764.2,231.6 765.0,232.7 765.8,235.5 766.6,235.1 767.3,231.8 768.1,233.1 768.9,236.8 769.7,232.0 770.5,231.6 771.3,229.9 772.0,227.2 772.8,226.9 773.8,230.4 774.7,228.4 775.7,228.8 776.7,224.5 777.5,224.7 778.3,223.8 779.0,220.7 779.8,222.2 780.6,222.9 781.4,226.4 782.2,226.9 783.0,228.1 783.7,229.0 784.5,233.1 785.3,234.2 786.1,238.1 786.9,242.5 787.6,241.0 788.4,239.4 789.2,242.6 790.0,248.0 790.8,245.3 791.6,242.5 792.4,244.1 793.1,236.3 793.9,242.4 794.7,242.5 795.5,238.0 796.3,237.0 797.1,241.5 797.8,245.0 798.6,248.8 799.4,245.0 800.2,241.7 801.0,246.2 801.7,247.2 802.5,246.4 803.3,246.1 804.1,246.4 804.9,243.7 805.6,242.1 806.4,240.2 807.2,243.4 808.0,243.6 808.8,243.3 809.6,240.0 810.3,240.5 811.1,240.2 811.9,237.8 812.6,239.5 813.4,237.0 814.2,239.2 815.0,242.2 815.8,242.5 816.8,245.5 817.8,248.8 818.8,243.6 819.7,244.8 820.5,243.8 821.2,241.6 822.0,239.4 822.8,242.1 823.6,240.8 824.4,244.8" fill="none" stroke="#7e57c2" stroke-width="0.85" opacity="0.78"/>
<text x="988.5" y="54.3" font-size="8.4" fill="#4a4d57" text-anchor="start" textLength="23.2" lengthAdjust="spacingAndGlyphs" stroke="#4a4d57" stroke-width="0.18">120.00</text>
<text x="988.5" y="108.66" font-size="8.4" fill="#4a4d57" text-anchor="start" textLength="19.6" lengthAdjust="spacingAndGlyphs" stroke="#4a4d57" stroke-width="0.18">80.00</text>
<text x="988.5" y="135.84" font-size="8.4" fill="#4a4d57" text-anchor="start" textLength="19.6" lengthAdjust="spacingAndGlyphs" stroke="#4a4d57" stroke-width="0.18">60.00</text>
<text x="988.5" y="163.02" font-size="8.4" fill="#4a4d57" text-anchor="start" textLength="19.6" lengthAdjust="spacingAndGlyphs" stroke="#4a4d57" stroke-width="0.18">40.00</text>
<text x="988.5" y="190.20000000000002" font-size="8.4" fill="#4a4d57" text-anchor="start" textLength="19.6" lengthAdjust="spacingAndGlyphs" stroke="#4a4d57" stroke-width="0.18">20.00</text>
<text x="988.5" y="28.8" font-size="8.4" fill="#4a4d57" text-anchor="start" textLength="13.8" lengthAdjust="spacingAndGlyphs" stroke="#4a4d57" stroke-width="0.18">USD</text>
<text x="988.5" y="217.4" font-size="8.4" fill="#4a4d57" text-anchor="start" textLength="19.6" lengthAdjust="spacingAndGlyphs" stroke="#4a4d57" stroke-width="0.18">80.00</text>
<rect x="982" y="60" width="33" height="10.700000000000003" fill="#2962ff" rx="1"/>
<text x="988.5" y="68.14999999999999" font-size="8.4" fill="#ffffff" text-anchor="start" textLength="21.8" lengthAdjust="spacingAndGlyphs" stroke="#ffffff" stroke-width="0.25">104.61</text>
<rect x="982" y="70.7" width="29" height="10.599999999999994" fill="#f23645" rx="0"/>
<text x="988.5" y="78.8" font-size="8.4" fill="#ffffff" text-anchor="start" textLength="19.4" lengthAdjust="spacingAndGlyphs" stroke="#ffffff" stroke-width="0.25">97.30</text>
<rect x="982" y="81.6" width="29" height="10.400000000000006" fill="#089981" rx="0"/>
<text x="988.5" y="89.6" font-size="8.4" fill="#ffffff" text-anchor="start" textLength="19.4" lengthAdjust="spacingAndGlyphs" stroke="#ffffff" stroke-width="0.25">93.75</text>
<rect x="936.6" y="81.6" width="44.39999999999998" height="10.400000000000006" fill="#089981" rx="0"/>
<text x="940.4" y="89.6" font-size="8.4" fill="#ffffff" text-anchor="start" textLength="37" lengthAdjust="spacingAndGlyphs" stroke="#ffffff" stroke-width="0.25">OIL_BRENT</text>
<rect x="982" y="228.8" width="29" height="10.599999999999994" fill="#2962ff" rx="0"/>
<text x="988.5" y="236.90000000000003" font-size="8.4" fill="#ffffff" text-anchor="start" textLength="19.4" lengthAdjust="spacingAndGlyphs" stroke="#ffffff" stroke-width="0.25">48.61</text>
<rect x="982" y="239.4" width="29" height="10.5" fill="#7e57c2" rx="0"/>
<text x="988.5" y="247.45000000000002" font-size="8.4" fill="#ffffff" text-anchor="start" textLength="19.4" lengthAdjust="spacingAndGlyphs" stroke="#ffffff" stroke-width="0.25">39.41</text>
<text x="21.25" y="280" font-size="8.4" fill="#4a4d57" text-anchor="middle" textLength="11.76" lengthAdjust="spacingAndGlyphs" stroke="#4a4d57" stroke-width="0.18">Apr</text>
<text x="80.5" y="280" font-size="8.4" fill="#4a4d57" text-anchor="middle" textLength="9.66" lengthAdjust="spacingAndGlyphs" stroke="#4a4d57" stroke-width="0.18">Jul</text>
<text x="141.25" y="280" font-size="8.4" fill="#4a4d57" text-anchor="middle" textLength="11.76" lengthAdjust="spacingAndGlyphs" stroke="#4a4d57" stroke-width="0.18">Oct</text>
<text x="201.5" y="280" font-size="8.4" fill="#4a4d57" text-anchor="middle" textLength="17.22" lengthAdjust="spacingAndGlyphs" stroke="#4a4d57" stroke-width="0.35">2020</text>
<text x="260.5" y="280" font-size="8.4" fill="#4a4d57" text-anchor="middle" textLength="11.76" lengthAdjust="spacingAndGlyphs" stroke="#4a4d57" stroke-width="0.18">Apr</text>
<text x="319.5" y="280" font-size="8.4" fill="#4a4d57" text-anchor="middle" textLength="9.66" lengthAdjust="spacingAndGlyphs" stroke="#4a4d57" stroke-width="0.18">Jul</text>
<text x="380.5" y="280" font-size="8.4" fill="#4a4d57" text-anchor="middle" textLength="11.76" lengthAdjust="spacingAndGlyphs" stroke="#4a4d57" stroke-width="0.18">Oct</text>
<text x="440" y="280" font-size="8.4" fill="#4a4d57" text-anchor="middle" textLength="17.22" lengthAdjust="spacingAndGlyphs" stroke="#4a4d57" stroke-width="0.35">2021</text>
<text x="498.25" y="280" font-size="8.4" fill="#4a4d57" text-anchor="middle" textLength="11.76" lengthAdjust="spacingAndGlyphs" stroke="#4a4d57" stroke-width="0.18">Apr</text>
<text x="557.5" y="280" font-size="8.4" fill="#4a4d57" text-anchor="middle" textLength="9.66" lengthAdjust="spacingAndGlyphs" stroke="#4a4d57" stroke-width="0.18">Jul</text>
<text x="618.75" y="280" font-size="8.4" fill="#4a4d57" text-anchor="middle" textLength="11.76" lengthAdjust="spacingAndGlyphs" stroke="#4a4d57" stroke-width="0.18">Oct</text>
<text x="678.75" y="280" font-size="8.4" fill="#4a4d57" text-anchor="middle" textLength="17.22" lengthAdjust="spacingAndGlyphs" stroke="#4a4d57" stroke-width="0.35">2022</text>
<text x="736.75" y="280" font-size="8.4" fill="#4a4d57" text-anchor="middle" textLength="11.76" lengthAdjust="spacingAndGlyphs" stroke="#4a4d57" stroke-width="0.18">Apr</text>
<text x="795.5" y="280" font-size="8.4" fill="#4a4d57" text-anchor="middle" textLength="9.66" lengthAdjust="spacingAndGlyphs" stroke="#4a4d57" stroke-width="0.18">Jul</text>
<text x="856.75" y="280" font-size="8.4" fill="#4a4d57" text-anchor="middle" textLength="11.76" lengthAdjust="spacingAndGlyphs" stroke="#4a4d57" stroke-width="0.18">Oct</text>
<text x="916.5" y="280" font-size="8.4" fill="#4a4d57" text-anchor="middle" textLength="17.22" lengthAdjust="spacingAndGlyphs" stroke="#4a4d57" stroke-width="0.35">2023</text>
<text x="977" y="280" font-size="8.4" fill="#4a4d57" text-anchor="middle" textLength="11.76" lengthAdjust="spacingAndGlyphs" stroke="#4a4d57" stroke-width="0.18">Apr</text>
<text x="11.5" y="29.6" font-size="8.9" fill="#4a4d57" text-anchor="start" textLength="100.5" lengthAdjust="spacingAndGlyphs" stroke="#4a4d57" stroke-width="0.18">Brent Oil, 1D, CURRENCYCOM</text>
<text x="117.2" y="29.6" font-size="8.9" textLength="23.8" lengthAdjust="spacingAndGlyphs" stroke-width="0.18"><tspan fill="#4a4d57" stroke="#4a4d57">O</tspan><tspan fill="#089981" stroke="#089981">93.63</tspan></text>
<text x="145.3" y="29.6" font-size="8.9" textLength="23.45" lengthAdjust="spacingAndGlyphs" stroke-width="0.18"><tspan fill="#4a4d57" stroke="#4a4d57">H</tspan><tspan fill="#089981" stroke="#089981">93.91</tspan></text>
<text x="174.2" y="29.6" font-size="8.9" textLength="21.9" lengthAdjust="spacingAndGlyphs" stroke-width="0.18"><tspan fill="#4a4d57" stroke="#4a4d57">L</tspan><tspan fill="#089981" stroke="#089981">93.01</tspan></text>
<text x="202.3" y="29.6" font-size="8.9" textLength="21.9" lengthAdjust="spacingAndGlyphs" stroke-width="0.18"><tspan fill="#4a4d57" stroke="#4a4d57">C</tspan><tspan fill="#089981" stroke="#089981">93.75</tspan></text>
<text x="230.5" y="29.6" font-size="8.9" fill="#089981" stroke="#089981" stroke-width="0.18" textLength="48.75" lengthAdjust="spacingAndGlyphs">+0.99 (+1.07%)</text>
<text x="11.5" y="40.0" font-size="8.9" fill="#4a4d57" text-anchor="start" textLength="84.8" lengthAdjust="spacingAndGlyphs" stroke="#4a4d57" stroke-width="0.18">MA (50, close, 0, SMA, 5)</text>
<text x="102.5" y="40.0" font-size="8.9" fill="#2962ff" text-anchor="start" textLength="21.3" lengthAdjust="spacingAndGlyphs" stroke="#2962ff" stroke-width="0.18">104.61</text>
<text x="11.5" y="51" font-size="8.9" fill="#4a4d57" text-anchor="start" textLength="88.5" lengthAdjust="spacingAndGlyphs" stroke="#4a4d57" stroke-width="0.18">MA (200, close, 0, SMA, 5)</text>
<text x="105.6" y="51" font-size="8.9" fill="#f23645" text-anchor="start" textLength="18.8" lengthAdjust="spacingAndGlyphs" stroke="#f23645" stroke-width="0.18">97.30</text>
<text x="11.9" y="216.6" font-size="8.9" fill="#4a4d57" text-anchor="start" textLength="88.6" lengthAdjust="spacingAndGlyphs" stroke="#4a4d57" stroke-width="0.18">RSI (14, close, SMA, 14, 2)</text>
<text x="106" y="216.6" font-size="8.9" fill="#7e57c2" text-anchor="start" textLength="18" lengthAdjust="spacingAndGlyphs" stroke="#7e57c2" stroke-width="0.18">39.41</text>
<text x="129.8" y="216.6" font-size="8.9" fill="#4a4d57" text-anchor="start" textLength="4.3" lengthAdjust="spacingAndGlyphs" stroke="#2a2d36" stroke-width="0.3">∅</text>
<text x="138.9" y="216.6" font-size="8.9" fill="#4a4d57" text-anchor="start" textLength="4.3" lengthAdjust="spacingAndGlyphs" stroke="#2a2d36" stroke-width="0.3">∅</text>
<rect x="6.5" y="289.5" width="1011" height="267" fill="none" stroke="#e8e9ee" stroke-width="1"/>
<line x1="41.5" y1="290" x2="41.5" y2="538" stroke="#f4f4f6" stroke-width="1"/>
<line x1="104.5" y1="290" x2="104.5" y2="538" stroke="#f4f4f6" stroke-width="1"/>
<line x1="158.5" y1="290" x2="158.5" y2="538" stroke="#f4f4f6" stroke-width="1"/>
<line x1="225.5" y1="290" x2="225.5" y2="538" stroke="#f4f4f6" stroke-width="1"/>
<line x1="276.5" y1="290" x2="276.5" y2="538" stroke="#f4f4f6" stroke-width="1"/>
<line x1="348.5" y1="290" x2="348.5" y2="538" stroke="#f4f4f6" stroke-width="1"/>
<line x1="415.5" y1="290" x2="415.5" y2="538" stroke="#f4f4f6" stroke-width="1"/>
<line x1="467.5" y1="290" x2="467.5" y2="538" stroke="#f4f4f6" stroke-width="1"/>
<line x1="552.5" y1="290" x2="552.5" y2="538" stroke="#f4f4f6" stroke-width="1"/>
<line x1="618.5" y1="290" x2="618.5" y2="538" stroke="#f4f4f6" stroke-width="1"/>
<line x1="669.5" y1="290" x2="669.5" y2="538" stroke="#f4f4f6" stroke-width="1"/>
<line x1="755.5" y1="290" x2="755.5" y2="538" stroke="#f4f4f6" stroke-width="1"/>
<line x1="821.5" y1="290" x2="821.5" y2="538" stroke="#f4f4f6" stroke-width="1"/>
<line x1="872.5" y1="290" x2="872.5" y2="538" stroke="#f4f4f6" stroke-width="1"/>
<line x1="959.5" y1="290" x2="959.5" y2="538" stroke="#f4f4f6" stroke-width="1"/>
<line x1="7" y1="313.5" x2="977" y2="313.5" stroke="#f4f4f6" stroke-width="1"/>
<line x1="7" y1="336.5" x2="977" y2="336.5" stroke="#f4f4f6" stroke-width="1"/>
<line x1="7" y1="359.5" x2="977" y2="359.5" stroke="#f4f4f6" stroke-width="1"/>
<line x1="7" y1="382.5" x2="977" y2="382.5" stroke="#f4f4f6" stroke-width="1"/>
<line x1="7" y1="405.5" x2="977" y2="405.5" stroke="#f4f4f6" stroke-width="1"/>
<line x1="7" y1="428.5" x2="977" y2="428.5" stroke="#f4f4f6" stroke-width="1"/>
<line x1="7" y1="451.5" x2="977" y2="451.5" stroke="#f4f4f6" stroke-width="1"/>
<line x1="7" y1="476.5" x2="977" y2="476.5" stroke="#f4f4f6" stroke-width="1"/>
<line x1="7" y1="521.5" x2="977" y2="521.5" stroke="#f4f4f6" stroke-width="1"/>
<line x1="6" y1="455.5" x2="1018" y2="455.5" stroke="#e8e9ee" stroke-width="1"/>
<text transform="scale(0.8223,1)" font-size="62.94" fill="#dadbde" stroke="#dadbde" stroke-width="1.0"><tspan x="468.1" y="365.2">W</tspan><tspan x="530.4" y="365.2">T</tspan><tspan x="575.2" y="365.2">I</tspan><tspan x="594.2" y="366.7" font-size="88">,</tspan><tspan x="614.1" y="365.2"> </tspan><tspan x="646.2" y="365.2">1</tspan><tspan x="683.6" y="365.2">D</tspan></text>
<text x="220.2" y="418" font-size="30.09" fill="#dadbde" stroke="#dadbde" stroke-width="0.4" textLength="63.6" lengthAdjust="spacingAndGlyphs">West</text>
<text x="294.4" y="418" font-size="30.09" fill="#dadbde" stroke="#dadbde" stroke-width="0.4" textLength="74.1" lengthAdjust="spacingAndGlyphs">Texas</text>
<text x="378.1" y="418" font-size="30.09" fill="#dadbde" stroke="#dadbde" stroke-width="0.4" textLength="177.2" lengthAdjust="spacingAndGlyphs">Intermediate</text>
<text x="566.6" y="418" font-size="30.09" fill="#dadbde" stroke="#dadbde" stroke-width="0.4" textLength="80.3" lengthAdjust="spacingAndGlyphs">Crude</text>
<text x="655.4" y="418" font-size="30.09" fill="#dadbde" stroke="#dadbde" stroke-width="0.4" textLength="39.2" lengthAdjust="spacingAndGlyphs">Oil</text>
<text x="703.4" y="418" font-size="30.09" fill="#dadbde" stroke="#dadbde" stroke-width="0.4" textLength="60.5" lengthAdjust="spacingAndGlyphs">cash</text>
<rect x="634.5" y="348.6" width="342" height="6.4" fill="rgba(76,175,80,0.23)" stroke="#4caf50" stroke-opacity="0.55" stroke-width="1"/>
<line x1="7" y1="349.7" x2="956" y2="349.7" stroke="#089981" stroke-width="1" stroke-dasharray="1 1" opacity="0.5"/>
<polyline points="139.5,390.3 155.4,387.8 174.4,384.2 193.5,381.0 212.5,377.9 231.6,375.7 244.3,374.7 255.0,374.0 258.8,373.3 280.4,375.9 305.8,378.4 331.2,380.3 356.6,382.2 375.0,384.9 388.0,386.8 400.9,390.7 413.8,394.6 426.8,397.2 439.7,399.1 452.7,400.4 465.6,401.5 478.6,402.4 491.5,404.3 500.0,405.1 512.7,407.1 525.4,408.3 540.6,409.0 553.3,407.1 569.8,403.2 588.9,399.4 607.9,395.6 625.0,392.8 650.4,387.1 675.8,381.4 701.2,376.3 726.6,371.9 750.0,369.6 762.7,367.3 775.4,364.7 788.1,362.2 800.8,359.7 813.5,357.1 826.2,354.0 838.9,350.1 851.6,346.3 861.7,343.8 870.6,342.9 881.0,342.8" fill="none" stroke="#2a2aff" stroke-width="1.0" opacity="0.6"/>
<polyline points="21.2,394.1 36.5,396.9 50.4,397.5 63.1,396.9 75.8,395.6 88.5,394.4 103.1,393.1 113.9,388.0 126.6,381.0 130.0,379.1 138.9,373.4 149.0,372.5 168.1,371.8 187.1,372.1 203.6,372.1 216.3,370.9 223.9,370.2 231.6,371.2 241.7,372.5 249.3,375.3 255.0,377.1 262.6,379.7 271.5,382.9 280.4,384.8 293.1,386.0 305.8,386.0 318.5,386.0 331.2,387.3 341.3,387.3 350.2,386.0 356.6,384.8 369.3,385.4 375.0,386.2 381.5,388.1 388.0,394.0 394.4,401.1 400.9,406.3 407.4,411.4 413.8,417.3 419.0,420.5 424.2,421.8 429.4,421.8 437.2,419.2 446.2,416.0 452.7,412.1 459.2,408.8 468.2,405.6 478.6,403.9 491.5,403.7 500.0,403.9 512.7,404.5 522.9,405.1 531.7,404.5 541.9,402.6 553.3,400.1 563.5,396.3 576.2,391.2 588.9,386.1 595.2,383.6 607.9,381.0 620.6,379.1 625.0,378.9 635.2,377.6 645.3,374.4 656.7,371.3 669.4,368.7 678.3,369.4 688.5,370.6 698.6,371.3 707.5,370.0 716.4,366.8 726.6,362.4 734.2,360.5 741.8,361.1 750.0,363.5 757.6,364.7 765.2,364.1 772.9,362.2 780.5,357.8 788.1,350.8 794.4,345.7 800.8,340.6 807.1,338.1 813.5,336.2 821.1,333.6 831.2,332.4 838.9,330.5 845.2,327.9 851.6,326.0 857.9,325.4 864.3,326.7 870.6,328.6 877.0,332.4 881.0,336.0" fill="none" stroke="#000000" stroke-width="1.1" opacity="0.7"/>
<path d="M6.50 397.06V400.25M8.20 395.26V401.20M9.90 393.97V397.06M11.60 393.05V394.98M13.30 392.00V394.11M15.00 388.06V392.78M16.70 388.90V392.77M18.40 391.71V395.36M20.10 393.12V396.33M21.80 394.42V396.67M23.50 396.08V400.37M25.20 397.22V398.79M26.90 397.29V400.60M28.60 398.16V401.99M30.30 396.11V400.57M32.00 399.97V403.65M33.70 399.70V404.45M35.40 398.05V400.03M37.10 395.39V400.87M38.80 395.07V398.55M40.50 396.66V399.32M42.20 399.04V400.00M43.90 398.42V400.12M45.60 395.85V399.06M47.30 395.92V397.65M49.00 395.76V396.57M50.70 394.26V396.30M52.40 393.64V395.37M54.10 393.83V394.12M55.80 393.10V394.56M57.50 392.21V394.62M59.20 393.76V395.05M60.90 393.37V396.01M62.60 394.47V396.02M64.30 395.01V397.73M66.00 395.21V397.15M67.70 396.90V397.29M69.40 396.23V398.16M71.10 396.54V397.52M72.80 395.43V397.23M74.50 393.36V396.63M76.20 393.36V395.05M77.90 392.78V395.91M79.60 392.10V394.84M81.30 392.66V393.15M83.00 391.50V393.23M84.70 391.85V392.79M86.40 390.64V392.16M88.10 390.90V393.36M89.80 391.69V392.89M91.50 392.44V393.67M93.20 392.36V393.83M94.90 390.66V394.95M96.60 390.63V391.49M98.30 389.68V392.17M100.00 390.02V391.80M101.70 389.39V390.39M103.40 388.53V389.21M105.10 374.77V389.42M106.80 374.36V378.57M108.50 376.63V379.72M110.20 375.80V381.87M111.90 375.36V380.62M113.60 374.37V377.59M115.30 374.34V374.93M117.00 372.62V376.49M118.70 372.20V373.76M120.40 372.55V374.61M122.10 372.72V373.88M123.80 372.32V374.70M125.50 371.61V374.39M127.20 370.17V372.92M128.90 369.26V372.57M130.60 369.88V371.62M132.30 369.38V371.93M134.00 367.15V370.71M135.70 366.33V370.06M137.40 366.72V369.42M139.10 368.23V376.12M140.80 372.57V375.21M142.50 373.71V377.08M144.20 374.96V378.03M145.90 373.63V375.81M147.60 374.44V376.22M149.30 374.07V377.00M151.00 375.58V377.63M152.70 371.83V380.43M154.40 372.00V374.59M156.10 366.46V374.89M157.80 366.94V369.33M159.50 366.58V369.51M161.20 366.11V369.02M162.90 365.05V368.96M164.60 367.82V371.25M166.30 370.31V372.68M168.00 371.20V374.21M169.70 371.67V372.90M171.40 371.60V373.66M173.10 370.43V372.45M174.80 370.71V371.98M176.50 371.35V372.73M178.20 371.76V374.73M179.90 372.77V376.19M181.60 371.85V375.96M183.30 374.00V376.69M185.00 376.37V376.95M186.70 372.10V377.69M188.40 372.79V375.51M190.10 369.73V376.43M191.80 370.24V373.23M193.50 370.10V374.51M195.20 368.43V372.38M196.90 370.80V374.22M198.60 370.67V374.62M200.30 371.04V373.66M202.00 369.16V374.57M203.70 367.88V369.57M205.40 368.05V369.66M207.10 366.22V369.47M208.80 365.56V367.84M210.50 362.75V368.79M212.20 363.19V365.26M213.90 363.89V366.35M215.60 366.08V369.27M217.30 367.17V368.56M219.00 366.73V368.80M220.70 366.13V372.65M222.40 372.27V374.01M224.10 372.38V375.03M225.80 379.43V380.90M227.50 377.95V382.49M229.20 378.07V379.72M230.90 377.34V378.96M232.60 377.59V379.87M234.30 377.05V379.64M236.00 377.71V379.39M237.70 374.84V378.55M239.40 373.39V378.37M241.10 376.63V377.87M242.80 376.59V379.48M244.50 377.96V381.37M246.20 380.45V381.35M247.90 379.20V381.76M249.60 379.17V381.93M251.30 379.19V381.13M253.00 376.33V381.75M254.70 374.28V383.95M256.40 379.30V385.86M258.10 378.64V384.86M259.80 382.83V389.47M261.50 387.74V390.46M263.20 387.93V394.07M264.90 387.93V396.27M266.60 388.86V391.56M268.30 388.69V390.81M270.00 385.84V390.56M271.70 384.36V386.68M273.40 382.16V385.83M275.10 381.41V382.89M276.80 382.88V385.99M278.50 384.14V386.41M280.20 384.15V385.27M281.90 382.34V385.15M283.60 378.99V383.66M285.30 379.52V384.05M287.00 382.25V385.39M288.70 384.57V386.23M290.40 383.62V388.22M292.10 380.48V389.62M293.80 380.03V385.20M295.50 384.76V390.02M297.20 384.71V395.78M298.90 385.87V394.53M300.60 388.23V388.50M302.30 387.06V388.66M304.00 386.68V388.12M305.70 386.66V389.15M307.40 387.26V389.20M309.10 387.38V388.54M310.80 386.11V389.56M312.50 385.57V388.60M314.20 382.55V389.03M315.90 383.01V386.79M317.60 384.82V386.98M319.30 380.44V388.99M321.00 380.30V384.05M322.70 380.17V387.34M324.40 383.92V387.07M326.10 384.59V387.37M327.80 383.83V389.45M329.50 387.19V391.76M331.20 390.28V393.84M332.90 388.69V390.94M334.60 387.43V390.19M336.30 388.06V390.79M338.00 387.55V390.95M339.70 386.96V390.23M341.40 386.24V389.83M343.10 383.05V387.32M344.80 380.70V384.32M346.50 378.22V384.86M347.30 378.70V381.89M348.10 377.84V380.09M348.90 377.29V380.56M349.70 377.01V378.46M350.50 376.30V377.84M351.30 375.90V377.00M352.10 376.01V380.02M352.90 378.55V382.66M353.70 382.01V384.37M354.50 382.12V384.73M355.30 383.26V384.45M356.10 383.37V384.69M356.90 383.63V385.09M357.70 383.16V385.15M358.50 382.37V384.91M359.30 382.39V385.73M360.10 385.21V386.98M360.90 386.30V388.92M361.70 388.38V389.24M362.50 387.97V389.40M363.30 388.61V390.05M364.10 389.70V390.79M364.90 389.91V392.59M365.70 390.16V392.90M366.50 390.55V394.16M367.30 392.28V395.15M368.10 392.31V394.66M368.90 392.02V393.40M369.70 391.49V393.60M370.50 391.19V393.41M371.30 391.87V393.28M372.10 391.95V393.01M372.90 391.17V392.51M373.70 389.25V392.70M374.50 389.40V391.54M375.30 388.87V391.71M376.10 388.45V389.77M376.90 388.29V391.10M377.70 390.10V390.92M378.50 390.07V393.21M379.30 391.05V395.66M380.10 391.75V396.49M380.90 392.02V400.40M381.70 398.17V400.05M382.50 394.87V399.97M383.30 394.80V401.28M384.10 393.76V398.11M384.90 395.33V403.34M385.70 416.67V418.62M386.50 408.20V421.47M387.30 407.09V411.38M388.10 409.71V414.54M388.90 410.42V413.58M389.70 411.87V417.89M390.50 412.37V421.89M391.30 419.93V425.09M392.10 422.21V427.38M392.90 421.40V423.06M393.70 421.07V422.81M394.50 420.55V424.15M395.30 421.41V423.36M396.10 422.97V425.61M396.90 421.90V425.94M397.70 423.81V427.05M398.50 423.99V426.27M399.30 420.87V427.27M400.10 419.46V422.31M400.90 417.10V420.50M401.70 415.68V418.42M402.50 417.00V418.37M403.30 414.38V418.18M404.10 415.17V416.09M404.90 412.85V420.87M405.70 417.76V420.93M406.50 416.22V422.18M407.30 417.23V421.91M408.10 416.27V426.27M408.90 423.49V426.51M409.70 420.31V440.90M410.50 433.62V443.61M411.30 430.02V438.02M412.10 429.86V434.30M412.90 426.72V433.73M413.70 430.99V435.95M414.50 426.61V435.04M415.30 425.84V428.45M416.10 426.26V428.63M416.90 421.09V427.86M417.70 419.80V422.85M418.50 419.11V422.57M419.30 417.37V421.59M420.10 418.00V421.11M420.90 419.66V421.55M421.70 417.40V421.98M422.50 418.16V419.69M423.30 414.65V420.23M424.10 414.08V415.29M424.90 414.03V414.67M425.70 411.88V415.45M426.50 410.92V415.02M427.30 410.99V414.41M428.10 411.21V412.84M428.90 411.20V413.73M429.70 410.38V414.21M430.50 410.20V411.95M431.30 409.88V410.34M432.10 409.85V410.40M432.90 407.32V410.51M433.70 406.13V407.60M434.50 405.54V406.86M435.30 405.64V407.48M436.10 405.76V407.92M436.90 404.67V407.31M437.70 404.97V407.20M438.50 405.94V407.50M439.30 405.49V408.54M440.10 406.01V409.41M440.90 407.73V408.94M441.70 406.49V409.14M442.50 403.95V407.34M443.30 404.19V405.70M444.10 404.44V405.84M444.90 402.40V405.44M445.70 403.18V405.43M446.50 404.47V405.76M447.30 405.54V406.10M448.10 405.19V406.77M448.90 404.37V405.87M449.70 404.38V405.84M450.50 404.89V406.21M451.30 404.47V405.64M452.10 405.29V405.96M452.90 403.43V405.83M453.70 403.58V404.54M454.50 403.90V404.96M455.30 403.78V405.19M456.10 404.13V404.89M456.90 403.87V405.35M457.70 403.72V404.38M458.50 403.60V404.80M459.30 404.18V404.75M460.10 402.72V404.64M460.90 402.53V403.83M461.70 403.23V403.68M462.50 403.31V403.97M463.30 402.31V403.69M464.10 402.02V402.98M464.90 402.39V403.73M465.70 402.27V403.47M466.50 402.89V403.39M467.30 403.28V404.26M468.10 403.54V404.82M468.90 402.76V405.11M469.70 402.08V403.52M470.50 402.14V402.63M471.30 401.73V402.78M472.10 401.60V402.75M472.90 401.05V402.41M473.70 401.17V402.72M474.50 401.57V403.23M475.30 401.24V402.68M476.10 401.16V402.00M476.90 401.20V402.23M477.70 401.51V402.51M478.50 401.46V402.06M479.30 401.46V401.79M480.10 401.71V402.23M480.90 401.08V402.35M481.70 400.99V402.40M482.50 401.43V401.73M483.30 400.03V401.84M484.10 400.49V401.02M484.90 399.68V402.31M485.70 401.62V403.20M486.50 401.83V404.38M487.30 403.74V407.49M488.10 405.40V407.08M488.90 405.98V409.71M489.70 406.36V408.54M490.50 405.86V407.64M491.30 405.13V406.67M492.10 404.68V406.73M492.90 403.53V405.00M493.70 403.90V405.32M494.50 402.76V405.30M495.30 402.74V404.61M496.10 404.59V404.87M496.90 403.48V404.90M497.70 403.79V404.45M498.50 403.43V404.89M499.30 403.40V403.94M500.10 403.61V405.15M500.90 403.99V406.45M501.70 405.14V407.68M502.50 406.00V407.92M503.30 405.56V406.96M504.10 405.13V407.14M504.90 402.88V406.35M505.70 402.86V404.17M506.50 403.97V405.00M507.30 402.40V405.35M508.10 402.97V403.45M508.90 403.18V404.69M509.70 403.20V404.52M510.50 403.42V404.49M511.30 403.74V405.61M512.10 402.84V405.17M512.90 402.76V404.42M513.70 402.82V406.09M514.50 403.97V405.63M515.30 404.83V406.95M516.10 405.09V408.15M516.90 407.89V408.37M517.70 408.04V411.49M518.50 409.55V412.67M519.30 408.94V410.34M520.10 406.28V410.10M520.90 406.07V407.22M521.70 405.52V407.65M522.50 403.86V406.33M523.30 401.76V404.45M524.10 401.68V404.52M524.90 402.52V403.86M525.70 402.89V404.68M526.50 403.12V404.14M527.30 402.67V403.44M528.10 402.37V404.86M528.90 401.57V404.54M529.70 401.40V403.08M530.50 400.25V402.71M531.30 399.39V401.08M532.10 398.23V401.37M532.90 398.04V399.18M533.70 397.93V400.04M534.50 398.63V400.09M535.30 398.89V400.03M536.10 398.77V399.89M536.90 399.19V399.53M537.70 397.22V400.10M538.50 397.96V398.34M539.30 396.79V398.30M540.10 396.26V397.65M540.90 396.71V397.81M541.70 396.61V397.06M542.50 395.68V398.08M543.30 395.33V397.46M544.10 394.36V395.67M544.90 395.13V395.65M545.70 394.68V396.37M546.50 394.44V396.48M547.30 394.60V397.62M548.10 395.21V396.75M548.90 395.26V396.36M549.70 395.10V397.28M550.50 395.24V397.47M551.30 394.90V395.92M552.10 394.73V396.43M552.90 394.45V396.95M553.70 392.31V396.48M554.50 391.91V393.65M555.30 392.02V393.66M556.10 392.21V393.42M556.90 389.22V393.39M557.70 388.99V391.10M558.50 390.32V391.38M559.30 388.39V391.46M560.10 389.04V390.18M560.90 389.03V390.42M561.70 390.14V391.70M562.50 390.18V391.78M563.30 390.21V390.99M564.10 390.44V390.90M564.90 389.86V392.35M565.70 390.23V391.74M566.50 389.38V391.32M567.30 390.72V392.77M568.10 388.76V392.07M568.90 389.18V390.13M569.70 387.09V390.49M570.50 386.73V387.89M571.30 385.64V388.54M572.10 383.89V386.80M572.90 383.19V384.70M573.70 383.73V384.19M574.50 382.92V384.73M575.30 383.70V384.65M576.10 383.17V384.34M576.90 381.32V384.03M577.70 380.38V382.40M578.50 379.96V380.93M579.30 380.49V381.84M580.10 379.11V382.44M580.90 380.10V380.34M581.70 379.04V380.50M582.50 376.11V380.87M583.30 375.77V377.61M584.10 376.64V381.76M584.90 381.51V382.22M585.70 379.20V381.98M586.50 377.93V380.28M587.30 374.19V379.28M588.10 372.48V375.46M588.90 373.04V374.86M589.70 373.94V377.22M590.50 374.33V376.69M591.30 374.59V377.96M592.10 374.53V378.31M592.90 374.72V378.38M593.70 374.81V377.26M594.50 376.26V381.82M595.30 379.52V383.00M596.10 382.65V383.47M596.90 383.01V384.40M597.70 383.70V386.14M598.50 382.52V384.78M599.30 381.96V383.71M600.10 382.58V383.81M600.90 381.27V383.29M601.70 381.48V383.74M602.50 382.14V384.78M603.30 381.69V384.60M604.10 382.10V382.74M604.90 381.82V382.61M605.70 379.55V383.10M606.50 379.87V381.42M607.30 380.03V380.81M608.10 379.22V380.81M608.90 377.25V379.95M609.70 378.11V379.38M610.50 378.01V378.70M611.30 376.80V378.08M612.10 376.93V378.75M612.90 377.85V379.83M613.70 379.32V380.14M614.50 378.99V381.87M615.30 379.07V381.22M616.10 377.82V379.45M616.90 376.35V378.74M617.70 376.42V377.85M618.50 375.45V376.72M619.30 374.66V375.80M620.10 375.15V376.39M620.90 374.76V376.59M621.70 375.04V375.75M622.50 374.40V377.09M623.30 375.77V376.42M624.10 374.83V376.84M624.90 373.51V379.05M625.70 374.37V378.66M626.50 373.66V376.24M627.30 374.80V378.07M628.10 376.93V379.28M628.90 375.58V379.16M629.70 377.24V378.51M630.50 374.82V378.52M631.30 373.60V376.37M632.10 374.58V376.94M632.90 373.30V376.06M633.70 373.66V374.34M634.50 372.69V374.44M635.30 372.38V373.73M636.10 371.49V372.70M636.90 370.62V372.18M637.70 369.76V371.36M638.50 369.98V371.41M639.30 369.15V370.69M640.10 369.58V371.56M640.90 369.72V371.85M641.70 369.76V370.63M642.50 368.62V369.87M643.30 368.73V370.27M644.10 367.72V369.71M644.90 367.07V368.35M645.70 368.35V370.60M646.50 369.60V370.35M647.30 366.85V370.27M648.10 366.43V367.50M648.90 365.46V367.11M649.70 364.96V367.07M650.50 365.69V368.90M651.30 365.67V368.60M652.10 364.26V368.17M652.90 363.87V365.97M653.70 363.23V364.97M654.50 361.77V364.96M655.30 361.94V366.88M656.10 365.77V370.32M656.90 367.70V371.18M657.70 366.92V368.54M658.50 365.74V368.38M659.30 366.20V368.06M660.10 366.27V368.77M660.90 365.92V370.66M661.70 368.73V372.57M662.50 372.23V376.13M663.30 369.03V375.46M664.10 368.77V372.91M664.90 367.27V372.71M665.70 367.93V370.02M666.50 367.25V370.74M667.30 366.73V368.90M668.10 366.58V367.54M668.90 366.05V369.46M669.70 368.48V370.40M670.50 368.27V371.13M671.30 370.24V371.07M672.10 369.33V372.26M672.90 371.30V373.91M673.70 372.14V373.32M674.50 372.69V375.15M675.30 373.81V375.61M676.10 370.36V375.02M676.90 371.13V373.43M677.70 369.36V375.33M678.50 370.47V375.43M679.30 374.65V377.96M680.10 376.36V378.24M680.90 377.13V380.04M681.70 378.46V381.46M682.50 376.26V379.74M683.30 371.88V377.94M684.10 370.90V373.89M684.90 371.54V373.08M685.70 370.46V373.88M686.50 371.07V372.97M687.30 370.95V373.34M688.10 371.29V372.36M688.90 371.66V372.45M689.70 371.71V372.71M690.50 371.19V373.75M691.30 371.27V373.86M692.10 371.05V374.10M692.90 370.85V372.55M693.70 369.92V372.53M694.50 367.34V370.20M695.30 366.59V368.37M696.10 366.80V367.81M696.90 367.49V370.55M697.70 367.97V370.79M698.50 368.07V372.02M699.30 368.15V369.68M700.10 365.43V368.33M700.90 365.28V366.17M701.70 362.74V365.84M702.50 361.77V366.26M703.30 364.65V366.13M704.10 364.06V366.85M704.90 364.55V367.48M705.70 363.39V365.19M706.50 361.07V363.88M707.30 360.38V362.27M708.10 359.87V361.32M708.90 359.30V360.79M709.70 359.43V361.88M710.50 359.70V362.04M711.30 358.58V361.09M712.10 357.97V359.54M712.90 358.15V358.71M713.70 355.65V358.70M714.50 354.99V357.00M715.30 353.97V357.24M716.10 354.31V356.41M716.90 354.32V355.41M717.70 354.47V355.36M718.50 354.74V355.35M719.30 354.67V359.24M720.10 355.16V359.05M720.90 354.84V358.55M721.70 355.14V357.04M722.50 355.64V359.45M723.30 357.82V362.13M724.10 359.99V362.32M724.90 356.75V360.79M725.70 356.47V358.04M726.50 355.77V359.29M727.30 358.11V362.40M728.10 357.00V361.08M728.90 356.13V363.01M729.70 359.18V362.54M730.50 358.99V362.48M731.30 361.23V364.11M732.10 363.08V364.32M732.90 362.09V367.10M733.70 364.01V366.67M734.50 359.80V368.12M735.30 358.72V362.01M736.10 358.24V368.91M736.90 363.20V373.26M737.70 371.81V377.63M738.50 373.66V375.82M739.30 374.08V379.11M740.10 371.61V379.66M740.90 371.83V375.31M741.70 368.86V375.98M742.50 365.49V371.98M743.30 365.45V366.94M744.10 366.39V372.34M744.90 366.29V371.08M745.70 365.32V371.94M746.50 368.44V371.12M747.30 368.85V374.03M748.10 370.47V374.69M748.90 369.79V372.59M749.70 366.17V372.06M750.50 363.95V369.43M751.30 365.05V368.97M752.10 364.06V368.43M752.90 361.29V365.35M753.70 362.24V363.54M754.50 362.40V366.67M755.30 362.96V365.89M756.10 361.63V363.74M756.90 362.55V364.52M757.70 361.13V363.57M758.50 358.92V363.68M759.30 361.95V364.67M760.10 358.98V364.35M760.90 354.59V359.97M761.70 355.37V360.00M762.50 355.70V359.60M763.30 355.58V356.71M764.10 354.02V358.07M764.90 353.03V356.15M765.70 352.43V353.98M766.50 351.34V352.96M767.30 352.34V356.53M768.10 351.47V357.26M768.90 349.96V354.36M769.70 351.31V352.85M770.50 351.68V353.40M771.30 351.64V353.39M772.10 350.38V353.67M772.90 350.54V353.06M773.70 349.73V351.51M774.50 346.79V350.48M775.30 346.77V348.07M776.10 347.13V348.66M776.90 347.63V351.01M777.70 347.29V350.98M778.50 342.92V348.44M779.30 342.51V345.59M780.10 344.05V348.52M780.90 343.39V350.91M781.70 344.56V352.31M782.50 347.46V352.14M783.30 340.74V350.96M784.10 339.46V345.14M784.90 339.06V345.19M785.70 334.01V341.85M786.50 333.66V342.25M787.30 334.13V341.38M788.10 317.74V340.34M788.90 319.16V325.92M789.70 316.95V325.29M790.50 313.98V320.32M791.30 304.91V318.55M792.10 302.26V321.54M792.90 316.30V326.93M793.70 317.97V330.62M794.50 322.33V331.18M795.30 329.17V340.90M796.10 338.29V344.14M796.90 333.43V343.71M797.70 329.78V340.04M798.50 328.66V339.87M799.30 316.77V334.07M800.10 319.39V329.29M800.90 320.18V332.46M801.70 317.91V325.61M802.50 319.60V324.12M803.30 319.52V328.64M804.10 327.45V328.12M804.90 327.14V338.11M805.70 333.00V341.01M806.50 336.16V341.08M807.30 329.06V339.08M808.10 330.07V333.90M808.90 331.03V341.73M809.70 340.00V343.83M810.50 338.55V345.14M811.30 338.12V345.26M812.10 332.44V342.75M812.90 326.38V333.24M813.70 326.73V333.20M814.50 326.41V332.17M815.30 324.26V330.81M816.10 328.26V338.69M816.90 331.24V337.97M817.70 333.67V340.15M818.50 334.68V337.42M819.30 334.77V339.38M820.10 329.77V338.35M820.90 331.32V335.17M821.70 332.52V337.75M822.50 333.05V338.86M823.30 329.95V336.11M824.10 326.42V330.55M824.90 324.91V332.50M825.70 327.27V332.67M826.50 331.27V336.55M827.30 330.93V336.53M828.10 328.35V334.77M828.90 325.33V329.74M829.70 319.36V328.41M830.50 319.59V323.46M831.30 320.88V328.06M832.10 325.76V331.36M832.90 322.98V328.76M833.70 323.19V327.38M834.50 322.04V325.53M835.30 322.38V323.60M836.10 321.65V323.52M836.90 318.91V322.60M837.70 317.99V319.99M838.50 318.03V319.17M839.30 316.62V320.32M840.10 317.33V319.53M840.90 316.76V319.09M841.70 311.72V317.96M842.50 312.57V317.91M843.30 310.73V314.75M844.10 310.46V317.20M844.90 315.46V317.23M845.70 312.33V316.42M846.50 314.70V319.62M847.30 316.68V319.08M848.10 317.34V319.03M848.90 317.37V323.85M849.70 322.32V330.57M850.50 325.55V333.47M851.30 325.08V330.56M852.10 328.01V333.98M852.90 327.31V332.70M853.70 322.17V330.84M854.50 326.30V328.24M855.30 323.73V331.79M856.10 322.86V335.20M856.90 330.89V336.36M857.70 329.96V343.76M858.50 335.98V342.99M859.30 332.95V342.79M860.10 332.87V339.16M860.90 335.80V338.51M861.70 333.27V338.10M862.50 335.62V340.60M863.30 338.67V348.14M864.10 338.03V348.69M864.90 335.55V342.87M865.70 333.83V340.65M866.50 338.36V340.66M867.30 335.84V344.83M868.10 338.30V343.18M868.90 336.29V342.52M869.70 338.54V341.36M870.50 336.95V343.74M871.30 340.23V343.59M872.10 337.69V344.12M872.90 337.98V344.17M873.70 340.22V345.82M874.50 338.85V344.33M875.30 342.22V349.04M876.10 346.50V355.40M876.90 346.56V354.55M877.70 347.21V350.62M878.50 342.31V348.40M879.30 344.33V348.06M880.10 344.94V350.91M880.90 349.91V351.68" stroke="#737375" stroke-width="0.45" fill="none"/>
<path d="M7.60 396.05h1.2v3.83h-1.2zM9.30 394.68h1.2v1.37h-1.2zM11.00 393.57h1.2v1.11h-1.2zM12.70 392.41h1.2v1.16h-1.2zM14.40 389.17h1.2v3.25h-1.2zM19.50 394.44h1.2v0.74h-1.2zM28.00 398.29h1.2v2.12h-1.2zM33.10 400.00h1.2v2.11h-1.2zM36.50 396.94h1.2v3.08h-1.2zM43.30 398.73h1.2v0.85h-1.2zM45.00 397.04h1.2v1.69h-1.2zM46.70 395.95h1.2v1.09h-1.2zM50.10 394.38h1.2v1.73h-1.2zM51.80 394.11h1.2v0.60h-1.2zM53.50 394.07h1.2v0.60h-1.2zM55.20 393.44h1.2v0.63h-1.2zM68.80 396.69h1.2v0.60h-1.2zM72.20 396.13h1.2v0.94h-1.2zM73.90 394.16h1.2v1.97h-1.2zM77.30 393.99h1.2v0.90h-1.2zM79.00 392.82h1.2v1.17h-1.2zM80.70 392.74h1.2v0.60h-1.2zM82.40 392.15h1.2v0.60h-1.2zM84.10 392.13h1.2v0.60h-1.2zM85.80 391.04h1.2v1.09h-1.2zM89.20 392.62h1.2v0.60h-1.2zM92.60 393.19h1.2v0.60h-1.2zM94.30 390.75h1.2v2.44h-1.2zM96.00 390.71h1.2v0.60h-1.2zM99.40 390.17h1.2v1.02h-1.2zM101.10 389.85h1.2v0.60h-1.2zM104.50 375.21h1.2v13.89h-1.2zM111.30 376.55h1.2v3.53h-1.2zM113.00 374.52h1.2v2.03h-1.2zM116.40 373.41h1.2v1.13h-1.2zM118.10 372.62h1.2v0.79h-1.2zM121.50 373.22h1.2v0.60h-1.2zM124.90 372.35h1.2v1.57h-1.2zM126.60 371.17h1.2v1.19h-1.2zM128.30 370.62h1.2v0.60h-1.2zM131.70 370.31h1.2v0.86h-1.2zM133.40 368.23h1.2v2.08h-1.2zM140.20 373.94h1.2v0.60h-1.2zM143.60 375.14h1.2v1.20h-1.2zM145.30 375.11h1.2v0.60h-1.2zM152.10 374.19h1.2v3.23h-1.2zM153.80 372.84h1.2v1.35h-1.2zM155.50 369.12h1.2v3.72h-1.2zM157.20 367.37h1.2v1.75h-1.2zM160.60 366.57h1.2v1.50h-1.2zM169.10 372.17h1.2v0.60h-1.2zM170.80 371.68h1.2v0.60h-1.2zM172.50 370.79h1.2v0.89h-1.2zM179.30 372.88h1.2v1.82h-1.2zM184.40 376.44h1.2v0.60h-1.2zM186.10 373.00h1.2v3.44h-1.2zM189.50 371.31h1.2v4.06h-1.2zM192.90 370.15h1.2v3.01h-1.2zM198.00 371.11h1.2v2.81h-1.2zM201.40 369.34h1.2v4.28h-1.2zM204.80 368.71h1.2v0.72h-1.2zM206.50 367.61h1.2v1.10h-1.2zM208.20 367.11h1.2v0.60h-1.2zM209.90 363.61h1.2v3.50h-1.2zM216.70 368.21h1.2v0.60h-1.2zM218.40 367.54h1.2v0.68h-1.2zM223.50 373.49h1.2v0.60h-1.2zM226.90 378.71h1.2v1.80h-1.2zM228.60 378.38h1.2v0.60h-1.2zM230.30 377.91h1.2v0.60h-1.2zM235.40 377.86h1.2v1.21h-1.2zM237.10 374.99h1.2v2.87h-1.2zM240.50 377.11h1.2v0.60h-1.2zM245.60 380.60h1.2v0.60h-1.2zM247.30 380.23h1.2v0.60h-1.2zM250.70 379.67h1.2v0.64h-1.2zM252.40 376.42h1.2v3.25h-1.2zM255.80 379.83h1.2v4.05h-1.2zM260.90 388.17h1.2v0.94h-1.2zM264.30 388.97h1.2v4.86h-1.2zM267.70 388.94h1.2v1.21h-1.2zM269.40 386.20h1.2v2.74h-1.2zM271.10 385.21h1.2v0.99h-1.2zM272.80 382.66h1.2v2.55h-1.2zM277.90 384.71h1.2v0.60h-1.2zM281.30 383.36h1.2v1.68h-1.2zM283.00 381.04h1.2v2.32h-1.2zM288.10 384.82h1.2v0.60h-1.2zM291.50 381.30h1.2v6.08h-1.2zM298.30 388.28h1.2v5.34h-1.2zM301.70 387.73h1.2v0.62h-1.2zM303.40 386.89h1.2v0.84h-1.2zM308.50 387.56h1.2v0.67h-1.2zM310.20 386.77h1.2v0.79h-1.2zM313.60 383.68h1.2v3.99h-1.2zM318.70 382.10h1.2v4.53h-1.2zM320.40 380.70h1.2v1.41h-1.2zM325.50 385.29h1.2v0.95h-1.2zM330.60 390.56h1.2v0.60h-1.2zM332.30 389.97h1.2v0.60h-1.2zM334.00 388.55h1.2v1.42h-1.2zM337.40 388.68h1.2v1.14h-1.2zM339.10 387.98h1.2v0.69h-1.2zM340.80 387.15h1.2v0.83h-1.2zM342.50 383.22h1.2v3.94h-1.2zM344.20 381.66h1.2v1.56h-1.2zM346.80 379.53h1.0v2.17h-1.0zM348.40 378.28h1.0v1.58h-1.0zM349.20 377.47h1.0v0.81h-1.0zM350.00 376.54h1.0v0.94h-1.0zM350.80 376.50h1.0v0.60h-1.0zM355.60 384.32h1.0v0.60h-1.0zM357.20 384.24h1.0v0.60h-1.0zM358.00 383.13h1.0v1.11h-1.0zM361.20 388.63h1.0v0.60h-1.0zM365.20 391.02h1.0v1.35h-1.0zM367.60 392.62h1.0v1.04h-1.0zM369.20 391.54h1.0v1.64h-1.0zM370.80 392.39h1.0v0.60h-1.0zM371.60 392.07h1.0v0.60h-1.0zM372.40 391.27h1.0v0.80h-1.0zM373.20 389.51h1.0v1.76h-1.0zM374.80 389.70h1.0v1.62h-1.0zM375.60 389.47h1.0v0.60h-1.0zM377.20 390.15h1.0v0.60h-1.0zM379.60 394.01h1.0v1.26h-1.0zM381.20 398.50h1.0v0.70h-1.0zM382.80 395.95h1.0v3.40h-1.0zM384.40 397.50h1.0v3.35h-1.0zM386.00 411.37h1.0v7.16h-1.0zM386.80 410.25h1.0v1.11h-1.0zM391.60 422.27h1.0v2.43h-1.0zM393.20 421.53h1.0v0.96h-1.0zM398.00 425.18h1.0v0.89h-1.0zM398.80 420.98h1.0v4.20h-1.0zM399.60 419.88h1.0v1.09h-1.0zM400.40 418.20h1.0v1.69h-1.0zM401.20 417.20h1.0v1.00h-1.0zM402.80 415.66h1.0v2.02h-1.0zM405.20 418.01h1.0v1.99h-1.0zM406.80 418.18h1.0v3.69h-1.0zM410.00 435.46h1.0v4.40h-1.0zM410.80 430.07h1.0v5.38h-1.0zM412.40 431.37h1.0v0.99h-1.0zM414.00 427.13h1.0v6.42h-1.0zM416.40 421.12h1.0v6.31h-1.0zM418.00 420.09h1.0v1.94h-1.0zM418.80 418.19h1.0v1.90h-1.0zM421.20 418.34h1.0v2.87h-1.0zM422.80 415.20h1.0v4.15h-1.0zM423.60 414.21h1.0v0.99h-1.0zM425.20 412.34h1.0v2.26h-1.0zM426.80 411.56h1.0v2.56h-1.0zM429.20 410.51h1.0v2.72h-1.0zM430.00 410.28h1.0v0.60h-1.0zM430.80 409.93h1.0v0.60h-1.0zM432.40 407.57h1.0v2.37h-1.0zM433.20 406.56h1.0v1.01h-1.0zM434.00 406.00h1.0v0.60h-1.0zM436.40 405.01h1.0v1.93h-1.0zM438.80 406.33h1.0v0.72h-1.0zM440.40 407.79h1.0v0.73h-1.0zM441.20 406.98h1.0v0.82h-1.0zM442.00 404.45h1.0v2.52h-1.0zM443.60 405.20h1.0v0.60h-1.0zM444.40 403.78h1.0v1.42h-1.0zM447.60 405.30h1.0v0.73h-1.0zM448.40 405.02h1.0v0.60h-1.0zM449.20 404.93h1.0v0.60h-1.0zM450.80 405.46h1.0v0.60h-1.0zM452.40 404.06h1.0v1.60h-1.0zM454.00 404.31h1.0v0.60h-1.0zM456.40 403.91h1.0v0.91h-1.0zM459.60 403.04h1.0v1.44h-1.0zM461.20 403.54h1.0v0.60h-1.0zM462.00 403.49h1.0v0.60h-1.0zM462.80 402.64h1.0v0.85h-1.0zM468.40 403.09h1.0v1.35h-1.0zM469.20 402.63h1.0v0.60h-1.0zM470.00 402.52h1.0v0.60h-1.0zM470.80 401.86h1.0v0.66h-1.0zM472.40 401.34h1.0v1.03h-1.0zM474.80 401.36h1.0v1.10h-1.0zM476.40 401.72h1.0v0.60h-1.0zM478.00 401.71h1.0v0.60h-1.0zM480.40 401.54h1.0v0.60h-1.0zM482.00 401.46h1.0v0.60h-1.0zM482.80 400.76h1.0v0.70h-1.0zM487.60 406.23h1.0v0.76h-1.0zM489.20 406.49h1.0v1.83h-1.0zM490.00 406.22h1.0v0.60h-1.0zM490.80 405.34h1.0v0.88h-1.0zM491.60 404.89h1.0v0.60h-1.0zM492.40 403.92h1.0v0.97h-1.0zM494.00 403.33h1.0v1.73h-1.0zM496.40 403.87h1.0v0.88h-1.0zM498.00 403.87h1.0v0.60h-1.0zM498.80 403.76h1.0v0.60h-1.0zM502.00 406.70h1.0v0.60h-1.0zM502.80 406.28h1.0v0.60h-1.0zM503.60 405.58h1.0v0.70h-1.0zM504.40 403.42h1.0v2.16h-1.0zM506.80 403.40h1.0v1.56h-1.0zM510.00 403.81h1.0v0.60h-1.0zM511.60 403.58h1.0v1.01h-1.0zM514.00 404.87h1.0v0.60h-1.0zM518.00 410.18h1.0v0.88h-1.0zM518.80 409.42h1.0v0.76h-1.0zM519.60 407.14h1.0v2.28h-1.0zM520.40 406.64h1.0v0.60h-1.0zM521.20 405.99h1.0v0.66h-1.0zM522.00 404.45h1.0v1.53h-1.0zM522.80 402.01h1.0v2.45h-1.0zM524.40 403.14h1.0v0.60h-1.0zM526.00 403.34h1.0v0.60h-1.0zM526.80 402.90h1.0v0.60h-1.0zM528.40 402.06h1.0v2.21h-1.0zM530.00 400.43h1.0v1.99h-1.0zM530.80 399.94h1.0v0.60h-1.0zM531.60 398.33h1.0v1.61h-1.0zM533.20 398.97h1.0v0.60h-1.0zM534.00 398.95h1.0v0.60h-1.0zM537.20 398.14h1.0v1.38h-1.0zM538.80 397.18h1.0v1.03h-1.0zM540.40 396.73h1.0v0.86h-1.0zM542.00 396.57h1.0v0.60h-1.0zM542.80 395.49h1.0v1.09h-1.0zM543.60 395.31h1.0v0.60h-1.0zM545.20 394.74h1.0v0.60h-1.0zM547.60 396.12h1.0v0.60h-1.0zM548.40 395.66h1.0v0.60h-1.0zM550.00 395.77h1.0v0.60h-1.0zM550.80 395.09h1.0v0.68h-1.0zM551.60 395.08h1.0v0.60h-1.0zM553.20 393.24h1.0v2.90h-1.0zM554.00 392.03h1.0v1.22h-1.0zM556.40 389.77h1.0v2.70h-1.0zM558.00 390.85h1.0v0.60h-1.0zM558.80 389.37h1.0v1.49h-1.0zM562.00 390.37h1.0v0.78h-1.0zM563.60 390.49h1.0v0.60h-1.0zM565.20 390.92h1.0v0.60h-1.0zM566.00 390.88h1.0v0.60h-1.0zM567.60 389.94h1.0v1.90h-1.0zM568.40 389.60h1.0v0.60h-1.0zM569.20 387.55h1.0v2.04h-1.0zM570.00 387.45h1.0v0.60h-1.0zM570.80 386.28h1.0v1.17h-1.0zM571.60 384.55h1.0v1.72h-1.0zM572.40 384.19h1.0v0.60h-1.0zM573.20 383.93h1.0v0.60h-1.0zM574.80 384.11h1.0v0.60h-1.0zM575.60 383.26h1.0v0.86h-1.0zM576.40 382.04h1.0v1.22h-1.0zM577.20 380.92h1.0v1.12h-1.0zM578.00 380.73h1.0v0.60h-1.0zM579.60 380.14h1.0v1.12h-1.0zM582.00 376.92h1.0v3.43h-1.0zM585.20 379.55h1.0v2.31h-1.0zM586.00 378.46h1.0v1.10h-1.0zM586.80 375.17h1.0v3.29h-1.0zM587.60 374.40h1.0v0.77h-1.0zM590.00 375.41h1.0v0.61h-1.0zM590.80 375.00h1.0v0.60h-1.0zM592.40 375.58h1.0v2.66h-1.0zM598.00 383.69h1.0v0.87h-1.0zM598.80 382.82h1.0v0.87h-1.0zM600.40 381.63h1.0v1.55h-1.0zM602.00 383.24h1.0v0.60h-1.0zM602.80 382.17h1.0v1.07h-1.0zM605.20 381.14h1.0v1.14h-1.0zM606.00 380.38h1.0v0.76h-1.0zM606.80 380.30h1.0v0.60h-1.0zM607.60 379.45h1.0v0.85h-1.0zM608.40 378.23h1.0v1.22h-1.0zM609.20 378.20h1.0v0.60h-1.0zM610.00 378.01h1.0v0.60h-1.0zM610.80 377.39h1.0v0.62h-1.0zM614.80 379.44h1.0v1.56h-1.0zM615.60 378.48h1.0v0.97h-1.0zM616.40 377.20h1.0v1.28h-1.0zM617.20 376.64h1.0v0.60h-1.0zM618.00 375.56h1.0v1.08h-1.0zM618.80 375.28h1.0v0.60h-1.0zM620.40 375.40h1.0v0.60h-1.0zM621.20 375.10h1.0v0.60h-1.0zM622.80 375.94h1.0v0.60h-1.0zM623.60 375.24h1.0v0.70h-1.0zM625.20 375.85h1.0v2.42h-1.0zM626.00 374.89h1.0v0.96h-1.0zM628.40 377.37h1.0v1.63h-1.0zM630.00 375.82h1.0v1.92h-1.0zM630.80 375.47h1.0v0.60h-1.0zM632.40 373.78h1.0v2.22h-1.0zM634.00 373.62h1.0v0.60h-1.0zM634.80 372.58h1.0v1.05h-1.0zM635.60 371.75h1.0v0.83h-1.0zM636.40 371.07h1.0v0.67h-1.0zM637.20 370.82h1.0v0.60h-1.0zM638.00 370.49h1.0v0.60h-1.0zM638.80 369.88h1.0v0.61h-1.0zM640.40 370.51h1.0v0.68h-1.0zM641.20 369.83h1.0v0.68h-1.0zM642.00 368.76h1.0v1.07h-1.0zM643.60 367.85h1.0v1.84h-1.0zM646.80 367.03h1.0v3.09h-1.0zM648.40 366.13h1.0v0.97h-1.0zM650.80 366.90h1.0v0.74h-1.0zM651.60 365.06h1.0v1.84h-1.0zM652.40 364.11h1.0v0.95h-1.0zM654.00 362.30h1.0v2.56h-1.0zM656.40 368.35h1.0v1.39h-1.0zM657.20 368.17h1.0v0.60h-1.0zM658.00 367.49h1.0v0.68h-1.0zM658.80 366.87h1.0v0.63h-1.0zM662.80 369.98h1.0v5.38h-1.0zM664.40 368.27h1.0v4.14h-1.0zM666.00 368.21h1.0v1.08h-1.0zM666.80 367.48h1.0v0.73h-1.0zM667.60 367.25h1.0v0.60h-1.0zM669.20 368.57h1.0v0.61h-1.0zM674.80 374.59h1.0v0.60h-1.0zM675.60 371.39h1.0v3.20h-1.0zM677.20 370.61h1.0v2.56h-1.0zM681.20 378.72h1.0v1.27h-1.0zM682.00 376.88h1.0v1.84h-1.0zM682.80 373.80h1.0v3.08h-1.0zM683.60 372.63h1.0v1.16h-1.0zM685.20 371.51h1.0v1.48h-1.0zM686.80 371.30h1.0v1.63h-1.0zM690.00 371.29h1.0v1.20h-1.0zM691.60 371.52h1.0v1.61h-1.0zM693.20 369.99h1.0v1.59h-1.0zM694.00 367.90h1.0v2.09h-1.0zM694.80 366.81h1.0v1.09h-1.0zM698.00 368.47h1.0v2.14h-1.0zM698.80 368.17h1.0v0.60h-1.0zM699.60 365.68h1.0v2.50h-1.0zM700.40 365.46h1.0v0.60h-1.0zM701.20 363.16h1.0v2.30h-1.0zM702.80 364.88h1.0v1.24h-1.0zM704.40 364.66h1.0v1.53h-1.0zM705.20 363.87h1.0v0.79h-1.0zM706.00 361.70h1.0v2.17h-1.0zM706.80 361.22h1.0v0.60h-1.0zM707.60 359.92h1.0v1.31h-1.0zM708.40 359.64h1.0v0.60h-1.0zM710.00 360.10h1.0v0.60h-1.0zM710.80 358.99h1.0v1.11h-1.0zM711.60 358.17h1.0v0.83h-1.0zM713.20 356.19h1.0v2.33h-1.0zM714.80 354.71h1.0v2.04h-1.0zM716.40 354.74h1.0v0.60h-1.0zM719.60 356.33h1.0v1.88h-1.0zM721.20 356.28h1.0v0.60h-1.0zM723.60 360.21h1.0v0.89h-1.0zM724.40 357.13h1.0v3.07h-1.0zM727.60 357.88h1.0v1.99h-1.0zM729.20 359.29h1.0v2.26h-1.0zM733.20 365.49h1.0v0.60h-1.0zM734.00 360.28h1.0v5.21h-1.0zM734.80 359.83h1.0v0.60h-1.0zM739.60 373.45h1.0v5.31h-1.0zM741.20 370.85h1.0v3.95h-1.0zM742.00 366.03h1.0v4.82h-1.0zM744.40 366.78h1.0v2.61h-1.0zM746.00 369.90h1.0v0.93h-1.0zM747.60 371.69h1.0v1.70h-1.0zM748.40 370.65h1.0v1.03h-1.0zM749.20 367.85h1.0v2.80h-1.0zM750.00 365.45h1.0v2.40h-1.0zM751.60 364.55h1.0v3.12h-1.0zM752.40 363.46h1.0v1.09h-1.0zM753.20 363.16h1.0v0.60h-1.0zM754.80 363.70h1.0v0.60h-1.0zM755.60 363.17h1.0v0.60h-1.0zM756.40 363.13h1.0v0.60h-1.0zM757.20 361.25h1.0v1.88h-1.0zM759.60 359.38h1.0v4.41h-1.0zM760.40 356.80h1.0v2.58h-1.0zM762.00 355.84h1.0v2.60h-1.0zM763.60 354.81h1.0v1.82h-1.0zM764.40 353.76h1.0v1.05h-1.0zM765.20 352.55h1.0v1.21h-1.0zM767.60 352.83h1.0v3.53h-1.0zM768.40 351.40h1.0v1.42h-1.0zM770.80 352.59h1.0v0.60h-1.0zM771.60 351.03h1.0v1.56h-1.0zM773.20 350.36h1.0v0.95h-1.0zM774.00 347.86h1.0v2.51h-1.0zM774.80 347.20h1.0v0.66h-1.0zM777.20 347.40h1.0v3.36h-1.0zM778.00 343.15h1.0v4.24h-1.0zM782.00 347.59h1.0v3.52h-1.0zM782.80 341.28h1.0v6.31h-1.0zM784.40 340.58h1.0v0.73h-1.0zM785.20 335.36h1.0v5.22h-1.0zM786.80 338.49h1.0v2.64h-1.0zM787.60 323.96h1.0v14.53h-1.0zM788.40 323.02h1.0v0.94h-1.0zM789.20 318.60h1.0v4.42h-1.0zM790.00 317.80h1.0v0.80h-1.0zM790.80 308.86h1.0v8.94h-1.0zM792.40 319.56h1.0v0.82h-1.0zM796.40 334.91h1.0v8.04h-1.0zM798.00 330.96h1.0v6.57h-1.0zM798.80 321.41h1.0v9.55h-1.0zM800.40 321.62h1.0v5.94h-1.0zM801.20 320.25h1.0v1.37h-1.0zM806.00 337.86h1.0v2.67h-1.0zM806.80 331.61h1.0v6.25h-1.0zM809.20 340.88h1.0v0.60h-1.0zM810.80 341.42h1.0v2.71h-1.0zM811.60 333.09h1.0v8.32h-1.0zM812.40 329.13h1.0v3.96h-1.0zM813.20 328.07h1.0v1.07h-1.0zM816.40 334.18h1.0v2.64h-1.0zM818.00 335.52h1.0v0.60h-1.0zM819.60 333.24h1.0v4.55h-1.0zM822.00 336.10h1.0v0.65h-1.0zM822.80 330.35h1.0v5.74h-1.0zM823.60 328.02h1.0v2.33h-1.0zM825.20 331.62h1.0v0.60h-1.0zM826.80 333.51h1.0v2.92h-1.0zM827.60 329.44h1.0v4.07h-1.0zM828.40 325.92h1.0v3.52h-1.0zM829.20 322.48h1.0v3.44h-1.0zM830.00 321.70h1.0v0.78h-1.0zM832.40 325.06h1.0v3.04h-1.0zM833.20 323.55h1.0v1.51h-1.0zM834.00 323.33h1.0v0.60h-1.0zM834.80 322.93h1.0v0.60h-1.0zM835.60 322.58h1.0v0.60h-1.0zM836.40 319.59h1.0v3.00h-1.0zM837.20 318.28h1.0v1.31h-1.0zM839.60 318.17h1.0v1.33h-1.0zM840.40 317.00h1.0v1.18h-1.0zM841.20 313.95h1.0v3.05h-1.0zM842.80 311.81h1.0v2.84h-1.0zM845.20 314.90h1.0v1.52h-1.0zM846.80 317.45h1.0v1.19h-1.0zM850.00 326.85h1.0v3.21h-1.0zM852.40 330.19h1.0v0.60h-1.0zM853.20 327.33h1.0v2.85h-1.0zM854.80 324.21h1.0v3.85h-1.0zM856.40 331.17h1.0v3.16h-1.0zM858.80 334.62h1.0v7.75h-1.0zM861.20 335.66h1.0v2.20h-1.0zM863.60 339.80h1.0v7.65h-1.0zM864.40 336.27h1.0v3.53h-1.0zM867.60 338.80h1.0v2.58h-1.0zM869.20 338.64h1.0v2.71h-1.0zM870.80 342.03h1.0v0.60h-1.0zM871.60 338.13h1.0v3.90h-1.0zM873.20 341.87h1.0v1.68h-1.0zM876.40 348.53h1.0v4.17h-1.0zM877.20 348.28h1.0v0.60h-1.0zM878.00 344.90h1.0v3.38h-1.0z" fill="#26a69a" fill-opacity="0.8"/>
<path d="M5.90 397.68h1.2v2.20h-1.2zM16.10 389.17h1.2v3.37h-1.2zM17.80 392.54h1.2v2.64h-1.2zM21.20 394.44h1.2v2.03h-1.2zM22.90 396.47h1.2v1.00h-1.2zM24.60 397.47h1.2v0.83h-1.2zM26.30 398.30h1.2v2.11h-1.2zM29.70 398.29h1.2v1.73h-1.2zM31.40 400.01h1.2v2.09h-1.2zM34.80 400.00h1.2v0.60h-1.2zM38.20 396.94h1.2v0.77h-1.2zM39.90 397.71h1.2v1.47h-1.2zM41.60 399.18h1.2v0.60h-1.2zM48.40 395.95h1.2v0.60h-1.2zM56.90 393.44h1.2v0.60h-1.2zM58.60 394.04h1.2v0.65h-1.2zM60.30 394.68h1.2v0.60h-1.2zM62.00 395.08h1.2v0.81h-1.2zM63.70 395.89h1.2v0.60h-1.2zM65.40 396.29h1.2v0.68h-1.2zM67.10 396.98h1.2v0.60h-1.2zM70.50 396.69h1.2v0.60h-1.2zM75.60 394.16h1.2v0.73h-1.2zM87.50 391.04h1.2v1.74h-1.2zM90.90 392.62h1.2v0.63h-1.2zM97.70 390.71h1.2v0.60h-1.2zM102.80 388.76h1.2v0.60h-1.2zM106.20 375.21h1.2v2.01h-1.2zM107.90 377.22h1.2v0.98h-1.2zM109.60 378.20h1.2v1.88h-1.2zM114.70 374.52h1.2v0.60h-1.2zM119.80 372.62h1.2v0.89h-1.2zM123.20 373.22h1.2v0.71h-1.2zM130.00 370.62h1.2v0.60h-1.2zM135.10 368.23h1.2v0.77h-1.2zM136.80 369.01h1.2v0.60h-1.2zM138.50 369.33h1.2v5.06h-1.2zM141.90 373.94h1.2v2.41h-1.2zM147.00 375.11h1.2v0.60h-1.2zM148.70 375.47h1.2v0.84h-1.2zM150.40 376.31h1.2v1.11h-1.2zM158.90 367.37h1.2v0.70h-1.2zM162.30 366.57h1.2v1.90h-1.2zM164.00 368.47h1.2v2.63h-1.2zM165.70 371.09h1.2v0.98h-1.2zM167.40 372.07h1.2v0.60h-1.2zM174.20 370.79h1.2v0.79h-1.2zM175.90 371.58h1.2v0.60h-1.2zM177.60 371.93h1.2v2.77h-1.2zM181.00 372.88h1.2v2.17h-1.2zM182.70 375.05h1.2v1.48h-1.2zM187.80 373.00h1.2v2.36h-1.2zM191.20 371.31h1.2v1.85h-1.2zM194.60 370.15h1.2v1.33h-1.2zM196.30 371.48h1.2v2.44h-1.2zM199.70 371.11h1.2v2.51h-1.2zM203.10 369.34h1.2v0.60h-1.2zM211.60 363.61h1.2v1.13h-1.2zM213.30 364.73h1.2v1.43h-1.2zM215.00 366.16h1.2v2.14h-1.2zM220.10 367.54h1.2v4.97h-1.2zM221.80 372.50h1.2v1.07h-1.2zM225.20 379.67h1.2v0.84h-1.2zM232.00 377.91h1.2v0.60h-1.2zM233.70 378.04h1.2v1.03h-1.2zM238.80 374.99h1.2v2.14h-1.2zM242.20 377.11h1.2v2.00h-1.2zM243.90 379.11h1.2v1.72h-1.2zM249.00 380.23h1.2v0.60h-1.2zM254.10 376.42h1.2v7.45h-1.2zM257.50 379.83h1.2v4.34h-1.2zM259.20 384.17h1.2v4.93h-1.2zM262.60 388.17h1.2v5.66h-1.2zM266.00 388.97h1.2v1.18h-1.2zM274.50 382.66h1.2v0.60h-1.2zM276.20 382.89h1.2v2.34h-1.2zM279.60 384.71h1.2v0.60h-1.2zM284.70 381.04h1.2v2.21h-1.2zM286.40 383.24h1.2v2.13h-1.2zM289.80 384.82h1.2v2.56h-1.2zM293.20 381.30h1.2v3.53h-1.2zM294.90 384.83h1.2v1.96h-1.2zM296.60 386.79h1.2v6.83h-1.2zM300.00 388.28h1.2v0.60h-1.2zM305.10 386.89h1.2v0.60h-1.2zM306.80 387.31h1.2v0.91h-1.2zM311.90 386.77h1.2v0.90h-1.2zM315.30 383.68h1.2v2.15h-1.2zM317.00 385.82h1.2v0.81h-1.2zM322.10 380.70h1.2v4.05h-1.2zM323.80 384.74h1.2v1.49h-1.2zM327.20 385.29h1.2v3.07h-1.2zM328.90 388.36h1.2v2.61h-1.2zM335.70 388.55h1.2v1.27h-1.2zM345.90 381.66h1.2v0.60h-1.2zM347.60 379.53h1.0v0.60h-1.0zM351.60 376.50h1.0v2.65h-1.0zM352.40 379.16h1.0v3.03h-1.0zM353.20 382.19h1.0v0.88h-1.0zM354.00 383.07h1.0v0.87h-1.0zM354.80 383.94h1.0v0.60h-1.0zM356.40 384.32h1.0v0.60h-1.0zM358.80 383.13h1.0v2.42h-1.0zM359.60 385.55h1.0v0.88h-1.0zM360.40 386.42h1.0v2.28h-1.0zM362.00 388.63h1.0v0.60h-1.0zM362.80 388.69h1.0v1.22h-1.0zM363.60 389.91h1.0v0.60h-1.0zM364.40 390.13h1.0v2.25h-1.0zM366.00 391.02h1.0v1.72h-1.0zM366.80 392.74h1.0v0.91h-1.0zM368.40 392.62h1.0v0.60h-1.0zM370.00 391.54h1.0v1.31h-1.0zM374.00 389.51h1.0v1.81h-1.0zM376.40 389.47h1.0v1.22h-1.0zM378.00 390.15h1.0v2.51h-1.0zM378.80 392.65h1.0v2.62h-1.0zM380.40 394.01h1.0v5.18h-1.0zM382.00 398.50h1.0v0.85h-1.0zM383.60 395.95h1.0v0.60h-1.0zM385.20 417.10h1.0v1.43h-1.0zM387.60 410.25h1.0v1.91h-1.0zM388.40 412.16h1.0v0.67h-1.0zM389.20 412.83h1.0v2.91h-1.0zM390.00 415.74h1.0v5.42h-1.0zM390.80 421.16h1.0v3.53h-1.0zM392.40 422.27h1.0v0.60h-1.0zM394.00 421.53h1.0v1.07h-1.0zM394.80 422.60h1.0v0.76h-1.0zM395.60 423.36h1.0v0.60h-1.0zM396.40 423.82h1.0v0.78h-1.0zM397.20 424.60h1.0v1.47h-1.0zM402.00 417.20h1.0v0.60h-1.0zM403.60 415.66h1.0v0.60h-1.0zM404.40 415.67h1.0v4.33h-1.0zM406.00 418.01h1.0v3.86h-1.0zM407.60 418.18h1.0v5.93h-1.0zM408.40 424.10h1.0v0.60h-1.0zM409.20 424.48h1.0v15.37h-1.0zM411.60 430.07h1.0v2.29h-1.0zM413.20 431.37h1.0v2.18h-1.0zM414.80 427.13h1.0v0.60h-1.0zM415.60 427.14h1.0v0.60h-1.0zM417.20 421.12h1.0v0.91h-1.0zM419.60 418.19h1.0v2.37h-1.0zM420.40 420.56h1.0v0.65h-1.0zM422.00 418.34h1.0v1.01h-1.0zM424.40 414.21h1.0v0.60h-1.0zM426.00 412.34h1.0v1.77h-1.0zM427.60 411.56h1.0v0.73h-1.0zM428.40 412.29h1.0v0.94h-1.0zM431.60 409.93h1.0v0.60h-1.0zM434.80 406.00h1.0v0.60h-1.0zM435.60 406.41h1.0v0.60h-1.0zM437.20 405.01h1.0v1.09h-1.0zM438.00 406.09h1.0v0.97h-1.0zM439.60 406.33h1.0v2.19h-1.0zM442.80 404.45h1.0v1.22h-1.0zM445.20 403.78h1.0v1.08h-1.0zM446.00 404.86h1.0v0.81h-1.0zM446.80 405.67h1.0v0.60h-1.0zM450.00 404.93h1.0v0.68h-1.0zM451.60 405.46h1.0v0.60h-1.0zM453.20 404.06h1.0v0.60h-1.0zM454.80 404.31h1.0v0.60h-1.0zM455.60 404.75h1.0v0.60h-1.0zM457.20 403.91h1.0v0.60h-1.0zM458.00 404.34h1.0v0.60h-1.0zM458.80 404.36h1.0v0.60h-1.0zM460.40 403.04h1.0v0.60h-1.0zM463.60 402.64h1.0v0.60h-1.0zM464.40 402.66h1.0v0.60h-1.0zM465.20 403.02h1.0v0.60h-1.0zM466.00 403.26h1.0v0.60h-1.0zM466.80 403.35h1.0v0.60h-1.0zM467.60 403.66h1.0v0.78h-1.0zM471.60 401.86h1.0v0.60h-1.0zM473.20 401.34h1.0v1.11h-1.0zM474.00 402.45h1.0v0.60h-1.0zM475.60 401.36h1.0v0.60h-1.0zM477.20 401.72h1.0v0.60h-1.0zM478.80 401.71h1.0v0.60h-1.0zM479.60 401.76h1.0v0.60h-1.0zM481.20 401.54h1.0v0.60h-1.0zM483.60 400.76h1.0v0.60h-1.0zM484.40 400.94h1.0v0.75h-1.0zM485.20 401.69h1.0v1.09h-1.0zM486.00 402.78h1.0v1.42h-1.0zM486.80 404.20h1.0v2.79h-1.0zM488.40 406.23h1.0v2.10h-1.0zM493.20 403.92h1.0v1.14h-1.0zM494.80 403.33h1.0v1.27h-1.0zM495.60 404.60h1.0v0.60h-1.0zM497.20 403.87h1.0v0.60h-1.0zM499.60 403.76h1.0v0.81h-1.0zM500.40 404.57h1.0v0.74h-1.0zM501.20 405.31h1.0v1.98h-1.0zM505.20 403.42h1.0v0.67h-1.0zM506.00 404.10h1.0v0.86h-1.0zM507.60 403.40h1.0v0.60h-1.0zM508.40 403.40h1.0v0.60h-1.0zM509.20 403.94h1.0v0.60h-1.0zM510.80 403.81h1.0v0.78h-1.0zM512.40 403.58h1.0v0.60h-1.0zM513.20 404.02h1.0v1.03h-1.0zM514.80 404.87h1.0v1.53h-1.0zM515.60 406.40h1.0v1.51h-1.0zM516.40 407.91h1.0v0.60h-1.0zM517.20 408.35h1.0v2.70h-1.0zM523.60 402.01h1.0v1.35h-1.0zM525.20 403.14h1.0v0.72h-1.0zM527.60 402.90h1.0v1.38h-1.0zM529.20 402.06h1.0v0.60h-1.0zM532.40 398.33h1.0v0.76h-1.0zM534.80 398.95h1.0v0.60h-1.0zM535.60 399.44h1.0v0.60h-1.0zM536.40 399.44h1.0v0.60h-1.0zM538.00 398.14h1.0v0.60h-1.0zM539.60 397.18h1.0v0.60h-1.0zM541.20 396.73h1.0v0.60h-1.0zM544.40 395.31h1.0v0.60h-1.0zM546.00 394.74h1.0v0.85h-1.0zM546.80 395.59h1.0v0.72h-1.0zM549.20 395.66h1.0v0.68h-1.0zM552.40 395.08h1.0v1.06h-1.0zM554.80 392.03h1.0v0.60h-1.0zM555.60 392.31h1.0v0.60h-1.0zM557.20 389.77h1.0v1.17h-1.0zM559.60 389.37h1.0v0.69h-1.0zM560.40 390.05h1.0v0.60h-1.0zM561.20 390.40h1.0v0.75h-1.0zM562.80 390.37h1.0v0.60h-1.0zM564.40 390.49h1.0v0.60h-1.0zM566.80 390.88h1.0v0.97h-1.0zM574.00 383.93h1.0v0.60h-1.0zM578.80 380.73h1.0v0.60h-1.0zM580.40 380.14h1.0v0.60h-1.0zM581.20 380.27h1.0v0.60h-1.0zM582.80 376.92h1.0v0.60h-1.0zM583.60 377.33h1.0v4.24h-1.0zM584.40 381.56h1.0v0.60h-1.0zM588.40 374.40h1.0v0.60h-1.0zM589.20 374.77h1.0v1.25h-1.0zM591.60 375.00h1.0v3.24h-1.0zM593.20 375.58h1.0v1.21h-1.0zM594.00 376.79h1.0v3.73h-1.0zM594.80 380.52h1.0v2.36h-1.0zM595.60 382.88h1.0v0.60h-1.0zM596.40 383.07h1.0v1.23h-1.0zM597.20 384.29h1.0v0.60h-1.0zM599.60 382.82h1.0v0.60h-1.0zM601.20 381.63h1.0v2.10h-1.0zM603.60 382.17h1.0v0.60h-1.0zM604.40 382.18h1.0v0.60h-1.0zM611.60 377.39h1.0v1.23h-1.0zM612.40 378.62h1.0v0.78h-1.0zM613.20 379.40h1.0v0.60h-1.0zM614.00 379.55h1.0v1.45h-1.0zM619.60 375.28h1.0v0.71h-1.0zM622.00 375.10h1.0v1.12h-1.0zM624.40 375.24h1.0v3.02h-1.0zM626.80 374.89h1.0v2.14h-1.0zM627.60 377.03h1.0v1.96h-1.0zM629.20 377.37h1.0v0.60h-1.0zM631.60 375.47h1.0v0.60h-1.0zM633.20 373.78h1.0v0.60h-1.0zM639.60 369.88h1.0v1.32h-1.0zM642.80 368.76h1.0v0.93h-1.0zM644.40 367.85h1.0v0.60h-1.0zM645.20 368.35h1.0v1.54h-1.0zM646.00 369.89h1.0v0.60h-1.0zM647.60 367.03h1.0v0.60h-1.0zM649.20 366.13h1.0v0.67h-1.0zM650.00 366.81h1.0v0.83h-1.0zM653.20 364.11h1.0v0.75h-1.0zM654.80 362.30h1.0v4.50h-1.0zM655.60 366.80h1.0v2.94h-1.0zM659.60 366.87h1.0v1.01h-1.0zM660.40 367.87h1.0v2.26h-1.0zM661.20 370.13h1.0v2.27h-1.0zM662.00 372.40h1.0v2.95h-1.0zM663.60 369.98h1.0v2.44h-1.0zM665.20 368.27h1.0v1.01h-1.0zM668.40 367.25h1.0v1.94h-1.0zM670.00 368.57h1.0v1.87h-1.0zM670.80 370.44h1.0v0.60h-1.0zM671.60 370.63h1.0v0.94h-1.0zM672.40 371.57h1.0v0.94h-1.0zM673.20 372.51h1.0v0.62h-1.0zM674.00 373.12h1.0v1.50h-1.0zM676.40 371.39h1.0v1.79h-1.0zM678.00 370.61h1.0v4.21h-1.0zM678.80 374.83h1.0v2.15h-1.0zM679.60 376.98h1.0v1.09h-1.0zM680.40 378.07h1.0v1.92h-1.0zM684.40 372.63h1.0v0.60h-1.0zM686.00 371.51h1.0v1.41h-1.0zM687.60 371.30h1.0v0.60h-1.0zM688.40 371.78h1.0v0.60h-1.0zM689.20 371.93h1.0v0.60h-1.0zM690.80 371.29h1.0v1.84h-1.0zM692.40 371.52h1.0v0.60h-1.0zM695.60 366.81h1.0v0.77h-1.0zM696.40 367.58h1.0v2.00h-1.0zM697.20 369.58h1.0v1.03h-1.0zM702.00 363.16h1.0v2.97h-1.0zM703.60 364.88h1.0v1.31h-1.0zM709.20 359.64h1.0v1.04h-1.0zM712.40 358.17h1.0v0.60h-1.0zM714.00 356.19h1.0v0.60h-1.0zM715.60 354.71h1.0v0.61h-1.0zM717.20 354.74h1.0v0.60h-1.0zM718.00 354.79h1.0v0.60h-1.0zM718.80 354.90h1.0v3.31h-1.0zM720.40 356.33h1.0v0.60h-1.0zM722.00 356.28h1.0v1.95h-1.0zM722.80 358.23h1.0v2.87h-1.0zM725.20 357.13h1.0v0.60h-1.0zM726.00 357.14h1.0v1.73h-1.0zM726.80 358.87h1.0v1.00h-1.0zM728.40 357.88h1.0v3.67h-1.0zM730.00 359.29h1.0v1.99h-1.0zM730.80 361.28h1.0v1.83h-1.0zM731.60 363.12h1.0v0.63h-1.0zM732.40 363.74h1.0v2.26h-1.0zM735.60 359.83h1.0v6.71h-1.0zM736.40 366.54h1.0v6.10h-1.0zM737.20 372.64h1.0v1.74h-1.0zM738.00 374.38h1.0v1.30h-1.0zM738.80 375.68h1.0v3.08h-1.0zM740.40 373.45h1.0v1.35h-1.0zM742.80 366.03h1.0v0.75h-1.0zM743.60 366.78h1.0v2.61h-1.0zM745.20 366.78h1.0v4.05h-1.0zM746.80 369.90h1.0v3.49h-1.0zM750.80 365.45h1.0v2.22h-1.0zM754.00 363.16h1.0v1.03h-1.0zM758.00 361.25h1.0v1.04h-1.0zM758.80 362.30h1.0v1.49h-1.0zM761.20 356.80h1.0v1.64h-1.0zM762.80 355.84h1.0v0.79h-1.0zM766.00 352.55h1.0v0.60h-1.0zM766.80 352.88h1.0v3.48h-1.0zM769.20 351.40h1.0v0.60h-1.0zM770.00 351.74h1.0v0.93h-1.0zM772.40 351.03h1.0v0.60h-1.0zM775.60 347.20h1.0v1.36h-1.0zM776.40 348.56h1.0v2.20h-1.0zM778.80 343.15h1.0v1.18h-1.0zM779.60 344.34h1.0v2.30h-1.0zM780.40 346.64h1.0v2.45h-1.0zM781.20 349.09h1.0v2.02h-1.0zM783.60 341.28h1.0v0.60h-1.0zM786.00 335.36h1.0v5.76h-1.0zM791.60 308.86h1.0v11.51h-1.0zM793.20 319.56h1.0v4.13h-1.0zM794.00 323.68h1.0v7.31h-1.0zM794.80 330.99h1.0v8.49h-1.0zM795.60 339.48h1.0v3.47h-1.0zM797.20 334.91h1.0v2.62h-1.0zM799.60 321.41h1.0v6.14h-1.0zM802.00 320.25h1.0v3.52h-1.0zM802.80 323.77h1.0v3.92h-1.0zM803.60 327.69h1.0v0.60h-1.0zM804.40 327.76h1.0v6.23h-1.0zM805.20 333.99h1.0v6.54h-1.0zM807.60 331.61h1.0v0.60h-1.0zM808.40 331.69h1.0v9.57h-1.0zM810.00 340.88h1.0v3.26h-1.0zM814.00 328.07h1.0v0.60h-1.0zM814.80 328.11h1.0v1.79h-1.0zM815.60 329.90h1.0v6.92h-1.0zM817.20 334.18h1.0v1.91h-1.0zM818.80 335.52h1.0v2.27h-1.0zM820.40 333.24h1.0v0.60h-1.0zM821.20 333.41h1.0v3.34h-1.0zM824.40 328.02h1.0v3.76h-1.0zM826.00 331.62h1.0v4.81h-1.0zM830.80 321.70h1.0v4.27h-1.0zM831.60 325.97h1.0v2.13h-1.0zM838.00 318.28h1.0v0.60h-1.0zM838.80 318.43h1.0v1.07h-1.0zM842.00 313.95h1.0v0.71h-1.0zM843.60 311.81h1.0v3.95h-1.0zM844.40 315.77h1.0v0.65h-1.0zM846.00 314.90h1.0v3.74h-1.0zM847.60 317.45h1.0v0.82h-1.0zM848.40 318.27h1.0v5.53h-1.0zM849.20 323.80h1.0v6.26h-1.0zM850.80 326.85h1.0v2.76h-1.0zM851.60 329.61h1.0v1.06h-1.0zM854.00 327.33h1.0v0.73h-1.0zM855.60 324.21h1.0v10.13h-1.0zM857.20 331.17h1.0v8.79h-1.0zM858.00 339.96h1.0v2.42h-1.0zM859.60 334.62h1.0v1.93h-1.0zM860.40 336.55h1.0v1.31h-1.0zM862.00 335.66h1.0v3.98h-1.0zM862.80 339.64h1.0v7.81h-1.0zM865.20 336.27h1.0v2.75h-1.0zM866.00 339.01h1.0v0.64h-1.0zM866.80 339.65h1.0v1.72h-1.0zM868.40 338.80h1.0v2.55h-1.0zM870.00 338.64h1.0v3.57h-1.0zM872.40 338.13h1.0v5.42h-1.0zM874.00 341.87h1.0v0.82h-1.0zM874.80 342.69h1.0v5.02h-1.0zM875.60 347.71h1.0v4.99h-1.0zM878.80 344.90h1.0v1.95h-1.0zM879.60 346.85h1.0v3.69h-1.0zM880.40 350.54h1.0v0.60h-1.0z" fill="#ef5350" fill-opacity="0.8"/>
<path d="M409.7 430.0V440.6M791.6 307.0V320.0M391.2 416.0V425.7M320.0 379.7V388.0M842.7 312.7V318.0M796.3 335.0V344.4" stroke="#737375" stroke-width="0.6" fill="none"/>
<rect x="409.2" y="431.0" width="1" height="8.6" fill="#ef5350" opacity="0.8"/>
<rect x="791.1" y="308.0" width="1" height="11.0" fill="#ef5350" opacity="0.8"/>
<rect x="390.7" y="417.0" width="1" height="7.7" fill="#ef5350" opacity="0.8"/>
<rect x="319.5" y="380.7" width="1" height="6.3" fill="#ef5350" opacity="0.8"/>
<rect x="842.2" y="313.7" width="1" height="3.3" fill="#26a69a" opacity="0.8"/>
<rect x="795.8" y="336.0" width="1" height="7.4" fill="#ef5350" opacity="0.8"/>
<rect x="7" y="481.2" width="970" height="35.5" fill="#7e57c2" fill-opacity="0.1"/>
<line x1="7" y1="481.2" x2="977" y2="481.2" stroke="#9598a1" stroke-width="1" stroke-dasharray="3.4 3.3"/>
<line x1="7" y1="499" x2="977" y2="499" stroke="#9598a1" stroke-width="1" stroke-dasharray="3.4 3.3"/>
<line x1="7" y1="516.7" x2="977" y2="516.7" stroke="#9598a1" stroke-width="1" stroke-dasharray="3.4 3.3"/>
<line x1="7" y1="499.4" x2="977" y2="499.4" stroke="#2962ff" stroke-width="1" opacity="0.75"/>
<polyline points="6.0,508.8 6.8,502.9 7.5,502.4 8.3,498.6 9.1,495.8 9.9,493.9 10.7,491.3 11.5,491.9 12.3,488.5 13.1,486.3 13.8,483.8 14.6,484.1 15.4,485.3 16.0,495.4 16.6,499.4 17.7,494.7 18.5,497.0 19.3,498.8 20.1,504.1 20.9,502.5 21.6,504.7 22.4,506.4 23.2,509.1 24.0,511.0 24.8,511.1 25.6,513.8 26.3,515.8 27.1,513.5 27.9,517.2 28.7,515.0 29.4,518.5 30.2,519.7 31.0,519.1 31.8,515.1 32.6,511.1 33.4,507.3 34.1,506.8 34.9,502.5 35.7,498.8 36.5,494.4 37.3,490.8 38.1,498.7 38.8,501.1 39.6,504.1 40.4,501.3 41.1,499.9 41.9,497.8 42.7,500.4 43.5,494.4 44.3,493.2 45.1,494.0 45.8,493.3 46.6,491.6 47.4,496.5 48.2,499.4 49.0,496.3 49.7,490.3 50.5,486.9 51.3,484.6 52.1,483.6 52.9,482.2 53.7,484.0 54.4,488.4 55.2,489.3 56.0,492.6 56.8,488.9 57.6,490.8 58.4,493.1 59.1,491.8 59.9,494.7 60.7,496.2 61.5,499.6 62.3,502.5 63.1,500.7 63.8,497.7 64.6,496.3 65.4,492.9 66.1,500.8 66.9,499.4 67.7,500.6 68.5,501.5 69.3,505.4 70.1,505.7 70.9,501.4 71.6,496.5 72.4,495.5 73.2,494.1 74.0,490.8 74.8,493.7 75.5,493.7 76.3,497.1 77.1,495.8 77.9,492.1 78.7,488.5 79.5,486.1 80.2,490.5 81.0,486.9 81.8,485.6 82.5,481.4 83.3,481.4 84.1,482.0 84.9,481.2 85.7,480.7 86.5,484.8 87.3,485.3 88.0,487.0 88.8,493.2 89.6,498.2 90.4,501.1 91.2,502.5 92.0,500.7 92.7,497.4 93.5,493.2 94.3,494.0 95.0,491.4 95.8,488.5 96.6,489.8 97.4,489.2 98.2,491.6 99.0,492.8 99.7,491.9 100.5,489.3 101.3,487.9 102.1,485.3 102.9,476.7 103.7,467.4 104.5,468.7 105.2,463.2 106.0,467.4 106.8,470.9 107.5,468.9 108.3,476.0 109.1,480.0 109.9,483.0 110.7,482.3 111.5,481.2 112.3,475.2 113.1,475.5 113.8,478.1 114.6,478.3 115.4,477.5 116.1,473.0 116.9,476.0 117.7,478.6 118.5,478.7 119.3,479.9 120.1,480.6 120.8,479.4 121.6,481.4 122.4,483.0 123.2,484.8 124.0,486.1 124.8,486.6 125.5,483.1 126.3,480.7 127.1,485.5 127.9,477.5 128.7,476.8 129.5,478.0 130.2,479.9 131.0,481.4 131.8,479.3 132.5,482.6 133.3,479.1 134.1,481.1 134.9,478.5 135.7,481.4 136.5,490.3 137.3,498.6 138.1,505.4 138.8,508.0 139.6,503.3 140.4,503.3 141.2,506.2 141.9,508.2 142.7,511.1 143.5,514.2 144.3,509.8 145.1,508.0 145.9,505.8 146.6,504.0 147.4,503.3 148.4,509.8 149.4,509.6 150.4,505.3 151.3,502.5 152.1,502.6 152.9,492.1 153.7,490.8 154.5,488.0 155.2,485.3 156.0,483.0 156.8,482.1 157.5,483.2 158.3,483.8 159.1,486.4 159.9,485.3 160.7,487.7 161.5,484.8 162.3,489.0 163.1,486.1 163.8,495.4 164.4,499.4 165.4,502.6 166.3,508.0 167.1,507.3 167.8,501.0 168.6,504.1 169.4,506.0 170.1,501.9 170.9,504.1 171.7,500.9 172.5,503.2 173.3,497.1 174.1,497.6 174.8,502.4 175.6,504.9 176.4,501.6 177.2,498.7 178.0,500.2 178.8,500.9 179.5,505.9 180.3,508.0 181.1,507.0 181.9,509.4 182.6,512.9 183.4,512.7 184.2,510.4 185.0,506.3 185.8,506.4 186.6,503.6 187.3,495.5 188.1,495.3 188.9,496.9 189.7,493.9 190.5,490.6 191.2,493.8 192.0,489.3 192.8,486.7 193.6,488.5 194.4,489.1 195.2,495.5 196.2,498.0 197.2,501.8 198.1,495.3 199.1,490.0 199.8,493.7 200.6,496.3 201.4,493.1 202.2,492.8 203.0,489.3 203.8,490.6 204.5,486.1 205.3,486.1 206.1,483.5 206.9,485.0 207.7,485.3 208.7,482.5 209.7,476.8 210.6,482.9 211.6,486.1 212.4,485.8 213.1,485.0 213.9,486.9 214.7,494.4 215.5,501.8 216.3,502.5 217.0,498.5 217.8,498.6 218.6,504.0 219.4,505.3 220.2,508.0 220.9,510.1 221.7,511.1 222.5,508.5 223.3,508.0 224.1,515.5 224.8,518.2 225.6,517.6 226.4,514.1 227.2,515.8 228.0,514.2 228.8,509.6 229.6,508.4 230.3,510.5 231.1,508.0 231.9,508.0 232.6,506.2 233.4,507.2 234.2,506.4 234.9,503.5 235.6,500.8 236.3,500.1 237.0,497.8 237.9,503.3 238.9,505.7 239.7,506.1 240.5,506.1 241.3,506.4 242.1,507.1 242.8,510.6 243.6,511.1 244.4,510.6 245.1,510.8 245.9,508.0 246.7,509.1 247.5,512.5 248.3,506.6 249.1,509.6 249.9,506.2 250.6,503.8 251.4,499.4 252.2,501.0 253.0,499.4 253.8,505.4 254.5,516.6 255.3,513.3 256.1,514.0 256.9,512.7 257.7,517.2 258.4,519.9 259.2,520.5 259.9,519.5 260.6,523.9 261.3,525.2 262.2,522.6 263.1,515.8 263.9,517.0 264.7,516.2 265.5,518.9 266.3,515.9 267.0,513.1 267.8,513.5 268.6,510.5 269.4,503.3 270.2,499.8 270.9,496.4 271.7,493.9 272.5,491.2 273.3,491.1 274.1,490.0 274.9,490.1 275.6,493.2 276.4,494.7 277.2,499.4 278.0,498.9 278.7,498.0 279.5,497.8 280.2,495.6 280.9,491.9 281.6,488.5 282.5,491.0 283.4,489.3 284.2,495.1 285.0,501.0 285.8,503.1 286.5,504.6 287.3,505.7 288.1,503.6 288.9,506.2 289.7,503.3 290.5,501.3 291.3,501.0 292.1,495.2 292.8,494.7 293.6,501.4 294.4,504.8 295.2,508.0 296.0,508.7 296.7,512.8 297.5,512.7 298.3,510.3 299.1,505.8 299.8,498.5 300.6,496.3 301.4,498.2 302.2,497.7 303.0,501.0 303.8,498.7 304.5,497.5 305.3,497.1 306.1,498.3 306.9,503.2 307.7,504.9 308.5,500.5 309.2,499.8 310.0,495.5 310.8,498.7 311.5,500.3 312.3,504.1 313.2,499.8 314.1,496.0 315.0,490.0 315.8,492.4 316.6,490.8 317.4,495.9 318.1,501.8 318.9,495.9 319.7,483.8 320.5,489.9 321.3,493.9 322.1,496.4 322.8,492.2 323.6,494.7 324.4,495.1 325.1,501.0 325.9,501.0 326.7,503.4 327.5,506.4 328.3,509.6 329.1,511.1 329.9,512.5 330.6,507.2 331.4,508.8 332.2,509.2 333.0,508.0 333.8,507.1 334.5,499.4 335.3,503.6 336.1,504.9 336.9,503.8 337.6,503.3 338.4,501.0 339.2,498.2 340.0,496.7 340.8,492.4 341.6,491.0 342.3,484.7 343.1,481.4 343.9,481.2 344.7,479.4 345.5,477.5 346.3,479.9 347.0,481.1 347.8,480.7 348.6,477.0 349.4,476.8 350.4,480.8 351.3,480.7 352.5,495.5 353.3,498.9 354.0,497.4 354.8,501.0 355.6,499.8 356.4,497.0 357.2,498.6 358.0,499.8 358.8,501.8 359.6,507.1 360.3,511.1 361.1,513.1 361.9,518.9 362.6,514.9 363.4,513.5 364.2,514.0 365.0,517.4 365.8,519.0 366.6,522.8 367.4,516.9 368.1,513.5 368.9,512.5 369.7,516.1 370.5,515.8 371.2,510.5 372.0,505.7 372.8,503.6 373.6,505.9 374.4,503.3 375.1,499.7 375.9,497.8 376.7,500.6 377.5,500.2 378.3,503.6 379.1,511.1 379.9,518.3 380.6,520.5 381.4,515.5 382.2,511.9 383.0,511.5 383.8,514.3 384.6,522.5 385.3,529.1 386.1,522.2 386.9,519.7 387.7,518.2 388.4,520.7 389.2,520.5 390.0,519.2 390.8,520.2 391.6,518.9 392.4,519.0 393.1,518.9 393.9,518.2 394.7,519.0 395.5,520.5 396.3,519.7 397.1,520.2 397.8,520.5 398.6,516.7 399.4,510.7 400.2,503.3 401.0,499.5 401.7,499.4 402.5,501.8 403.3,505.3 404.0,502.6 404.8,504.1 405.6,506.1 406.4,507.1 407.2,508.8 408.0,516.0 408.8,522.1 409.6,522.8 410.3,514.7 411.1,512.7 411.9,513.9 412.6,514.8 413.4,515.8 414.2,508.8 415.0,504.0 415.8,500.2 416.6,497.5 417.3,495.5 418.1,495.8 418.9,496.8 419.7,496.3 420.5,491.7 421.2,491.1 422.0,492.4 422.8,492.7 423.6,487.0 424.4,484.6 425.2,485.3 425.9,482.3 426.7,482.2 427.5,480.8 428.3,485.3 429.1,481.4 429.9,481.3 430.6,485.3 431.4,481.1 432.2,479.9 433.0,479.8 433.7,477.4 434.5,476.0 435.3,474.0 436.1,477.8 436.9,478.3 437.6,485.5 438.4,490.0 439.2,486.2 440.0,486.5 440.8,486.1 441.6,485.9 442.3,486.3 443.1,481.4 443.9,480.9 444.7,487.1 445.5,491.6 446.3,490.9 447.0,488.6 447.8,489.3 448.6,487.3 449.4,487.4 450.2,487.7 451.0,488.4 451.7,485.4 452.5,486.9 453.3,490.0 454.0,491.5 454.8,491.6 455.6,492.4 456.4,492.8 457.2,489.3 458.0,487.9 458.8,488.1 459.5,489.3 460.3,486.9 461.1,490.2 461.9,490.6 462.7,490.0 463.5,491.7 464.2,494.0 465.0,497.1 465.8,493.1 466.5,492.8 467.3,491.6 468.1,489.1 468.9,488.8 469.7,488.5 470.6,487.9 471.6,488.5 472.4,491.1 473.1,490.8 473.9,491.3 474.7,488.7 475.5,487.7 476.3,487.4 477.0,490.8 477.8,492.4 478.6,491.4 479.4,490.3 480.2,486.9 481.0,488.6 481.7,490.9 482.5,490.8 483.4,490.1 484.4,491.6 484.8,500.2 485.6,506.8 486.4,511.1 487.2,517.5 488.0,521.3 488.8,517.6 489.5,515.0 490.3,513.4 491.1,514.3 491.9,509.9 492.6,499.6 493.4,494.7 494.2,499.1 495.0,501.0 495.8,499.5 496.5,498.3 497.3,497.8 498.1,498.2 498.9,499.4 499.7,499.9 500.5,501.8 501.2,506.0 502.0,510.3 502.8,507.9 503.6,499.4 504.4,499.2 505.2,493.9 506.0,494.8 506.7,496.9 507.5,497.1 508.3,497.9 509.0,494.8 509.8,494.7 510.6,497.9 511.4,494.7 512.2,497.2 513.0,499.4 513.8,502.6 514.5,502.0 515.3,505.7 516.1,506.5 516.9,509.3 517.7,513.5 518.5,508.2 519.2,504.9 520.0,505.9 520.8,502.8 521.6,502.5 522.4,500.2 523.1,494.0 523.9,490.8 524.7,491.6 525.5,495.5 526.3,494.5 527.0,492.3 527.8,491.6 528.6,487.8 529.4,489.7 530.2,488.5 531.0,486.7 531.7,480.7 532.5,483.0 533.3,483.9 534.1,488.5 534.9,485.3 535.6,484.6 536.4,482.8 537.2,484.7 538.0,485.3 538.8,482.4 539.5,482.6 540.3,481.4 541.1,482.3 541.9,484.8 542.7,483.0 543.5,479.3 544.2,475.9 545.0,477.5 545.8,487.4 546.6,491.6 547.4,490.4 548.1,487.7 548.9,487.9 549.7,489.3 550.5,491.5 551.2,490.4 552.0,493.2 552.8,488.0 553.6,483.8 554.4,482.9 555.1,479.1 555.9,477.5 556.7,478.3 557.5,479.4 558.3,479.1 559.0,483.3 559.8,486.9 560.6,485.8 561.4,486.3 562.2,484.6 563.0,489.0 563.7,491.0 564.5,490.8 565.3,489.6 566.1,492.7 566.9,491.6 567.7,484.5 568.4,481.5 569.2,479.9 570.0,478.8 570.8,477.2 571.6,474.4 572.4,476.2 573.1,470.5 573.9,472.8 574.7,475.9 575.5,475.2 576.5,471.2 577.5,468.9 578.6,486.1 579.4,481.9 580.2,479.1 581.0,480.7 581.7,483.1 582.5,481.4 583.3,484.3 584.0,487.4 584.8,494.7 585.6,487.1 586.4,481.4 587.2,482.6 588.0,486.1 588.8,485.3 589.6,485.7 590.3,484.4 591.1,484.6 591.9,486.1 592.6,488.5 593.4,491.6 594.2,500.0 595.0,504.9 595.8,503.3 596.6,507.2 597.4,503.5 598.1,500.6 598.9,499.4 599.7,501.6 600.5,500.2 601.3,500.2 602.1,499.6 602.8,502.6 603.6,501.8 604.4,504.6 605.1,502.5 605.9,500.2 606.7,495.2 607.5,494.2 608.3,491.6 609.1,493.6 609.8,488.6 610.6,491.6 611.4,493.1 612.2,498.6 613.0,496.9 613.7,497.5 614.5,495.5 615.3,492.1 616.1,491.7 616.9,489.3 617.7,488.5 618.4,488.8 619.2,487.7 620.0,486.7 620.8,486.0 621.6,490.8 622.4,486.4 623.1,489.6 623.9,488.5 625.0,490.0 625.8,492.5 626.6,491.6 627.4,498.7 628.1,504.1 628.9,496.3 629.7,493.9 630.5,490.0 631.2,491.4 632.0,490.8 632.8,489.0 633.6,487.2 634.4,490.0 635.1,486.7 635.9,485.3 636.7,483.2 637.5,483.6 638.3,483.0 639.1,483.4 639.8,482.8 640.6,482.2 641.5,480.6 642.5,478.3 643.5,482.7 644.5,485.3 645.3,482.5 646.1,479.9 646.9,478.9 647.6,478.8 648.4,479.1 649.2,483.9 650.0,484.6 650.8,482.9 651.5,483.4 652.3,480.7 653.1,481.6 653.9,476.8 654.7,491.1 655.5,499.4 656.3,492.4 657.0,493.0 657.8,489.3 658.6,494.6 659.4,495.8 660.2,500.2 661.0,505.3 661.7,512.7 662.5,504.1 663.3,500.2 664.1,498.1 664.8,498.2 665.6,497.1 666.4,492.6 667.2,494.5 668.0,493.2 668.8,494.9 669.5,499.4 670.3,502.3 671.1,503.3 671.9,508.0 672.6,507.0 673.4,505.7 674.2,504.9 675.0,502.4 675.8,502.5 676.6,503.8 677.3,508.9 678.1,509.6 678.9,513.3 679.7,513.5 680.5,517.4 681.3,512.2 682.0,503.5 682.8,499.4 683.6,498.0 684.4,493.4 685.2,497.8 686.0,496.1 686.7,497.4 687.5,495.5 688.3,495.7 689.0,498.6 689.8,498.6 690.5,497.8 691.2,499.7 691.9,499.4 692.8,495.7 693.8,492.4 694.6,489.2 695.3,492.9 696.1,487.7 696.9,489.4 697.7,493.9 698.5,488.5 699.2,487.9 700.0,484.6 700.8,484.6 701.5,483.6 702.3,482.2 703.1,483.6 703.9,485.3 704.7,481.9 705.5,476.8 706.2,482.3 707.0,484.6 707.8,484.1 708.6,479.1 709.4,479.9 710.2,481.8 710.9,477.8 711.7,476.8 712.5,472.5 713.3,476.6 714.1,474.4 714.9,475.5 715.6,477.5 716.4,478.3 717.4,486.8 718.4,488.5 719.3,486.4 720.3,486.1 721.1,490.3 721.9,494.9 722.7,501.8 723.5,498.0 724.2,494.6 725.0,489.3 725.8,493.4 726.5,496.3 727.3,499.4 728.1,496.3 728.9,500.9 729.7,501.0 730.5,505.5 731.2,505.4 732.0,508.8 732.8,505.6 733.6,502.4 734.4,501.8 735.1,510.8 735.9,518.9 736.7,515.5 737.5,520.6 738.3,516.6 739.1,512.7 739.8,508.3 740.6,505.7 741.4,502.9 742.2,505.0 743.0,503.3 743.8,505.0 744.5,502.4 745.3,503.3 746.1,504.4 746.9,505.4 747.7,505.7 748.5,504.5 749.2,501.0 750.0,497.1 750.8,497.4 751.5,491.1 752.3,491.6 753.1,496.6 753.9,491.8 754.7,493.2 755.5,489.5 756.2,488.0 757.0,487.7 757.8,487.1 758.6,486.4 759.4,483.8 760.2,487.4 760.9,484.8 761.7,482.2 762.5,479.4 763.3,478.5 764.1,477.5 764.9,478.6 765.6,480.2 766.4,483.0 767.2,481.7 768.0,479.9 768.8,479.9 769.4,481.9 770.0,479.9 770.8,480.0 771.5,479.9 772.3,478.3 773.1,476.1 773.9,474.4 774.9,476.8 775.9,483.0 776.8,480.7 777.8,476.8 778.6,479.3 779.4,483.0 780.1,490.3 780.9,490.8 781.7,489.8 782.5,484.6 783.3,483.7 784.1,486.9 784.9,486.0 785.6,488.5 786.4,480.5 787.2,474.4 788.4,468.9 789.5,476.0 790.3,472.0 791.1,468.6 791.9,482.1 792.7,491.6 793.5,492.1 794.2,493.2 795.0,499.1 795.8,503.3 796.5,498.9 797.3,495.5 798.1,493.1 798.9,493.5 799.7,489.3 800.5,490.4 801.2,494.7 802.0,492.4 802.8,495.5 803.6,498.6 804.4,500.1 805.2,500.2 806.0,501.4 806.7,502.4 807.5,501.8 808.3,505.9 809.0,502.2 809.8,504.1 810.6,499.8 811.4,495.7 812.2,493.9 813.0,498.3 813.7,497.3 814.5,497.8 815.3,500.2 816.1,501.7 816.9,502.5 817.7,497.3 818.4,499.7 819.2,496.3 820.0,496.3 820.8,496.3 821.6,495.5 822.4,493.8 823.1,491.7 823.9,490.0 824.7,497.0 825.5,504.1 826.2,498.9 827.0,495.5 827.8,493.3 828.6,492.9 829.4,490.0 830.2,488.0 830.9,494.6 831.7,494.7 832.5,495.1 833.3,491.4 834.1,492.4 834.9,491.5 835.6,489.3 836.4,486.9 837.2,486.9 838.0,491.4 838.8,489.3 839.6,487.5 840.3,484.9 841.1,483.0 841.9,481.2 842.7,483.8 843.5,488.8 844.2,486.8 845.0,487.7 845.8,493.3 846.6,497.8 847.4,501.0 848.1,504.9 848.9,511.0 849.7,509.9 850.5,512.7 851.3,511.0 852.0,505.7 852.8,499.4 853.6,501.4 854.4,501.0 855.2,500.2 856.0,505.3 856.7,506.4 857.5,509.8 858.3,513.5 859.1,507.1 859.8,503.2 860.6,504.9 861.4,510.3 862.2,511.9 863.0,505.6 863.7,508.5 864.5,503.3 865.3,508.2 866.1,502.5 866.9,501.2 867.6,507.2 868.4,508.0 869.2,507.3 870.0,503.7 870.8,503.3 871.5,500.4 872.3,504.1 873.1,507.4 873.9,513.8 874.7,514.3 875.5,512.6 876.2,511.2 877.0,509.6 877.8,506.6 878.6,503.3 879.4,505.5 880.1,508.0 880.9,509.6" fill="none" stroke="#7e57c2" stroke-width="0.85" opacity="0.78"/>
<text x="983.6" y="316.62800000000004" font-size="8.4" fill="#4a4d57" text-anchor="start" textLength="27.2" lengthAdjust="spacingAndGlyphs" stroke="#4a4d57" stroke-width="0.18">120.000</text>
<text x="983.6" y="362.45200000000006" font-size="8.4" fill="#4a4d57" text-anchor="start" textLength="23.5" lengthAdjust="spacingAndGlyphs" stroke="#4a4d57" stroke-width="0.18">80.000</text>
<text x="983.6" y="385.36400000000003" font-size="8.4" fill="#4a4d57" text-anchor="start" textLength="23.5" lengthAdjust="spacingAndGlyphs" stroke="#4a4d57" stroke-width="0.18">60.000</text>
<text x="983.6" y="408.276" font-size="8.4" fill="#4a4d57" text-anchor="start" textLength="23.5" lengthAdjust="spacingAndGlyphs" stroke="#4a4d57" stroke-width="0.18">40.000</text>
<text x="983.6" y="431.18800000000005" font-size="8.4" fill="#4a4d57" text-anchor="start" textLength="23.5" lengthAdjust="spacingAndGlyphs" stroke="#4a4d57" stroke-width="0.18">20.000</text>
<text x="983.6" y="454.1" font-size="8.4" fill="#4a4d57" text-anchor="start" textLength="19.7" lengthAdjust="spacingAndGlyphs" stroke="#4a4d57" stroke-width="0.18">0.000</text>
<text x="983.6" y="301.1" font-size="8.4" fill="#4a4d57" text-anchor="start" textLength="13.8" lengthAdjust="spacingAndGlyphs" stroke="#4a4d57" stroke-width="0.18">USD</text>
<text x="983.6" y="479.5625" font-size="8.4" fill="#4a4d57" text-anchor="start" textLength="19.7" lengthAdjust="spacingAndGlyphs" stroke="#4a4d57" stroke-width="0.18">75.00</text>
<text x="983.6" y="523.9375" font-size="8.4" fill="#4a4d57" text-anchor="start" textLength="19.7" lengthAdjust="spacingAndGlyphs" stroke="#4a4d57" stroke-width="0.18">25.00</text>
<rect x="977" y="323.2" width="37.39999999999998" height="10.300000000000011" fill="#000000" rx="1"/>
<text x="983.6" y="331.15000000000003" font-size="8.4" fill="#ffffff" text-anchor="start" textLength="26.8" lengthAdjust="spacingAndGlyphs" stroke="#ffffff" stroke-width="0.25">100.606</text>
<rect x="977" y="333.5" width="33" height="11.0" fill="#2a2aff" rx="0"/>
<text x="983.6" y="341.8" font-size="8.4" fill="#ffffff" text-anchor="start" textLength="23.7" lengthAdjust="spacingAndGlyphs" stroke="#ffffff" stroke-width="0.25">94.438</text>
<rect x="977" y="344.6" width="33" height="10.399999999999977" fill="#089981" rx="0"/>
<text x="983.6" y="352.6" font-size="8.4" fill="#ffffff" text-anchor="start" textLength="23.7" lengthAdjust="spacingAndGlyphs" stroke="#ffffff" stroke-width="0.25">88.292</text>
<rect x="955.8" y="344.6" width="20.40000000000009" height="10.399999999999977" fill="#089981" rx="0"/>
<text x="958.5" y="352.6" font-size="8.4" fill="#ffffff" text-anchor="start" stroke="#ffffff" stroke-width="0.25">WTI</text>
<rect x="977" y="493.4" width="29" height="10.5" fill="#2962ff" rx="0"/>
<text x="983.6" y="501.45" font-size="8.4" fill="#ffffff" text-anchor="start" textLength="19.4" lengthAdjust="spacingAndGlyphs" stroke="#ffffff" stroke-width="0.25">49.31</text>
<rect x="977" y="503.9" width="29" height="10.399999999999977" fill="#7e57c2" rx="0"/>
<text x="983.6" y="511.9" font-size="8.4" fill="#ffffff" text-anchor="start" textLength="19.4" lengthAdjust="spacingAndGlyphs" stroke="#ffffff" stroke-width="0.25">38.94</text>
<text x="41.25" y="550.3" font-size="8.4" fill="#4a4d57" text-anchor="middle" textLength="8.41" lengthAdjust="spacingAndGlyphs" stroke="#4a4d57" stroke-width="0.18">10</text>
<text x="104.25" y="550.3" font-size="8.4" fill="#4a4d57" text-anchor="middle" textLength="17.22" lengthAdjust="spacingAndGlyphs" stroke="#4a4d57" stroke-width="0.35">2018</text>
<text x="158.25" y="550.3" font-size="8.4" fill="#4a4d57" text-anchor="middle" textLength="9.66" lengthAdjust="spacingAndGlyphs" stroke="#4a4d57" stroke-width="0.18">Jul</text>
<text x="225" y="550.3" font-size="8.4" fill="#4a4d57" text-anchor="middle" textLength="17.22" lengthAdjust="spacingAndGlyphs" stroke="#4a4d57" stroke-width="0.35">2019</text>
<text x="276.75" y="550.3" font-size="8.4" fill="#4a4d57" text-anchor="middle" textLength="9.66" lengthAdjust="spacingAndGlyphs" stroke="#4a4d57" stroke-width="0.18">Jul</text>
<text x="348.5" y="550.3" font-size="8.4" fill="#4a4d57" text-anchor="middle" textLength="17.22" lengthAdjust="spacingAndGlyphs" stroke="#4a4d57" stroke-width="0.35">2020</text>
<text x="415.5" y="550.3" font-size="8.4" fill="#4a4d57" text-anchor="middle" textLength="14.28" lengthAdjust="spacingAndGlyphs" stroke="#4a4d57" stroke-width="0.18">May</text>
<text x="467.5" y="550.3" font-size="8.4" fill="#4a4d57" text-anchor="middle" textLength="13.45" lengthAdjust="spacingAndGlyphs" stroke="#4a4d57" stroke-width="0.18">Aug</text>
<text x="552.5" y="550.3" font-size="8.4" fill="#4a4d57" text-anchor="middle" textLength="17.22" lengthAdjust="spacingAndGlyphs" stroke="#4a4d57" stroke-width="0.35">2021</text>
<text x="618.25" y="550.3" font-size="8.4" fill="#4a4d57" text-anchor="middle" textLength="14.28" lengthAdjust="spacingAndGlyphs" stroke="#4a4d57" stroke-width="0.18">May</text>
<text x="669.5" y="550.3" font-size="8.4" fill="#4a4d57" text-anchor="middle" textLength="13.45" lengthAdjust="spacingAndGlyphs" stroke="#4a4d57" stroke-width="0.18">Aug</text>
<text x="755" y="550.3" font-size="8.4" fill="#4a4d57" text-anchor="middle" textLength="17.22" lengthAdjust="spacingAndGlyphs" stroke="#4a4d57" stroke-width="0.35">2022</text>
<text x="821.25" y="550.3" font-size="8.4" fill="#4a4d57" text-anchor="middle" textLength="14.28" lengthAdjust="spacingAndGlyphs" stroke="#4a4d57" stroke-width="0.18">May</text>
<text x="872.5" y="550.3" font-size="8.4" fill="#4a4d57" text-anchor="middle" textLength="13.45" lengthAdjust="spacingAndGlyphs" stroke="#4a4d57" stroke-width="0.18">Aug</text>
<text x="959.25" y="550.3" font-size="8.4" fill="#4a4d57" text-anchor="middle" textLength="17.22" lengthAdjust="spacingAndGlyphs" stroke="#4a4d57" stroke-width="0.35">2023</text>
<text x="11.5" y="302.3" font-size="8.9" fill="#4a4d57" text-anchor="start" textLength="193" lengthAdjust="spacingAndGlyphs" stroke="#4a4d57" stroke-width="0.18">West Texas Intermediate Crude Oil cash, 1D, BLACKBULL</text>
<text x="210" y="302.3" font-size="8.9" textLength="27" lengthAdjust="spacingAndGlyphs" stroke-width="0.18"><tspan fill="#4a4d57" stroke="#4a4d57">O</tspan><tspan fill="#089981" stroke="#089981">87.402</tspan></text>
<text x="243" y="302.3" font-size="8.9" textLength="26.5" lengthAdjust="spacingAndGlyphs" stroke-width="0.18"><tspan fill="#4a4d57" stroke="#4a4d57">H</tspan><tspan fill="#089981" stroke="#089981">88.417</tspan></text>
<text x="275" y="302.3" font-size="8.9" textLength="25.75" lengthAdjust="spacingAndGlyphs" stroke-width="0.18"><tspan fill="#4a4d57" stroke="#4a4d57">L</tspan><tspan fill="#089981" stroke="#089981">87.402</tspan></text>
<text x="306.25" y="302.3" font-size="8.9" textLength="26.75" lengthAdjust="spacingAndGlyphs" stroke-width="0.18"><tspan fill="#4a4d57" stroke="#4a4d57">C</tspan><tspan fill="#089981" stroke="#089981">88.292</tspan></text>
<text x="338" y="302.3" font-size="8.9" fill="#089981" stroke="#089981" stroke-width="0.18" textLength="54" lengthAdjust="spacingAndGlyphs">+1.055 (+1.21%)</text>
<text x="11.5" y="313.2" font-size="8.9" fill="#4a4d57" text-anchor="start" textLength="84.8" lengthAdjust="spacingAndGlyphs" stroke="#4a4d57" stroke-width="0.18">MA (50, close, 0, SMA, 5)</text>
<text x="101.7" y="313.2" font-size="8.9" fill="#000000" text-anchor="start" textLength="26.2" lengthAdjust="spacingAndGlyphs" stroke="#000000" stroke-width="0.18">100.606</text>
<text x="11.5" y="323.7" font-size="8.9" fill="#4a4d57" text-anchor="start" textLength="88.5" lengthAdjust="spacingAndGlyphs" stroke="#4a4d57" stroke-width="0.18">MA (200, close, 0, SMA, 5)</text>
<text x="105.5" y="323.7" font-size="8.9" fill="#2a2aff" text-anchor="start" textLength="22.4" lengthAdjust="spacingAndGlyphs" stroke="#2a2aff" stroke-width="0.18">94.438</text>
<text x="11.9" y="468.2" font-size="8.9" fill="#4a4d57" text-anchor="start" textLength="88.6" lengthAdjust="spacingAndGlyphs" stroke="#4a4d57" stroke-width="0.18">RSI (14, close, SMA, 14, 2)</text>
<text x="105.2" y="468.2" font-size="8.9" fill="#7e57c2" text-anchor="start" textLength="19.2" lengthAdjust="spacingAndGlyphs" stroke="#7e57c2" stroke-width="0.18">38.94</text>
<text x="129.0" y="468.2" font-size="8.9" fill="#4a4d57" text-anchor="start" textLength="4.3" lengthAdjust="spacingAndGlyphs" stroke="#2a2d36" stroke-width="0.3">∅</text>
<text x="138.3" y="468.2" font-size="8.9" fill="#4a4d57" text-anchor="start" textLength="4.3" lengthAdjust="spacingAndGlyphs" stroke="#2a2d36" stroke-width="0.3">∅</text>
<g fill="#131722"><path d="M6 564h4.9v6.7h-2.1v-3.9h-2.8z"/><circle cx="13.3" cy="565.4" r="1.25"/><path d="M16.3 564h2.4l-2.1 6.7h-2.7z"/></g>
<text x="21.5" y="570.9" font-size="8" fill="#4a4d57" text-anchor="start" textLength="44.1" lengthAdjust="spacingAndGlyphs" stroke="#4a4d57" stroke-width="0.18">TradingView</text>
</svg>
</body></html>
